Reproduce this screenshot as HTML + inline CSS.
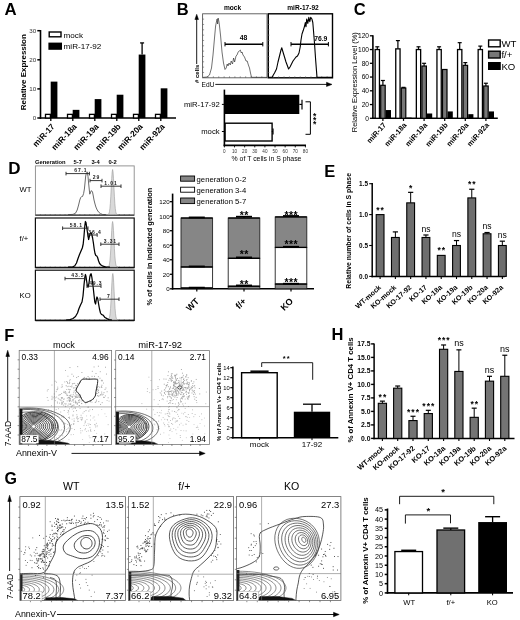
<!DOCTYPE html>
<html><head><meta charset="utf-8"><style>
html,body{margin:0;padding:0;background:#fff;width:520px;height:620px;overflow:hidden}
svg{display:block;filter:blur(0.3px)}
text{font-family:"Liberation Sans", sans-serif}
</style></head><body>
<svg width="520" height="620" viewBox="0 0 520 620">
<rect width="520" height="620" fill="#fff"/>
<text x="4.4" y="14.6" font-size="16.8" font-weight="bold" text-anchor="start" fill="#000">A</text>
<line x1="40.5" y1="30" x2="40.5" y2="118.8" stroke="#000" stroke-width="1.6"/>
<line x1="39.7" y1="118" x2="176" y2="118" stroke="#000" stroke-width="1.6"/>
<line x1="37.3" y1="118" x2="40.5" y2="118" stroke="#000" stroke-width="1.5"/>
<text x="36.2" y="120.2" font-size="6.2" text-anchor="end" fill="#333">0</text>
<line x1="37.3" y1="88.9" x2="40.5" y2="88.9" stroke="#000" stroke-width="1.5"/>
<text x="36.2" y="91.1" font-size="6.2" text-anchor="end" fill="#333">10</text>
<line x1="37.3" y1="59.8" x2="40.5" y2="59.8" stroke="#000" stroke-width="1.5"/>
<text x="36.2" y="62" font-size="6.2" text-anchor="end" fill="#333">20</text>
<line x1="37.3" y1="30.7" x2="40.5" y2="30.7" stroke="#000" stroke-width="1.5"/>
<text x="36.2" y="32.9" font-size="6.2" text-anchor="end" fill="#333">30</text>
<text font-size="8.0" font-weight="bold" text-anchor="middle" transform="translate(26.1,72.2) rotate(-90)">Relative Expression</text>
<rect x="45.5" y="114.36" width="4.9" height="3.64" fill="#fff" stroke="#000" stroke-width="1.3"/>
<rect x="50.7" y="81.62" width="6.7" height="36.38" fill="#000"/>
<line x1="50.8" y1="118" x2="50.8" y2="121" stroke="#000" stroke-width="1.3"/>
<text font-size="8.4" font-weight="bold" text-anchor="end" transform="translate(55.3,127) rotate(-47)">miR-17</text>
<rect x="67.5" y="114.36" width="4.9" height="3.64" fill="#fff" stroke="#000" stroke-width="1.3"/>
<rect x="72.7" y="109.85" width="6.7" height="8.15" fill="#000"/>
<line x1="72.8" y1="118" x2="72.8" y2="121" stroke="#000" stroke-width="1.3"/>
<text font-size="8.4" font-weight="bold" text-anchor="end" transform="translate(77.3,127) rotate(-47)">miR-18a</text>
<rect x="89.5" y="114.36" width="4.9" height="3.64" fill="#fff" stroke="#000" stroke-width="1.3"/>
<rect x="94.7" y="99.09" width="6.7" height="18.91" fill="#000"/>
<line x1="94.8" y1="118" x2="94.8" y2="121" stroke="#000" stroke-width="1.3"/>
<text font-size="8.4" font-weight="bold" text-anchor="end" transform="translate(99.3,127) rotate(-47)">miR-19a</text>
<rect x="111.5" y="114.36" width="4.9" height="3.64" fill="#fff" stroke="#000" stroke-width="1.3"/>
<rect x="116.7" y="94.72" width="6.7" height="23.28" fill="#000"/>
<line x1="116.8" y1="118" x2="116.8" y2="121" stroke="#000" stroke-width="1.3"/>
<text font-size="8.4" font-weight="bold" text-anchor="end" transform="translate(121.3,127) rotate(-47)">miR-19b</text>
<rect x="133.5" y="114.36" width="4.9" height="3.64" fill="#fff" stroke="#000" stroke-width="1.3"/>
<rect x="138.7" y="54.56" width="6.7" height="63.44" fill="#000"/>
<line x1="142.1" y1="54.56" x2="142.1" y2="42.92" stroke="#000" stroke-width="1.3"/>
<line x1="140.1" y1="42.92" x2="144.1" y2="42.92" stroke="#000" stroke-width="1.3"/>
<line x1="138.8" y1="118" x2="138.8" y2="121" stroke="#000" stroke-width="1.3"/>
<text font-size="8.4" font-weight="bold" text-anchor="end" transform="translate(143.3,127) rotate(-47)">miR-20a</text>
<rect x="155.5" y="114.36" width="4.9" height="3.64" fill="#fff" stroke="#000" stroke-width="1.3"/>
<rect x="160.7" y="88.32" width="6.7" height="29.68" fill="#000"/>
<line x1="160.8" y1="118" x2="160.8" y2="121" stroke="#000" stroke-width="1.3"/>
<text font-size="8.4" font-weight="bold" text-anchor="end" transform="translate(165.3,127) rotate(-47)">miR-92a</text>
<rect x="49.2" y="32" width="11.8" height="4.8" fill="#fff" stroke="#000" stroke-width="1.4"/>
<rect x="48.4" y="42.6" width="13.6" height="7.2" fill="#000"/>
<text x="63.6" y="37.6" font-size="8.1" text-anchor="start" fill="#000">mock</text>
<text x="63.6" y="49.2" font-size="8.1" text-anchor="start" fill="#000">miR-17-92</text>
<text x="176.8" y="14.6" font-size="16.5" font-weight="bold" text-anchor="start" fill="#000">B</text>
<text x="232.5" y="10.2" font-size="6.6" font-weight="bold" text-anchor="middle" fill="#000">mock</text>
<text x="303" y="10.2" font-size="6.6" font-weight="bold" text-anchor="middle" fill="#000">miR-17-92</text>
<rect x="202.6" y="13.8" width="64.4" height="64" fill="none" stroke="#555" stroke-width="0.9"/>
<rect x="268.3" y="13.8" width="64.2" height="64" fill="none" stroke="#000" stroke-width="1.4"/>
<line x1="202.6" y1="19.13" x2="204.1" y2="19.13" stroke="#555" stroke-width="0.6"/>
<line x1="202.6" y1="24.47" x2="204.1" y2="24.47" stroke="#555" stroke-width="0.6"/>
<line x1="202.6" y1="29.8" x2="204.1" y2="29.8" stroke="#555" stroke-width="0.6"/>
<line x1="202.6" y1="35.13" x2="204.1" y2="35.13" stroke="#555" stroke-width="0.6"/>
<line x1="202.6" y1="40.47" x2="204.1" y2="40.47" stroke="#555" stroke-width="0.6"/>
<line x1="202.6" y1="45.8" x2="204.1" y2="45.8" stroke="#555" stroke-width="0.6"/>
<line x1="202.6" y1="51.13" x2="204.1" y2="51.13" stroke="#555" stroke-width="0.6"/>
<line x1="202.6" y1="56.47" x2="204.1" y2="56.47" stroke="#555" stroke-width="0.6"/>
<line x1="202.6" y1="61.8" x2="204.1" y2="61.8" stroke="#555" stroke-width="0.6"/>
<line x1="202.6" y1="67.13" x2="204.1" y2="67.13" stroke="#555" stroke-width="0.6"/>
<line x1="202.6" y1="72.47" x2="204.1" y2="72.47" stroke="#555" stroke-width="0.6"/>
<line x1="207.98" y1="77.8" x2="207.98" y2="76.3" stroke="#555" stroke-width="0.6"/>
<line x1="213.37" y1="77.8" x2="213.37" y2="76.3" stroke="#555" stroke-width="0.6"/>
<line x1="218.75" y1="77.8" x2="218.75" y2="76.3" stroke="#555" stroke-width="0.6"/>
<line x1="224.13" y1="77.8" x2="224.13" y2="76.3" stroke="#555" stroke-width="0.6"/>
<line x1="229.52" y1="77.8" x2="229.52" y2="76.3" stroke="#555" stroke-width="0.6"/>
<line x1="234.9" y1="77.8" x2="234.9" y2="76.3" stroke="#555" stroke-width="0.6"/>
<line x1="240.28" y1="77.8" x2="240.28" y2="76.3" stroke="#555" stroke-width="0.6"/>
<line x1="245.67" y1="77.8" x2="245.67" y2="76.3" stroke="#555" stroke-width="0.6"/>
<line x1="251.05" y1="77.8" x2="251.05" y2="76.3" stroke="#555" stroke-width="0.6"/>
<line x1="256.43" y1="77.8" x2="256.43" y2="76.3" stroke="#555" stroke-width="0.6"/>
<line x1="261.82" y1="77.8" x2="261.82" y2="76.3" stroke="#555" stroke-width="0.6"/>
<line x1="267.9" y1="19.13" x2="269.4" y2="19.13" stroke="#555" stroke-width="0.6"/>
<line x1="267.9" y1="24.47" x2="269.4" y2="24.47" stroke="#555" stroke-width="0.6"/>
<line x1="267.9" y1="29.8" x2="269.4" y2="29.8" stroke="#555" stroke-width="0.6"/>
<line x1="267.9" y1="35.13" x2="269.4" y2="35.13" stroke="#555" stroke-width="0.6"/>
<line x1="267.9" y1="40.47" x2="269.4" y2="40.47" stroke="#555" stroke-width="0.6"/>
<line x1="267.9" y1="45.8" x2="269.4" y2="45.8" stroke="#555" stroke-width="0.6"/>
<line x1="267.9" y1="51.13" x2="269.4" y2="51.13" stroke="#555" stroke-width="0.6"/>
<line x1="267.9" y1="56.47" x2="269.4" y2="56.47" stroke="#555" stroke-width="0.6"/>
<line x1="267.9" y1="61.8" x2="269.4" y2="61.8" stroke="#555" stroke-width="0.6"/>
<line x1="267.9" y1="67.13" x2="269.4" y2="67.13" stroke="#555" stroke-width="0.6"/>
<line x1="267.9" y1="72.47" x2="269.4" y2="72.47" stroke="#555" stroke-width="0.6"/>
<line x1="273.28" y1="77.8" x2="273.28" y2="76.3" stroke="#555" stroke-width="0.6"/>
<line x1="278.67" y1="77.8" x2="278.67" y2="76.3" stroke="#555" stroke-width="0.6"/>
<line x1="284.05" y1="77.8" x2="284.05" y2="76.3" stroke="#555" stroke-width="0.6"/>
<line x1="289.43" y1="77.8" x2="289.43" y2="76.3" stroke="#555" stroke-width="0.6"/>
<line x1="294.82" y1="77.8" x2="294.82" y2="76.3" stroke="#555" stroke-width="0.6"/>
<line x1="300.2" y1="77.8" x2="300.2" y2="76.3" stroke="#555" stroke-width="0.6"/>
<line x1="305.58" y1="77.8" x2="305.58" y2="76.3" stroke="#555" stroke-width="0.6"/>
<line x1="310.97" y1="77.8" x2="310.97" y2="76.3" stroke="#555" stroke-width="0.6"/>
<line x1="316.35" y1="77.8" x2="316.35" y2="76.3" stroke="#555" stroke-width="0.6"/>
<line x1="321.73" y1="77.8" x2="321.73" y2="76.3" stroke="#555" stroke-width="0.6"/>
<line x1="327.12" y1="77.8" x2="327.12" y2="76.3" stroke="#555" stroke-width="0.6"/>
<path d="M203,77.4 L207,77 L209.5,75 L211.5,68 L213,55 L214.5,38 L215.6,26 L216.4,22 L217.1,19 L217.6,24 L218.1,18 L218.8,21 L219.4,25 L220.6,36 L222,52 L223.5,63 L225,69.5 L226.2,68 L227.2,64 L228,66 L229,63 L230.3,65 L231.2,61 L232.5,64 L233.6,58 L234.6,62 L236,56 L237,55 L238.2,52 L239.2,51 L240.3,50 L241.3,53 L242,52 L243,55 L244.5,57 L246,61 L247.2,61 L248.4,65 L249.5,68 L250.5,73 L251.5,77.3 L267,77.4" stroke="#333" stroke-width="0.7" fill="none" stroke-linejoin="round"/>
<path d="M268,77.4 L272,77.2 L274.5,73 L276.5,69 L278,62 L279.5,56 L281,50 L281.8,47.8 L283,52 L284.5,57 L286,62 L287.5,66 L288.6,69 L290,67 L291.5,64 L293,61 L294.5,59 L296,57 L297.5,56 L299,53 L300.2,47 L301,40 L302,34 L303.3,30.3 L304.6,26 L305.3,22.5 L306,26.8 L306.7,19 L307.8,23.4 L308.8,17.3 L309.8,21.6 L310.7,17.3 L311.9,19 L312.8,22.5 L313.6,32 L314.5,43.3 L315.7,60.6 L317,77.4 L332,77.4" stroke="#000" stroke-width="1.1" fill="none" stroke-linejoin="round"/>
<line x1="225" y1="44.2" x2="262.8" y2="44.2" stroke="#000" stroke-width="1.5"/>
<line x1="225" y1="42" x2="225" y2="46.4" stroke="#000" stroke-width="1"/>
<line x1="262.8" y1="42" x2="262.8" y2="46.4" stroke="#000" stroke-width="1"/>
<text x="243.5" y="39.6" font-size="6.8" font-weight="bold" text-anchor="middle" fill="#000">48</text>
<line x1="291" y1="44.2" x2="328.4" y2="44.2" stroke="#000" stroke-width="1.5"/>
<line x1="291" y1="42" x2="291" y2="46.4" stroke="#000" stroke-width="1"/>
<line x1="328.4" y1="42" x2="328.4" y2="46.4" stroke="#000" stroke-width="1"/>
<text x="320.8" y="40.6" font-size="6.8" font-weight="bold" text-anchor="middle" fill="#000">76.9</text>
<line x1="196.7" y1="64" x2="196.7" y2="17" stroke="#000" stroke-width="0.9"/>
<path d="M194.9,19.5 L196.7,14.3 L198.5,19.5 Z" stroke="#000" stroke-width="0.5" fill="#000" />
<text font-size="6" font-weight="bold" text-anchor="start" transform="translate(198.8,83) rotate(-90)"># cells</text>
<text x="201.6" y="87.2" font-size="6.6" text-anchor="start" fill="#000">EdU</text>
<line x1="215.3" y1="84.4" x2="328" y2="84.4" stroke="#000" stroke-width="0.9"/>
<path d="M326.5,82.3 L332,84.4 L326.5,86.5 Z" stroke="#000" stroke-width="0.5" fill="#000" />
<line x1="224.4" y1="89.6" x2="224.4" y2="146.2" stroke="#000" stroke-width="1.6"/>
<line x1="223.6" y1="145.4" x2="306" y2="145.4" stroke="#000" stroke-width="1.6"/>
<line x1="224.4" y1="145.4" x2="224.4" y2="147.4" stroke="#000" stroke-width="0.9"/>
<text x="224.4" y="152.6" font-size="4.6" text-anchor="middle" fill="#333">0</text>
<line x1="234.53" y1="145.4" x2="234.53" y2="147.4" stroke="#000" stroke-width="0.9"/>
<text x="234.53" y="152.6" font-size="4.6" text-anchor="middle" fill="#333">10</text>
<line x1="244.65" y1="145.4" x2="244.65" y2="147.4" stroke="#000" stroke-width="0.9"/>
<text x="244.65" y="152.6" font-size="4.6" text-anchor="middle" fill="#333">20</text>
<line x1="254.78" y1="145.4" x2="254.78" y2="147.4" stroke="#000" stroke-width="0.9"/>
<text x="254.78" y="152.6" font-size="4.6" text-anchor="middle" fill="#333">30</text>
<line x1="264.9" y1="145.4" x2="264.9" y2="147.4" stroke="#000" stroke-width="0.9"/>
<text x="264.9" y="152.6" font-size="4.6" text-anchor="middle" fill="#333">40</text>
<line x1="275.02" y1="145.4" x2="275.02" y2="147.4" stroke="#000" stroke-width="0.9"/>
<text x="275.02" y="152.6" font-size="4.6" text-anchor="middle" fill="#333">50</text>
<line x1="285.15" y1="145.4" x2="285.15" y2="147.4" stroke="#000" stroke-width="0.9"/>
<text x="285.15" y="152.6" font-size="4.6" text-anchor="middle" fill="#333">60</text>
<line x1="295.27" y1="145.4" x2="295.27" y2="147.4" stroke="#000" stroke-width="0.9"/>
<text x="295.27" y="152.6" font-size="4.6" text-anchor="middle" fill="#333">70</text>
<line x1="305.4" y1="145.4" x2="305.4" y2="147.4" stroke="#000" stroke-width="0.9"/>
<text x="305.4" y="152.6" font-size="4.6" text-anchor="middle" fill="#333">80</text>
<text x="266.5" y="161.2" font-size="6.9" text-anchor="middle" fill="#000">% of T cells in S phase</text>
<rect x="224.4" y="94.8" width="74.9" height="19.2" fill="#000"/>
<line x1="299.3" y1="104.4" x2="302" y2="104.4" stroke="#000" stroke-width="1.2"/>
<line x1="302" y1="99.8" x2="302" y2="109.5" stroke="#000" stroke-width="1.2"/>
<rect x="225.1" y="123.2" width="47" height="17.8" fill="#fff" stroke="#000" stroke-width="1.4"/>
<line x1="271.8" y1="131.5" x2="273" y2="131.5" stroke="#000" stroke-width="1.2"/>
<line x1="273" y1="128.5" x2="273" y2="134.5" stroke="#000" stroke-width="1.2"/>
<line x1="221.9" y1="104.4" x2="224.4" y2="104.4" stroke="#000" stroke-width="1"/>
<line x1="221.9" y1="131.5" x2="224.4" y2="131.5" stroke="#000" stroke-width="1"/>
<text x="219.8" y="106.9" font-size="7.7" text-anchor="end" fill="#000">miR-17-92</text>
<text x="219.6" y="134.4" font-size="7.7" text-anchor="end" fill="#000">mock</text>
<path d="M305.5,101.8 L310.4,101.8 L310.4,134.3 L305.5,134.3" stroke="#000" stroke-width="1" fill="none" />
<text x="314.6" y="118.6" font-size="8.5" font-weight="bold" text-anchor="middle" fill="#000">*</text>
<text x="314.6" y="123" font-size="8.5" font-weight="bold" text-anchor="middle" fill="#000">*</text>
<text x="314.6" y="127.4" font-size="8.5" font-weight="bold" text-anchor="middle" fill="#000">*</text>
<text x="353.8" y="14.6" font-size="16.5" font-weight="bold" text-anchor="start" fill="#000">C</text>
<line x1="372.9" y1="35.2" x2="372.9" y2="119.1" stroke="#000" stroke-width="1.6"/>
<line x1="372.1" y1="118.3" x2="497.8" y2="118.3" stroke="#000" stroke-width="1.6"/>
<line x1="369.9" y1="118.3" x2="372.9" y2="118.3" stroke="#000" stroke-width="1.3"/>
<text x="369" y="120.6" font-size="6.6" text-anchor="end" fill="#000">0</text>
<line x1="369.9" y1="104.55" x2="372.9" y2="104.55" stroke="#000" stroke-width="1.3"/>
<text x="369" y="106.85" font-size="6.6" text-anchor="end" fill="#000">20</text>
<line x1="369.9" y1="90.8" x2="372.9" y2="90.8" stroke="#000" stroke-width="1.3"/>
<text x="369" y="93.1" font-size="6.6" text-anchor="end" fill="#000">40</text>
<line x1="369.9" y1="77.05" x2="372.9" y2="77.05" stroke="#000" stroke-width="1.3"/>
<text x="369" y="79.35" font-size="6.6" text-anchor="end" fill="#000">60</text>
<line x1="369.9" y1="63.3" x2="372.9" y2="63.3" stroke="#000" stroke-width="1.3"/>
<text x="369" y="65.6" font-size="6.6" text-anchor="end" fill="#000">80</text>
<line x1="369.9" y1="49.55" x2="372.9" y2="49.55" stroke="#000" stroke-width="1.3"/>
<text x="369" y="51.85" font-size="6.6" text-anchor="end" fill="#000">100</text>
<line x1="369.9" y1="35.8" x2="372.9" y2="35.8" stroke="#000" stroke-width="1.3"/>
<text x="369" y="38.1" font-size="6.6" text-anchor="end" fill="#000">120</text>
<text font-size="7.5" text-anchor="middle" transform="translate(356.9,82.2) rotate(-90)">Relative Expression Level (%)</text>
<line x1="377.3" y1="46.8" x2="377.3" y2="49.55" stroke="#000" stroke-width="1.2"/>
<line x1="375.3" y1="46.8" x2="379.3" y2="46.8" stroke="#000" stroke-width="1.2"/>
<line x1="382.9" y1="80.49" x2="382.9" y2="85.3" stroke="#000" stroke-width="1.2"/>
<line x1="380.9" y1="80.49" x2="384.9" y2="80.49" stroke="#000" stroke-width="1.2"/>
<rect x="375.15" y="49.55" width="4.3" height="68.75" fill="#fff" stroke="#000" stroke-width="1.3"/>
<rect x="380.7" y="85.3" width="4.5" height="33" fill="#777" stroke="#000" stroke-width="1.2"/>
<rect x="385.8" y="110.05" width="5.2" height="8.25" fill="#000"/>
<line x1="382.9" y1="118.3" x2="382.9" y2="120.9" stroke="#000" stroke-width="1.2"/>
<text font-size="7.4" font-weight="bold" text-anchor="end" transform="translate(386.5,125.5) rotate(-48)">miR-17</text>
<line x1="397.9" y1="40.61" x2="397.9" y2="48.86" stroke="#000" stroke-width="1.2"/>
<line x1="395.9" y1="40.61" x2="399.9" y2="40.61" stroke="#000" stroke-width="1.2"/>
<line x1="403.5" y1="87.36" x2="403.5" y2="88.05" stroke="#000" stroke-width="1.2"/>
<line x1="401.5" y1="87.36" x2="405.5" y2="87.36" stroke="#000" stroke-width="1.2"/>
<rect x="395.75" y="48.86" width="4.3" height="69.44" fill="#fff" stroke="#000" stroke-width="1.3"/>
<rect x="401.3" y="88.05" width="4.5" height="30.25" fill="#777" stroke="#000" stroke-width="1.2"/>
<rect x="406.4" y="117.61" width="5.2" height="0.69" fill="#000"/>
<line x1="403.5" y1="118.3" x2="403.5" y2="120.9" stroke="#000" stroke-width="1.2"/>
<text font-size="7.4" font-weight="bold" text-anchor="end" transform="translate(407.1,125.5) rotate(-48)">miR-18a</text>
<line x1="418.5" y1="46.8" x2="418.5" y2="49.55" stroke="#000" stroke-width="1.2"/>
<line x1="416.5" y1="46.8" x2="420.5" y2="46.8" stroke="#000" stroke-width="1.2"/>
<line x1="424.1" y1="63.3" x2="424.1" y2="66.05" stroke="#000" stroke-width="1.2"/>
<line x1="422.1" y1="63.3" x2="426.1" y2="63.3" stroke="#000" stroke-width="1.2"/>
<rect x="416.35" y="49.55" width="4.3" height="68.75" fill="#fff" stroke="#000" stroke-width="1.3"/>
<rect x="421.9" y="66.05" width="4.5" height="52.25" fill="#777" stroke="#000" stroke-width="1.2"/>
<rect x="427" y="113.49" width="5.2" height="4.81" fill="#000"/>
<line x1="424.1" y1="118.3" x2="424.1" y2="120.9" stroke="#000" stroke-width="1.2"/>
<text font-size="7.4" font-weight="bold" text-anchor="end" transform="translate(427.7,125.5) rotate(-48)">miR-19a</text>
<line x1="439.1" y1="46.8" x2="439.1" y2="49.55" stroke="#000" stroke-width="1.2"/>
<line x1="437.1" y1="46.8" x2="441.1" y2="46.8" stroke="#000" stroke-width="1.2"/>
<rect x="436.95" y="49.55" width="4.3" height="68.75" fill="#fff" stroke="#000" stroke-width="1.3"/>
<rect x="442.5" y="69.49" width="4.5" height="48.81" fill="#777" stroke="#000" stroke-width="1.2"/>
<rect x="447.6" y="111.42" width="5.2" height="6.88" fill="#000"/>
<line x1="444.7" y1="118.3" x2="444.7" y2="120.9" stroke="#000" stroke-width="1.2"/>
<text font-size="7.4" font-weight="bold" text-anchor="end" transform="translate(448.3,125.5) rotate(-48)">miR-19b</text>
<line x1="459.7" y1="42.67" x2="459.7" y2="49.55" stroke="#000" stroke-width="1.2"/>
<line x1="457.7" y1="42.67" x2="461.7" y2="42.67" stroke="#000" stroke-width="1.2"/>
<line x1="465.3" y1="62.61" x2="465.3" y2="65.36" stroke="#000" stroke-width="1.2"/>
<line x1="463.3" y1="62.61" x2="467.3" y2="62.61" stroke="#000" stroke-width="1.2"/>
<rect x="457.55" y="49.55" width="4.3" height="68.75" fill="#fff" stroke="#000" stroke-width="1.3"/>
<rect x="463.1" y="65.36" width="4.5" height="52.94" fill="#777" stroke="#000" stroke-width="1.2"/>
<rect x="468.2" y="114.17" width="5.2" height="4.12" fill="#000"/>
<line x1="465.3" y1="118.3" x2="465.3" y2="120.9" stroke="#000" stroke-width="1.2"/>
<text font-size="7.4" font-weight="bold" text-anchor="end" transform="translate(468.9,125.5) rotate(-48)">miR-20a</text>
<line x1="480.3" y1="46.11" x2="480.3" y2="49.55" stroke="#000" stroke-width="1.2"/>
<line x1="478.3" y1="46.11" x2="482.3" y2="46.11" stroke="#000" stroke-width="1.2"/>
<line x1="485.9" y1="83.24" x2="485.9" y2="85.99" stroke="#000" stroke-width="1.2"/>
<line x1="483.9" y1="83.24" x2="487.9" y2="83.24" stroke="#000" stroke-width="1.2"/>
<rect x="478.15" y="49.55" width="4.3" height="68.75" fill="#fff" stroke="#000" stroke-width="1.3"/>
<rect x="483.7" y="85.99" width="4.5" height="32.31" fill="#777" stroke="#000" stroke-width="1.2"/>
<rect x="488.8" y="111.42" width="5.2" height="6.88" fill="#000"/>
<line x1="485.9" y1="118.3" x2="485.9" y2="120.9" stroke="#000" stroke-width="1.2"/>
<text font-size="7.4" font-weight="bold" text-anchor="end" transform="translate(489.5,125.5) rotate(-48)">miR-92a</text>
<rect x="488.6" y="40" width="11.6" height="6.8" fill="#fff" stroke="#000" stroke-width="1.4"/>
<rect x="488.6" y="51.2" width="11.6" height="6.8" fill="#777" stroke="#000" stroke-width="1.4"/>
<rect x="488" y="62" width="12.8" height="8" fill="#000"/>
<text x="501.4" y="46.9" font-size="9.6" text-anchor="start" fill="#000">WT</text>
<text x="501.4" y="58.2" font-size="9.6" text-anchor="start" fill="#000">f/+</text>
<text x="501.4" y="69.6" font-size="9.6" text-anchor="start" fill="#000">KO</text>
<text x="8.3" y="173.8" font-size="17" font-weight="bold" text-anchor="start" fill="#000">D</text>
<text x="35" y="163.9" font-size="5.8" font-weight="bold" text-anchor="start" fill="#000">Generation</text>
<text x="77.8" y="163.9" font-size="5.8" font-weight="bold" text-anchor="middle" fill="#000">5-7</text>
<text x="95.6" y="163.9" font-size="5.8" font-weight="bold" text-anchor="middle" fill="#000">3-4</text>
<text x="112.6" y="163.9" font-size="5.8" font-weight="bold" text-anchor="middle" fill="#000">0-2</text>
<text x="19.6" y="192.2" font-size="7.7" text-anchor="start" fill="#000">WT</text>
<text x="19.6" y="241.2" font-size="7.7" text-anchor="start" fill="#000">f/+</text>
<text x="19.6" y="298.4" font-size="7.7" text-anchor="start" fill="#000">KO</text>
<rect x="35.4" y="165.9" width="98.8" height="49.3" fill="none" stroke="#8a8a8a" stroke-width="0.9"/>
<line x1="40.34" y1="215.2" x2="40.34" y2="214" stroke="#666" stroke-width="0.5"/>
<line x1="45.28" y1="215.2" x2="45.28" y2="214" stroke="#666" stroke-width="0.5"/>
<line x1="50.22" y1="215.2" x2="50.22" y2="214" stroke="#666" stroke-width="0.5"/>
<line x1="55.16" y1="215.2" x2="55.16" y2="214" stroke="#666" stroke-width="0.5"/>
<line x1="60.1" y1="215.2" x2="60.1" y2="214" stroke="#666" stroke-width="0.5"/>
<line x1="65.04" y1="215.2" x2="65.04" y2="214" stroke="#666" stroke-width="0.5"/>
<line x1="69.98" y1="215.2" x2="69.98" y2="214" stroke="#666" stroke-width="0.5"/>
<line x1="74.92" y1="215.2" x2="74.92" y2="214" stroke="#666" stroke-width="0.5"/>
<line x1="79.86" y1="215.2" x2="79.86" y2="214" stroke="#666" stroke-width="0.5"/>
<line x1="84.8" y1="215.2" x2="84.8" y2="214" stroke="#666" stroke-width="0.5"/>
<line x1="89.74" y1="215.2" x2="89.74" y2="214" stroke="#666" stroke-width="0.5"/>
<line x1="94.68" y1="215.2" x2="94.68" y2="214" stroke="#666" stroke-width="0.5"/>
<line x1="99.62" y1="215.2" x2="99.62" y2="214" stroke="#666" stroke-width="0.5"/>
<line x1="104.56" y1="215.2" x2="104.56" y2="214" stroke="#666" stroke-width="0.5"/>
<line x1="109.5" y1="215.2" x2="109.5" y2="214" stroke="#666" stroke-width="0.5"/>
<line x1="114.44" y1="215.2" x2="114.44" y2="214" stroke="#666" stroke-width="0.5"/>
<line x1="119.38" y1="215.2" x2="119.38" y2="214" stroke="#666" stroke-width="0.5"/>
<line x1="124.32" y1="215.2" x2="124.32" y2="214" stroke="#666" stroke-width="0.5"/>
<line x1="129.26" y1="215.2" x2="129.26" y2="214" stroke="#666" stroke-width="0.5"/>
<line x1="35.4" y1="215.2" x2="134.2" y2="215.2" stroke="#333" stroke-width="1.3"/>
<path d="M107.2,214.59 L107.65,214.55 L108.1,214.43 L108.55,214.12 L109,213.36 L109.45,211.71 L109.9,208.61 L110.35,203.5 L110.8,196.22 L111.25,187.38 L111.7,178.56 L112.15,171.96 L112.6,169.5 L113.05,171.96 L113.5,178.56 L113.95,187.38 L114.4,196.22 L114.85,203.5 L115.3,208.61 L115.75,211.71 L116.2,213.36 L116.65,214.12 L117.1,214.43 L117.55,214.55 L118,214.59 Z" stroke="#999" stroke-width="0.6" fill="#d9d9d9" stroke-linejoin="round"/>
<path d="M68,214.6 L73,214.4 L75.5,213.2 L77.2,210 L78.6,205 L79.8,200 L80.7,197.6 L81.6,196.6 L82.6,196.4 L83.6,193.5 L84.4,189 L85,183 L85.7,176 L86.4,172.8 L87.3,172 L88,176.5 L88.7,184 L89.3,190 L89.8,194.2 L90.6,192 L91.4,190.6 L92.5,192 L93.3,196 L94,200 L95,204 L95.9,207 L97.2,210 L98.7,212.2 L100.5,213.6 L102.7,214.5 L106,214.6" stroke="#444" stroke-width="0.8" fill="none" stroke-linejoin="round"/>
<line x1="66" y1="173.6" x2="89.4" y2="173.6" stroke="#222" stroke-width="0.9"/>
<line x1="66" y1="171.8" x2="66" y2="175.4" stroke="#222" stroke-width="0.9"/>
<line x1="89.4" y1="171.8" x2="89.4" y2="175.4" stroke="#222" stroke-width="0.9"/>
<text x="80.9" y="172.1" font-size="5.0" font-weight="bold" letter-spacing="0.9" text-anchor="middle" fill="#222">67.1</text>
<line x1="90" y1="180.6" x2="102" y2="180.6" stroke="#222" stroke-width="0.9"/>
<line x1="90" y1="178.8" x2="90" y2="182.4" stroke="#222" stroke-width="0.9"/>
<line x1="102" y1="178.8" x2="102" y2="182.4" stroke="#222" stroke-width="0.9"/>
<text x="96.4" y="179.1" font-size="5.0" font-weight="bold" letter-spacing="0.9" text-anchor="middle" fill="#222">29</text>
<line x1="101" y1="186.2" x2="121" y2="186.2" stroke="#222" stroke-width="0.9"/>
<line x1="101" y1="184.4" x2="101" y2="188" stroke="#222" stroke-width="0.9"/>
<line x1="121" y1="184.4" x2="121" y2="188" stroke="#222" stroke-width="0.9"/>
<text x="111" y="184.7" font-size="5.0" font-weight="bold" letter-spacing="0.9" text-anchor="middle" fill="#222">1.01</text>
<rect x="35.4" y="218" width="98.8" height="49.6" fill="none" stroke="#111" stroke-width="1.2"/>
<line x1="40.34" y1="267.6" x2="40.34" y2="266.4" stroke="#666" stroke-width="0.5"/>
<line x1="45.28" y1="267.6" x2="45.28" y2="266.4" stroke="#666" stroke-width="0.5"/>
<line x1="50.22" y1="267.6" x2="50.22" y2="266.4" stroke="#666" stroke-width="0.5"/>
<line x1="55.16" y1="267.6" x2="55.16" y2="266.4" stroke="#666" stroke-width="0.5"/>
<line x1="60.1" y1="267.6" x2="60.1" y2="266.4" stroke="#666" stroke-width="0.5"/>
<line x1="65.04" y1="267.6" x2="65.04" y2="266.4" stroke="#666" stroke-width="0.5"/>
<line x1="69.98" y1="267.6" x2="69.98" y2="266.4" stroke="#666" stroke-width="0.5"/>
<line x1="74.92" y1="267.6" x2="74.92" y2="266.4" stroke="#666" stroke-width="0.5"/>
<line x1="79.86" y1="267.6" x2="79.86" y2="266.4" stroke="#666" stroke-width="0.5"/>
<line x1="84.8" y1="267.6" x2="84.8" y2="266.4" stroke="#666" stroke-width="0.5"/>
<line x1="89.74" y1="267.6" x2="89.74" y2="266.4" stroke="#666" stroke-width="0.5"/>
<line x1="94.68" y1="267.6" x2="94.68" y2="266.4" stroke="#666" stroke-width="0.5"/>
<line x1="99.62" y1="267.6" x2="99.62" y2="266.4" stroke="#666" stroke-width="0.5"/>
<line x1="104.56" y1="267.6" x2="104.56" y2="266.4" stroke="#666" stroke-width="0.5"/>
<line x1="109.5" y1="267.6" x2="109.5" y2="266.4" stroke="#666" stroke-width="0.5"/>
<line x1="114.44" y1="267.6" x2="114.44" y2="266.4" stroke="#666" stroke-width="0.5"/>
<line x1="119.38" y1="267.6" x2="119.38" y2="266.4" stroke="#666" stroke-width="0.5"/>
<line x1="124.32" y1="267.6" x2="124.32" y2="266.4" stroke="#666" stroke-width="0.5"/>
<line x1="129.26" y1="267.6" x2="129.26" y2="266.4" stroke="#666" stroke-width="0.5"/>
<line x1="35.4" y1="267.6" x2="134.2" y2="267.6" stroke="#111" stroke-width="1.5"/>
<path d="M107.2,266.99 L107.65,266.95 L108.1,266.83 L108.55,266.52 L109,265.74 L109.45,264.09 L109.9,260.96 L110.35,255.81 L110.8,248.45 L111.25,239.54 L111.7,230.64 L112.15,223.98 L112.6,221.5 L113.05,223.98 L113.5,230.64 L113.95,239.54 L114.4,248.45 L114.85,255.81 L115.3,260.96 L115.75,264.09 L116.2,265.74 L116.65,266.52 L117.1,266.83 L117.55,266.95 L118,266.99 Z" stroke="#999" stroke-width="0.6" fill="#d9d9d9" stroke-linejoin="round"/>
<path d="M68,267.2 L72.5,267 L74.8,265.8 L76.5,263 L78,258.5 L79.5,254.5 L81,251 L82.3,248 L83.2,244 L84,236 L84.8,226 L85.4,221.5 L86,222.5 L86.7,227.5 L87.4,232 L88,236 L88.6,239.5 L89.2,237 L90,234 L91,232.5 L91.8,234.5 L92.6,238 L93.4,243 L94.2,249 L95,253.5 L95.8,255.5 L96.8,256 L97.6,257.5 L98.6,261 L99.6,263.5 L101,265 L103,266.2 L106,267 L110,267.2" stroke="#000" stroke-width="1.25" fill="none" stroke-linejoin="round"/>
<line x1="62.6" y1="228.2" x2="88" y2="228.2" stroke="#222" stroke-width="0.9"/>
<line x1="62.6" y1="226.4" x2="62.6" y2="230" stroke="#222" stroke-width="0.9"/>
<line x1="88" y1="226.4" x2="88" y2="230" stroke="#222" stroke-width="0.9"/>
<text x="76.4" y="226.7" font-size="5.0" font-weight="bold" letter-spacing="0.9" text-anchor="middle" fill="#222">58.1</text>
<line x1="88.2" y1="235" x2="97.2" y2="235" stroke="#222" stroke-width="0.9"/>
<line x1="88.2" y1="233.2" x2="88.2" y2="236.8" stroke="#222" stroke-width="0.9"/>
<line x1="97.2" y1="233.2" x2="97.2" y2="236.8" stroke="#222" stroke-width="0.9"/>
<text x="95" y="233.5" font-size="5.0" font-weight="bold" letter-spacing="0.9" text-anchor="middle" fill="#222">36.4</text>
<line x1="100.8" y1="244.2" x2="119" y2="244.2" stroke="#222" stroke-width="0.9"/>
<line x1="100.8" y1="242.4" x2="100.8" y2="246" stroke="#222" stroke-width="0.9"/>
<line x1="119" y1="242.4" x2="119" y2="246" stroke="#222" stroke-width="0.9"/>
<text x="110.4" y="242.7" font-size="5.0" font-weight="bold" letter-spacing="0.9" text-anchor="middle" fill="#222">3.31</text>
<rect x="35.4" y="270.2" width="98.8" height="50.2" fill="none" stroke="#111" stroke-width="1.2"/>
<line x1="40.34" y1="320.4" x2="40.34" y2="319.2" stroke="#666" stroke-width="0.5"/>
<line x1="45.28" y1="320.4" x2="45.28" y2="319.2" stroke="#666" stroke-width="0.5"/>
<line x1="50.22" y1="320.4" x2="50.22" y2="319.2" stroke="#666" stroke-width="0.5"/>
<line x1="55.16" y1="320.4" x2="55.16" y2="319.2" stroke="#666" stroke-width="0.5"/>
<line x1="60.1" y1="320.4" x2="60.1" y2="319.2" stroke="#666" stroke-width="0.5"/>
<line x1="65.04" y1="320.4" x2="65.04" y2="319.2" stroke="#666" stroke-width="0.5"/>
<line x1="69.98" y1="320.4" x2="69.98" y2="319.2" stroke="#666" stroke-width="0.5"/>
<line x1="74.92" y1="320.4" x2="74.92" y2="319.2" stroke="#666" stroke-width="0.5"/>
<line x1="79.86" y1="320.4" x2="79.86" y2="319.2" stroke="#666" stroke-width="0.5"/>
<line x1="84.8" y1="320.4" x2="84.8" y2="319.2" stroke="#666" stroke-width="0.5"/>
<line x1="89.74" y1="320.4" x2="89.74" y2="319.2" stroke="#666" stroke-width="0.5"/>
<line x1="94.68" y1="320.4" x2="94.68" y2="319.2" stroke="#666" stroke-width="0.5"/>
<line x1="99.62" y1="320.4" x2="99.62" y2="319.2" stroke="#666" stroke-width="0.5"/>
<line x1="104.56" y1="320.4" x2="104.56" y2="319.2" stroke="#666" stroke-width="0.5"/>
<line x1="109.5" y1="320.4" x2="109.5" y2="319.2" stroke="#666" stroke-width="0.5"/>
<line x1="114.44" y1="320.4" x2="114.44" y2="319.2" stroke="#666" stroke-width="0.5"/>
<line x1="119.38" y1="320.4" x2="119.38" y2="319.2" stroke="#666" stroke-width="0.5"/>
<line x1="124.32" y1="320.4" x2="124.32" y2="319.2" stroke="#666" stroke-width="0.5"/>
<line x1="129.26" y1="320.4" x2="129.26" y2="319.2" stroke="#666" stroke-width="0.5"/>
<line x1="35.4" y1="320.4" x2="134.2" y2="320.4" stroke="#111" stroke-width="1.5"/>
<path d="M107.4,319.79 L107.85,319.75 L108.3,319.63 L108.75,319.31 L109.2,318.52 L109.65,316.84 L110.1,313.65 L110.55,308.41 L111,300.93 L111.45,291.85 L111.9,282.81 L112.35,276.03 L112.8,273.5 L113.25,276.03 L113.7,282.81 L114.15,291.85 L114.6,300.93 L115.05,308.41 L115.5,313.65 L115.95,316.84 L116.4,318.52 L116.85,319.31 L117.3,319.63 L117.75,319.75 L118.2,319.79 Z" stroke="#999" stroke-width="0.6" fill="#d9d9d9" stroke-linejoin="round"/>
<path d="M66,320 L70,319.6 L73,318.5 L75.5,316.5 L77.5,313 L79,308.5 L80.5,305 L82,302 L83,296 L84,285 L84.8,277.5 L85.4,274.5 L86,276.5 L86.7,281.5 L87.4,286 L88.2,287 L89,283 L89.8,277 L90.6,274 L91.2,273.8 L91.8,277 L92.5,282 L93.2,287.5 L94,295 L94.8,302 L95.6,304 L96.4,299 L97,297 L97.8,299 L98.6,304 L99.5,309 L100.5,313 L101.5,314.5 L102.5,314.8 L103.5,315.5 L105,317.5 L107,318.6 L109,319.6 L112,320" stroke="#000" stroke-width="1.25" fill="none" stroke-linejoin="round"/>
<line x1="65" y1="278.6" x2="85" y2="278.6" stroke="#222" stroke-width="0.9"/>
<line x1="65" y1="276.8" x2="65" y2="280.4" stroke="#222" stroke-width="0.9"/>
<line x1="85" y1="276.8" x2="85" y2="280.4" stroke="#222" stroke-width="0.9"/>
<text x="77.9" y="277.1" font-size="5.0" font-weight="bold" letter-spacing="0.9" text-anchor="middle" fill="#222">43.5</text>
<line x1="87" y1="286.2" x2="101" y2="286.2" stroke="#222" stroke-width="0.9"/>
<line x1="87" y1="284.4" x2="87" y2="288" stroke="#222" stroke-width="0.9"/>
<line x1="101" y1="284.4" x2="101" y2="288" stroke="#222" stroke-width="0.9"/>
<text x="95.8" y="284.7" font-size="5.0" font-weight="bold" letter-spacing="0.9" text-anchor="middle" fill="#222">49.3</text>
<line x1="100" y1="299.2" x2="119" y2="299.2" stroke="#222" stroke-width="0.9"/>
<line x1="100" y1="297.4" x2="100" y2="301" stroke="#222" stroke-width="0.9"/>
<line x1="119" y1="297.4" x2="119" y2="301" stroke="#222" stroke-width="0.9"/>
<text x="108.8" y="297.7" font-size="5.0" font-weight="bold" letter-spacing="0.9" text-anchor="middle" fill="#222">7</text>
<line x1="172.6" y1="193.6" x2="172.6" y2="289.6" stroke="#000" stroke-width="1.6"/>
<line x1="171.8" y1="288.8" x2="314" y2="288.8" stroke="#000" stroke-width="1.6"/>
<line x1="170" y1="288.8" x2="172.6" y2="288.8" stroke="#000" stroke-width="1.3"/>
<text x="169.6" y="291.3" font-size="6.2" text-anchor="end" fill="#000">0</text>
<line x1="170" y1="274.28" x2="172.6" y2="274.28" stroke="#000" stroke-width="1.3"/>
<text x="169.6" y="276.78" font-size="6.2" text-anchor="end" fill="#000">20</text>
<line x1="170" y1="259.76" x2="172.6" y2="259.76" stroke="#000" stroke-width="1.3"/>
<text x="169.6" y="262.26" font-size="6.2" text-anchor="end" fill="#000">40</text>
<line x1="170" y1="245.24" x2="172.6" y2="245.24" stroke="#000" stroke-width="1.3"/>
<text x="169.6" y="247.74" font-size="6.2" text-anchor="end" fill="#000">60</text>
<line x1="170" y1="230.72" x2="172.6" y2="230.72" stroke="#000" stroke-width="1.3"/>
<text x="169.6" y="233.22" font-size="6.2" text-anchor="end" fill="#000">80</text>
<line x1="170" y1="216.2" x2="172.6" y2="216.2" stroke="#000" stroke-width="1.3"/>
<text x="169.6" y="218.7" font-size="6.2" text-anchor="end" fill="#000">100</text>
<line x1="170" y1="201.68" x2="172.6" y2="201.68" stroke="#000" stroke-width="1.3"/>
<text x="169.6" y="204.18" font-size="6.2" text-anchor="end" fill="#000">120</text>
<text font-size="7.45" font-weight="bold" text-anchor="middle" transform="translate(152.4,246.5) rotate(-90)">% of cells in indicated generation</text>
<rect x="181" y="218.02" width="31.6" height="49" fill="#868686" stroke="#222" stroke-width="0.9"/>
<rect x="181" y="267.02" width="31.6" height="21.05" fill="#fff" stroke="#222" stroke-width="0.9"/>
<rect x="181" y="288.07" width="31.6" height="0.73" fill="#868686" stroke="#222" stroke-width="0.9"/>
<line x1="181" y1="288.07" x2="212.6" y2="288.07" stroke="#000" stroke-width="1.3"/>
<line x1="196.8" y1="288.07" x2="196.8" y2="287.64" stroke="#000" stroke-width="1.1"/>
<line x1="188.8" y1="287.64" x2="204.8" y2="287.64" stroke="#000" stroke-width="1.8"/>
<line x1="181" y1="267.02" x2="212.6" y2="267.02" stroke="#000" stroke-width="1.3"/>
<line x1="196.8" y1="267.02" x2="196.8" y2="266.44" stroke="#000" stroke-width="1.1"/>
<line x1="188.8" y1="266.44" x2="204.8" y2="266.44" stroke="#000" stroke-width="1.8"/>
<line x1="181" y1="218.02" x2="212.6" y2="218.02" stroke="#000" stroke-width="1.3"/>
<line x1="196.8" y1="218.02" x2="196.8" y2="217.43" stroke="#000" stroke-width="1.1"/>
<line x1="188.8" y1="217.43" x2="204.8" y2="217.43" stroke="#000" stroke-width="1.8"/>
<line x1="196.8" y1="288.8" x2="196.8" y2="291.6" stroke="#000" stroke-width="1.2"/>
<rect x="228.2" y="218.02" width="31.6" height="40.29" fill="#868686" stroke="#222" stroke-width="0.9"/>
<rect x="228.2" y="258.31" width="31.6" height="27.95" fill="#fff" stroke="#222" stroke-width="0.9"/>
<rect x="228.2" y="286.26" width="31.6" height="2.54" fill="#868686" stroke="#222" stroke-width="0.9"/>
<line x1="228.2" y1="286.26" x2="259.8" y2="286.26" stroke="#000" stroke-width="1.3"/>
<line x1="244" y1="286.26" x2="244" y2="285.46" stroke="#000" stroke-width="1.1"/>
<line x1="236" y1="285.46" x2="252" y2="285.46" stroke="#000" stroke-width="1.8"/>
<line x1="228.2" y1="258.31" x2="259.8" y2="258.31" stroke="#000" stroke-width="1.3"/>
<line x1="244" y1="258.31" x2="244" y2="257.44" stroke="#000" stroke-width="1.1"/>
<line x1="236" y1="257.44" x2="252" y2="257.44" stroke="#000" stroke-width="1.8"/>
<line x1="228.2" y1="218.02" x2="259.8" y2="218.02" stroke="#000" stroke-width="1.3"/>
<line x1="244" y1="218.02" x2="244" y2="216.71" stroke="#000" stroke-width="1.1"/>
<line x1="236" y1="216.71" x2="252" y2="216.71" stroke="#000" stroke-width="1.8"/>
<line x1="244" y1="288.8" x2="244" y2="291.6" stroke="#000" stroke-width="1.2"/>
<rect x="275.2" y="216.93" width="31.6" height="30.49" fill="#868686" stroke="#222" stroke-width="0.9"/>
<rect x="275.2" y="247.42" width="31.6" height="36.66" fill="#fff" stroke="#222" stroke-width="0.9"/>
<rect x="275.2" y="284.08" width="31.6" height="4.72" fill="#868686" stroke="#222" stroke-width="0.9"/>
<line x1="275.2" y1="284.08" x2="306.8" y2="284.08" stroke="#000" stroke-width="1.3"/>
<line x1="291" y1="284.08" x2="291" y2="283.72" stroke="#000" stroke-width="1.1"/>
<line x1="283" y1="283.72" x2="299" y2="283.72" stroke="#000" stroke-width="1.8"/>
<line x1="275.2" y1="247.42" x2="306.8" y2="247.42" stroke="#000" stroke-width="1.3"/>
<line x1="291" y1="247.42" x2="291" y2="246.76" stroke="#000" stroke-width="1.1"/>
<line x1="283" y1="246.76" x2="299" y2="246.76" stroke="#000" stroke-width="1.8"/>
<line x1="275.2" y1="216.93" x2="306.8" y2="216.93" stroke="#000" stroke-width="1.3"/>
<line x1="291" y1="216.93" x2="291" y2="215.98" stroke="#000" stroke-width="1.1"/>
<line x1="283" y1="215.98" x2="299" y2="215.98" stroke="#000" stroke-width="1.8"/>
<line x1="291" y1="288.8" x2="291" y2="291.6" stroke="#000" stroke-width="1.2"/>
<text x="244.2" y="218.5" font-size="10.5" font-weight="bold" letter-spacing="0.4" text-anchor="middle" fill="#000">**</text>
<text x="244.2" y="258.4" font-size="10.5" font-weight="bold" letter-spacing="0.4" text-anchor="middle" fill="#000">**</text>
<text x="244.2" y="287.5" font-size="10.5" font-weight="bold" letter-spacing="0.4" text-anchor="middle" fill="#000">**</text>
<text x="291.2" y="218.5" font-size="10.5" font-weight="bold" letter-spacing="0.4" text-anchor="middle" fill="#000">***</text>
<text x="291.2" y="248.4" font-size="10.5" font-weight="bold" letter-spacing="0.4" text-anchor="middle" fill="#000">***</text>
<text x="291.2" y="286" font-size="10.5" font-weight="bold" letter-spacing="0.4" text-anchor="middle" fill="#000">***</text>
<text font-size="9" font-weight="bold" text-anchor="end" transform="translate(199.6,301.8) rotate(-45)">WT</text>
<text font-size="9" font-weight="bold" text-anchor="end" transform="translate(246.8,301.8) rotate(-45)">f/+</text>
<text font-size="9" font-weight="bold" text-anchor="end" transform="translate(293.8,301.8) rotate(-45)">KO</text>
<rect x="180.6" y="176" width="14" height="5.2" fill="#868686" stroke="#000" stroke-width="0.9"/>
<rect x="180.6" y="187.2" width="14" height="5" fill="#fff" stroke="#000" stroke-width="0.9"/>
<rect x="180.6" y="198" width="14" height="5.6" fill="#868686" stroke="#000" stroke-width="0.9"/>
<text x="196.6" y="181.8" font-size="7.7" text-anchor="start" fill="#000">generation 0-2</text>
<text x="196.6" y="192.8" font-size="7.7" text-anchor="start" fill="#000">generation 3-4</text>
<text x="196.6" y="203.6" font-size="7.7" text-anchor="start" fill="#000">generation 5-7</text>
<text x="324.2" y="176.5" font-size="16.5" font-weight="bold" text-anchor="start" fill="#000">E</text>
<line x1="372.2" y1="183" x2="372.2" y2="277.2" stroke="#000" stroke-width="1.5"/>
<line x1="371.4" y1="276.4" x2="504.8" y2="276.4" stroke="#000" stroke-width="1.5"/>
<line x1="369.2" y1="276.4" x2="372.2" y2="276.4" stroke="#000" stroke-width="1.1"/>
<text x="368" y="278.6" font-size="6.4" font-weight="bold" text-anchor="end" fill="#000">0.0</text>
<line x1="369.2" y1="245.5" x2="372.2" y2="245.5" stroke="#000" stroke-width="1.1"/>
<text x="368" y="247.7" font-size="6.4" font-weight="bold" text-anchor="end" fill="#000">0.5</text>
<line x1="369.2" y1="214.6" x2="372.2" y2="214.6" stroke="#000" stroke-width="1.1"/>
<text x="368" y="216.8" font-size="6.4" font-weight="bold" text-anchor="end" fill="#000">1.0</text>
<line x1="369.2" y1="183.7" x2="372.2" y2="183.7" stroke="#000" stroke-width="1.1"/>
<text x="368" y="185.9" font-size="6.4" font-weight="bold" text-anchor="end" fill="#000">1.5</text>
<text font-size="6.9" font-weight="bold" text-anchor="middle" transform="translate(351,230.8) rotate(-90)">Relative number of cells in S phase</text>
<rect x="376.2" y="214.6" width="7.8" height="61.8" fill="#6e6e6e" stroke="#000" stroke-width="1.1"/>
<line x1="380.1" y1="276.4" x2="380.1" y2="279" stroke="#000" stroke-width="1.1"/>
<text x="380.6" y="212.8" font-size="8.5" font-weight="bold" letter-spacing="1.0" text-anchor="middle" fill="#000">**</text>
<text font-size="7.1" font-weight="bold" text-anchor="end" transform="translate(381.5,288) rotate(-42)">WT-mock</text>
<line x1="395.38" y1="237.47" x2="395.38" y2="231.9" stroke="#000" stroke-width="1.0"/>
<line x1="392.78" y1="231.9" x2="397.98" y2="231.9" stroke="#000" stroke-width="1.2"/>
<rect x="391.48" y="237.47" width="7.8" height="38.93" fill="#6e6e6e" stroke="#000" stroke-width="1.1"/>
<line x1="395.38" y1="276.4" x2="395.38" y2="279" stroke="#000" stroke-width="1.1"/>
<text font-size="7.1" font-weight="bold" text-anchor="end" transform="translate(396.78,288) rotate(-42)">KO-mock</text>
<line x1="410.66" y1="202.86" x2="410.66" y2="192.35" stroke="#000" stroke-width="1.0"/>
<line x1="408.06" y1="192.35" x2="413.26" y2="192.35" stroke="#000" stroke-width="1.2"/>
<rect x="406.76" y="202.86" width="7.8" height="73.54" fill="#6e6e6e" stroke="#000" stroke-width="1.1"/>
<line x1="410.66" y1="276.4" x2="410.66" y2="279" stroke="#000" stroke-width="1.1"/>
<text x="411.16" y="190.55" font-size="8.5" font-weight="bold" letter-spacing="1.0" text-anchor="middle" fill="#000">*</text>
<text font-size="7.1" font-weight="bold" text-anchor="end" transform="translate(412.06,288) rotate(-42)">KO-17-92</text>
<line x1="425.94" y1="237.47" x2="425.94" y2="234.99" stroke="#000" stroke-width="1.0"/>
<line x1="423.34" y1="234.99" x2="428.54" y2="234.99" stroke="#000" stroke-width="1.2"/>
<rect x="422.04" y="237.47" width="7.8" height="38.93" fill="#6e6e6e" stroke="#000" stroke-width="1.1"/>
<line x1="425.94" y1="276.4" x2="425.94" y2="279" stroke="#000" stroke-width="1.1"/>
<text x="425.94" y="231.69" font-size="8.6" text-anchor="middle" fill="#000">ns</text>
<text font-size="7.1" font-weight="bold" text-anchor="end" transform="translate(427.34,288) rotate(-42)">KO-17</text>
<rect x="437.32" y="255.39" width="7.8" height="21.01" fill="#6e6e6e" stroke="#000" stroke-width="1.1"/>
<line x1="441.22" y1="276.4" x2="441.22" y2="279" stroke="#000" stroke-width="1.1"/>
<text x="441.72" y="252.97" font-size="8.5" font-weight="bold" letter-spacing="1.0" text-anchor="middle" fill="#000">**</text>
<text font-size="7.1" font-weight="bold" text-anchor="end" transform="translate(442.62,288) rotate(-42)">KO-18a</text>
<line x1="456.5" y1="245.5" x2="456.5" y2="240.56" stroke="#000" stroke-width="1.0"/>
<line x1="453.9" y1="240.56" x2="459.1" y2="240.56" stroke="#000" stroke-width="1.2"/>
<rect x="452.6" y="245.5" width="7.8" height="30.9" fill="#6e6e6e" stroke="#000" stroke-width="1.1"/>
<line x1="456.5" y1="276.4" x2="456.5" y2="279" stroke="#000" stroke-width="1.1"/>
<text x="456.5" y="237.26" font-size="8.6" text-anchor="middle" fill="#000">ns</text>
<text font-size="7.1" font-weight="bold" text-anchor="end" transform="translate(457.9,288) rotate(-42)">KO-19a</text>
<line x1="471.78" y1="197.91" x2="471.78" y2="189.26" stroke="#000" stroke-width="1.0"/>
<line x1="469.18" y1="189.26" x2="474.38" y2="189.26" stroke="#000" stroke-width="1.2"/>
<rect x="467.88" y="197.91" width="7.8" height="78.49" fill="#6e6e6e" stroke="#000" stroke-width="1.1"/>
<line x1="471.78" y1="276.4" x2="471.78" y2="279" stroke="#000" stroke-width="1.1"/>
<text x="472.28" y="187.46" font-size="8.5" font-weight="bold" letter-spacing="1.0" text-anchor="middle" fill="#000">**</text>
<text font-size="7.1" font-weight="bold" text-anchor="end" transform="translate(473.18,288) rotate(-42)">KO-19b</text>
<line x1="487.06" y1="233.76" x2="487.06" y2="232.52" stroke="#000" stroke-width="1.0"/>
<line x1="484.46" y1="232.52" x2="489.66" y2="232.52" stroke="#000" stroke-width="1.2"/>
<rect x="483.16" y="233.76" width="7.8" height="42.64" fill="#6e6e6e" stroke="#000" stroke-width="1.1"/>
<line x1="487.06" y1="276.4" x2="487.06" y2="279" stroke="#000" stroke-width="1.1"/>
<text x="487.06" y="229.22" font-size="8.6" text-anchor="middle" fill="#000">ns</text>
<text font-size="7.1" font-weight="bold" text-anchor="end" transform="translate(488.46,288) rotate(-42)">KO-20a</text>
<line x1="502.34" y1="245.5" x2="502.34" y2="241.17" stroke="#000" stroke-width="1.0"/>
<line x1="499.74" y1="241.17" x2="504.94" y2="241.17" stroke="#000" stroke-width="1.2"/>
<rect x="498.44" y="245.5" width="7.8" height="30.9" fill="#6e6e6e" stroke="#000" stroke-width="1.1"/>
<line x1="502.34" y1="276.4" x2="502.34" y2="279" stroke="#000" stroke-width="1.1"/>
<text x="502.34" y="237.87" font-size="8.6" text-anchor="middle" fill="#000">ns</text>
<text font-size="7.1" font-weight="bold" text-anchor="end" transform="translate(503.74,288) rotate(-42)">KO-92a</text>
<text x="4.2" y="340.5" font-size="16.5" font-weight="bold" text-anchor="start" fill="#000">F</text>
<text x="64" y="347.8" font-size="9.2" text-anchor="middle" fill="#000">mock</text>
<text x="160.2" y="347.8" font-size="9.4" text-anchor="middle" fill="#000">miR-17-92</text>
<line x1="7.7" y1="421" x2="7.7" y2="354" stroke="#000" stroke-width="0.9"/>
<path d="M5.9,356.5 L7.7,350.3 L9.5,356.5 Z" stroke="#000" stroke-width="0.5" fill="#000" />
<text font-size="8.6" text-anchor="middle" transform="translate(10.6,433.5) rotate(-90)">7-AAD</text>
<text x="16" y="456" font-size="8.9" text-anchor="start" fill="#000">Annexin-V</text>
<line x1="71.5" y1="453.4" x2="202" y2="453.4" stroke="#000" stroke-width="0.9"/>
<path d="M199.5,451.2 L205.2,453.4 L199.5,455.6 Z" stroke="#000" stroke-width="0.5" fill="#000" />
<clipPath id="c1"><rect x="19.2" y="350.4" width="92.4" height="94"/></clipPath><g clip-path="url(#c1)">
<rect x="98.11" y="392.16" width="0.9" height="0.9" fill="#999"/><rect x="97.4" y="390.67" width="0.9" height="0.9" fill="#999"/><rect x="71.72" y="395.82" width="0.9" height="0.9" fill="#999"/><rect x="71.48" y="373.73" width="0.9" height="0.9" fill="#999"/><rect x="81.27" y="403.15" width="0.9" height="0.9" fill="#999"/><rect x="92.84" y="398.72" width="0.9" height="0.9" fill="#999"/><rect x="91.6" y="375.89" width="0.9" height="0.9" fill="#999"/><rect x="68.41" y="385.82" width="0.9" height="0.9" fill="#999"/><rect x="73.64" y="395.59" width="0.9" height="0.9" fill="#999"/><rect x="101.24" y="391.63" width="0.9" height="0.9" fill="#999"/><rect x="88.68" y="377.51" width="0.9" height="0.9" fill="#999"/><rect x="83.25" y="377.8" width="0.9" height="0.9" fill="#999"/><rect x="99.79" y="371.28" width="0.9" height="0.9" fill="#999"/><rect x="73.7" y="390.58" width="0.9" height="0.9" fill="#999"/><rect x="101.26" y="393.47" width="0.9" height="0.9" fill="#999"/><rect x="69.5" y="367.15" width="0.9" height="0.9" fill="#999"/><rect x="76.91" y="396.86" width="0.9" height="0.9" fill="#999"/><rect x="98.02" y="389.89" width="0.9" height="0.9" fill="#999"/><rect x="102.69" y="393.81" width="0.9" height="0.9" fill="#999"/><rect x="72.65" y="399.44" width="0.9" height="0.9" fill="#999"/><rect x="96.62" y="393.05" width="0.9" height="0.9" fill="#999"/><rect x="68.8" y="383.16" width="0.9" height="0.9" fill="#999"/><rect x="95.55" y="373.15" width="0.9" height="0.9" fill="#999"/><rect x="75.09" y="402.24" width="0.9" height="0.9" fill="#999"/><rect x="97.45" y="388.78" width="0.9" height="0.9" fill="#999"/><rect x="79.19" y="396.59" width="0.9" height="0.9" fill="#999"/><rect x="101.47" y="384.77" width="0.9" height="0.9" fill="#999"/><rect x="74.44" y="387.4" width="0.9" height="0.9" fill="#999"/><rect x="100.9" y="379.82" width="0.9" height="0.9" fill="#999"/><rect x="99.53" y="377.77" width="0.9" height="0.9" fill="#999"/><rect x="98.27" y="395.85" width="0.9" height="0.9" fill="#999"/><rect x="106.65" y="391.31" width="0.9" height="0.9" fill="#999"/><rect x="105" y="366.75" width="0.9" height="0.9" fill="#999"/><rect x="61.63" y="384.41" width="0.9" height="0.9" fill="#999"/><rect x="97.13" y="378.62" width="0.9" height="0.9" fill="#999"/><rect x="95.68" y="401.22" width="0.9" height="0.9" fill="#999"/><rect x="71.39" y="385.55" width="0.9" height="0.9" fill="#999"/><rect x="97.92" y="365.75" width="0.9" height="0.9" fill="#999"/><rect x="97.89" y="376.25" width="0.9" height="0.9" fill="#999"/><rect x="94.04" y="375.87" width="0.9" height="0.9" fill="#999"/><rect x="86.71" y="401.58" width="0.9" height="0.9" fill="#999"/><rect x="97.51" y="386.05" width="0.9" height="0.9" fill="#999"/><rect x="73.04" y="375.72" width="0.9" height="0.9" fill="#999"/><rect x="77.8" y="376.05" width="0.9" height="0.9" fill="#999"/><rect x="99.58" y="394.9" width="0.9" height="0.9" fill="#999"/><rect x="101.54" y="380.58" width="0.9" height="0.9" fill="#999"/><rect x="94.83" y="402.06" width="0.9" height="0.9" fill="#999"/><rect x="79.09" y="401.81" width="0.9" height="0.9" fill="#999"/><rect x="96.94" y="387.04" width="0.9" height="0.9" fill="#999"/><rect x="68.82" y="400.51" width="0.9" height="0.9" fill="#999"/><rect x="101.78" y="379.88" width="0.9" height="0.9" fill="#999"/><rect x="98.34" y="401.19" width="0.9" height="0.9" fill="#999"/><rect x="101.35" y="387.01" width="0.9" height="0.9" fill="#999"/><rect x="80.48" y="397.21" width="0.9" height="0.9" fill="#999"/><rect x="101.08" y="386.31" width="0.9" height="0.9" fill="#999"/><rect x="65.73" y="385.26" width="0.9" height="0.9" fill="#999"/><rect x="69.94" y="395.51" width="0.9" height="0.9" fill="#999"/><rect x="101.72" y="402.23" width="0.9" height="0.9" fill="#999"/><rect x="69.73" y="379.34" width="0.9" height="0.9" fill="#999"/><rect x="68.9" y="397.64" width="0.9" height="0.9" fill="#999"/><rect x="75.85" y="388.44" width="0.9" height="0.9" fill="#999"/><rect x="104.57" y="388.93" width="0.9" height="0.9" fill="#999"/><rect x="85.67" y="377.84" width="0.9" height="0.9" fill="#999"/><rect x="71.91" y="383.47" width="0.9" height="0.9" fill="#999"/><rect x="97.12" y="395.29" width="0.9" height="0.9" fill="#999"/><rect x="89.13" y="378.53" width="0.9" height="0.9" fill="#999"/><rect x="72.69" y="383.12" width="0.9" height="0.9" fill="#999"/><rect x="78.98" y="382" width="0.9" height="0.9" fill="#999"/><rect x="73" y="387.55" width="0.9" height="0.9" fill="#999"/><rect x="76.34" y="391.65" width="0.9" height="0.9" fill="#999"/><rect x="65.13" y="391.34" width="0.9" height="0.9" fill="#999"/><rect x="81.45" y="372.04" width="0.9" height="0.9" fill="#999"/><rect x="66.36" y="381.11" width="0.9" height="0.9" fill="#999"/><rect x="94.96" y="394.9" width="0.9" height="0.9" fill="#999"/><rect x="100.22" y="394.16" width="0.9" height="0.9" fill="#999"/><rect x="91.84" y="370.84" width="0.9" height="0.9" fill="#999"/><rect x="96.07" y="399.68" width="0.9" height="0.9" fill="#999"/><rect x="105.98" y="373.61" width="0.9" height="0.9" fill="#999"/><rect x="92" y="409.15" width="0.9" height="0.9" fill="#999"/><rect x="78.74" y="394.41" width="0.9" height="0.9" fill="#999"/><rect x="105.47" y="387.53" width="0.9" height="0.9" fill="#999"/><rect x="96.02" y="389.41" width="0.9" height="0.9" fill="#999"/><rect x="79.45" y="381.4" width="0.9" height="0.9" fill="#999"/><rect x="93.61" y="366.51" width="0.9" height="0.9" fill="#999"/><rect x="103.55" y="392.19" width="0.9" height="0.9" fill="#999"/><rect x="69.08" y="397.33" width="0.9" height="0.9" fill="#999"/><rect x="100.14" y="403.93" width="0.9" height="0.9" fill="#999"/><rect x="74.23" y="382.89" width="0.9" height="0.9" fill="#999"/><rect x="107.69" y="397.37" width="0.9" height="0.9" fill="#999"/><rect x="76.2" y="377.12" width="0.9" height="0.9" fill="#999"/><rect x="103.73" y="396.96" width="0.9" height="0.9" fill="#999"/><rect x="104.85" y="395.44" width="0.9" height="0.9" fill="#999"/><rect x="67.03" y="382.19" width="0.9" height="0.9" fill="#999"/><rect x="86.27" y="377.85" width="0.9" height="0.9" fill="#999"/><rect x="69.54" y="389.06" width="0.9" height="0.9" fill="#999"/><rect x="78.71" y="394.84" width="0.9" height="0.9" fill="#999"/><rect x="77.25" y="366.21" width="0.9" height="0.9" fill="#999"/><rect x="77.67" y="401.96" width="0.9" height="0.9" fill="#999"/><rect x="83.92" y="376.91" width="0.9" height="0.9" fill="#999"/><rect x="101.65" y="394.56" width="0.9" height="0.9" fill="#999"/><rect x="103.27" y="396.81" width="0.9" height="0.9" fill="#999"/><rect x="97.28" y="379.35" width="0.9" height="0.9" fill="#999"/><rect x="85.53" y="410.19" width="0.9" height="0.9" fill="#999"/><rect x="99.33" y="386.72" width="0.9" height="0.9" fill="#999"/><rect x="88.41" y="410.61" width="0.9" height="0.9" fill="#999"/><rect x="96.86" y="388.61" width="0.9" height="0.9" fill="#999"/><rect x="95.66" y="393.14" width="0.9" height="0.9" fill="#999"/><rect x="77.54" y="383.21" width="0.9" height="0.9" fill="#999"/><rect x="87.6" y="376.11" width="0.9" height="0.9" fill="#999"/>
<rect x="64.32" y="381.48" width="0.9" height="0.9" fill="#aaa"/><rect x="61.36" y="402.1" width="0.9" height="0.9" fill="#aaa"/><rect x="76.35" y="397.11" width="0.9" height="0.9" fill="#aaa"/><rect x="66.76" y="386.22" width="0.9" height="0.9" fill="#aaa"/><rect x="91.48" y="401.68" width="0.9" height="0.9" fill="#aaa"/><rect x="67.33" y="382.99" width="0.9" height="0.9" fill="#aaa"/><rect x="78.92" y="405.03" width="0.9" height="0.9" fill="#aaa"/><rect x="46.78" y="397.13" width="0.9" height="0.9" fill="#aaa"/><rect x="77.11" y="383.45" width="0.9" height="0.9" fill="#aaa"/><rect x="47.64" y="389.03" width="0.9" height="0.9" fill="#aaa"/><rect x="62" y="386.33" width="0.9" height="0.9" fill="#aaa"/><rect x="69.93" y="399.55" width="0.9" height="0.9" fill="#aaa"/><rect x="77.16" y="403.17" width="0.9" height="0.9" fill="#aaa"/><rect x="87.58" y="406.86" width="0.9" height="0.9" fill="#aaa"/><rect x="53.81" y="393.51" width="0.9" height="0.9" fill="#aaa"/><rect x="56.83" y="388.94" width="0.9" height="0.9" fill="#aaa"/><rect x="68.57" y="397.59" width="0.9" height="0.9" fill="#aaa"/><rect x="75.43" y="384.85" width="0.9" height="0.9" fill="#aaa"/><rect x="54.7" y="397.37" width="0.9" height="0.9" fill="#aaa"/><rect x="67.16" y="395.06" width="0.9" height="0.9" fill="#aaa"/><rect x="68.79" y="391.47" width="0.9" height="0.9" fill="#aaa"/><rect x="77.97" y="400.38" width="0.9" height="0.9" fill="#aaa"/><rect x="68.5" y="392.17" width="0.9" height="0.9" fill="#aaa"/><rect x="67.46" y="375.78" width="0.9" height="0.9" fill="#aaa"/><rect x="57.77" y="397.85" width="0.9" height="0.9" fill="#aaa"/><rect x="51.5" y="399.15" width="0.9" height="0.9" fill="#aaa"/><rect x="71.32" y="386.53" width="0.9" height="0.9" fill="#aaa"/><rect x="66.54" y="395.04" width="0.9" height="0.9" fill="#aaa"/><rect x="75.07" y="402.45" width="0.9" height="0.9" fill="#aaa"/><rect x="69.11" y="390.74" width="0.9" height="0.9" fill="#aaa"/><rect x="67.82" y="397.03" width="0.9" height="0.9" fill="#aaa"/><rect x="78.36" y="399.9" width="0.9" height="0.9" fill="#aaa"/><rect x="60.88" y="386.71" width="0.9" height="0.9" fill="#aaa"/><rect x="65.07" y="391.63" width="0.9" height="0.9" fill="#aaa"/><rect x="56.21" y="396.62" width="0.9" height="0.9" fill="#aaa"/><rect x="63.66" y="398.39" width="0.9" height="0.9" fill="#aaa"/><rect x="75.83" y="394.25" width="0.9" height="0.9" fill="#aaa"/><rect x="97.44" y="394.98" width="0.9" height="0.9" fill="#aaa"/><rect x="82.94" y="378.54" width="0.9" height="0.9" fill="#aaa"/><rect x="60.53" y="399.53" width="0.9" height="0.9" fill="#aaa"/><rect x="76.78" y="416.24" width="0.9" height="0.9" fill="#aaa"/><rect x="73.42" y="407.79" width="0.9" height="0.9" fill="#aaa"/><rect x="78.75" y="405.13" width="0.9" height="0.9" fill="#aaa"/><rect x="75.67" y="396.3" width="0.9" height="0.9" fill="#aaa"/><rect x="75.66" y="388.92" width="0.9" height="0.9" fill="#aaa"/><rect x="72.54" y="414.52" width="0.9" height="0.9" fill="#aaa"/><rect x="66.87" y="397.71" width="0.9" height="0.9" fill="#aaa"/><rect x="59.86" y="399.62" width="0.9" height="0.9" fill="#aaa"/><rect x="76.54" y="403.23" width="0.9" height="0.9" fill="#aaa"/><rect x="60.28" y="411.57" width="0.9" height="0.9" fill="#aaa"/><rect x="72.77" y="394.12" width="0.9" height="0.9" fill="#aaa"/><rect x="77.64" y="393.71" width="0.9" height="0.9" fill="#aaa"/><rect x="61.22" y="403.3" width="0.9" height="0.9" fill="#aaa"/><rect x="61.42" y="404.04" width="0.9" height="0.9" fill="#aaa"/><rect x="68.96" y="400.04" width="0.9" height="0.9" fill="#aaa"/><rect x="87.82" y="406.6" width="0.9" height="0.9" fill="#aaa"/><rect x="63.31" y="415.82" width="0.9" height="0.9" fill="#aaa"/><rect x="69.59" y="403.84" width="0.9" height="0.9" fill="#aaa"/><rect x="61.78" y="397.19" width="0.9" height="0.9" fill="#aaa"/><rect x="48.55" y="411.84" width="0.9" height="0.9" fill="#aaa"/><rect x="51.49" y="384.58" width="0.9" height="0.9" fill="#aaa"/><rect x="68.82" y="395.05" width="0.9" height="0.9" fill="#aaa"/><rect x="68.1" y="388.84" width="0.9" height="0.9" fill="#aaa"/><rect x="69.84" y="386.05" width="0.9" height="0.9" fill="#aaa"/><rect x="68.69" y="400.02" width="0.9" height="0.9" fill="#aaa"/><rect x="75.16" y="395.7" width="0.9" height="0.9" fill="#aaa"/><rect x="58.71" y="398.83" width="0.9" height="0.9" fill="#aaa"/><rect x="63.73" y="410.08" width="0.9" height="0.9" fill="#aaa"/><rect x="78.76" y="396.63" width="0.9" height="0.9" fill="#aaa"/><rect x="63.9" y="391.93" width="0.9" height="0.9" fill="#aaa"/><rect x="58.3" y="394.73" width="0.9" height="0.9" fill="#aaa"/><rect x="73.09" y="401.67" width="0.9" height="0.9" fill="#aaa"/><rect x="76.38" y="414.34" width="0.9" height="0.9" fill="#aaa"/><rect x="61.09" y="397.65" width="0.9" height="0.9" fill="#aaa"/><rect x="103.09" y="382.61" width="0.9" height="0.9" fill="#aaa"/><rect x="63.29" y="398.91" width="0.9" height="0.9" fill="#aaa"/><rect x="71.4" y="400.81" width="0.9" height="0.9" fill="#aaa"/><rect x="66.69" y="400.48" width="0.9" height="0.9" fill="#aaa"/><rect x="70.18" y="403.72" width="0.9" height="0.9" fill="#aaa"/><rect x="46.84" y="390.47" width="0.9" height="0.9" fill="#aaa"/><rect x="69.52" y="389.3" width="0.9" height="0.9" fill="#aaa"/><rect x="57.01" y="402.57" width="0.9" height="0.9" fill="#aaa"/><rect x="61.75" y="402.63" width="0.9" height="0.9" fill="#aaa"/><rect x="78.5" y="400" width="0.9" height="0.9" fill="#aaa"/><rect x="75.65" y="396.71" width="0.9" height="0.9" fill="#aaa"/><rect x="52.64" y="397.31" width="0.9" height="0.9" fill="#aaa"/><rect x="75" y="393.31" width="0.9" height="0.9" fill="#aaa"/><rect x="68.36" y="403.54" width="0.9" height="0.9" fill="#aaa"/><rect x="59.01" y="402.67" width="0.9" height="0.9" fill="#aaa"/><rect x="71.31" y="396.35" width="0.9" height="0.9" fill="#aaa"/><rect x="69.36" y="397.47" width="0.9" height="0.9" fill="#aaa"/><rect x="48.24" y="409.08" width="0.9" height="0.9" fill="#aaa"/><rect x="78.48" y="396.5" width="0.9" height="0.9" fill="#aaa"/><rect x="74.93" y="400.48" width="0.9" height="0.9" fill="#aaa"/><rect x="51.56" y="395.85" width="0.9" height="0.9" fill="#aaa"/><rect x="57.28" y="386.67" width="0.9" height="0.9" fill="#aaa"/><rect x="54.9" y="400.23" width="0.9" height="0.9" fill="#aaa"/><rect x="89.86" y="400.99" width="0.9" height="0.9" fill="#aaa"/><rect x="72.5" y="415.42" width="0.9" height="0.9" fill="#aaa"/><rect x="63.32" y="392.16" width="0.9" height="0.9" fill="#aaa"/><rect x="75.89" y="401.94" width="0.9" height="0.9" fill="#aaa"/><rect x="57.37" y="388.19" width="0.9" height="0.9" fill="#aaa"/><rect x="73.04" y="399.53" width="0.9" height="0.9" fill="#aaa"/><rect x="53.87" y="395.93" width="0.9" height="0.9" fill="#aaa"/><rect x="63.04" y="401.23" width="0.9" height="0.9" fill="#aaa"/><rect x="68.15" y="396.86" width="0.9" height="0.9" fill="#aaa"/><rect x="65.31" y="405.98" width="0.9" height="0.9" fill="#aaa"/><rect x="70.41" y="403.55" width="0.9" height="0.9" fill="#aaa"/><rect x="68.66" y="399.12" width="0.9" height="0.9" fill="#aaa"/><rect x="51.57" y="397.68" width="0.9" height="0.9" fill="#aaa"/><rect x="61.44" y="400.52" width="0.9" height="0.9" fill="#aaa"/><rect x="55.99" y="381.74" width="0.9" height="0.9" fill="#aaa"/><rect x="70.01" y="399.63" width="0.9" height="0.9" fill="#aaa"/><rect x="62.96" y="404.66" width="0.9" height="0.9" fill="#aaa"/><rect x="66.27" y="392.7" width="0.9" height="0.9" fill="#aaa"/><rect x="75.28" y="385" width="0.9" height="0.9" fill="#aaa"/><rect x="61.42" y="397.38" width="0.9" height="0.9" fill="#aaa"/><rect x="79.74" y="396.25" width="0.9" height="0.9" fill="#aaa"/><rect x="73.25" y="392.31" width="0.9" height="0.9" fill="#aaa"/><rect x="73.17" y="410.86" width="0.9" height="0.9" fill="#aaa"/><rect x="61.31" y="416.48" width="0.9" height="0.9" fill="#aaa"/><rect x="61.82" y="397.69" width="0.9" height="0.9" fill="#aaa"/><rect x="71.63" y="405.74" width="0.9" height="0.9" fill="#aaa"/><rect x="54.71" y="380.75" width="0.9" height="0.9" fill="#aaa"/><rect x="76.82" y="403.91" width="0.9" height="0.9" fill="#aaa"/><rect x="77.03" y="418.59" width="0.9" height="0.9" fill="#aaa"/><rect x="72.01" y="399.58" width="0.9" height="0.9" fill="#aaa"/><rect x="80.7" y="400.5" width="0.9" height="0.9" fill="#aaa"/><rect x="65.05" y="369.99" width="0.9" height="0.9" fill="#aaa"/><rect x="79.3" y="394.57" width="0.9" height="0.9" fill="#aaa"/><rect x="80.64" y="414.78" width="0.9" height="0.9" fill="#aaa"/><rect x="69.48" y="395.51" width="0.9" height="0.9" fill="#aaa"/><rect x="63.56" y="390.85" width="0.9" height="0.9" fill="#aaa"/><rect x="61.99" y="402.66" width="0.9" height="0.9" fill="#aaa"/><rect x="69.99" y="398.08" width="0.9" height="0.9" fill="#aaa"/><rect x="67.47" y="404.86" width="0.9" height="0.9" fill="#aaa"/><rect x="75.48" y="396.42" width="0.9" height="0.9" fill="#aaa"/><rect x="77.53" y="396.34" width="0.9" height="0.9" fill="#aaa"/><rect x="55.72" y="409.19" width="0.9" height="0.9" fill="#aaa"/><rect x="75.13" y="389.89" width="0.9" height="0.9" fill="#aaa"/><rect x="82.5" y="400.31" width="0.9" height="0.9" fill="#aaa"/><rect x="50.78" y="410.43" width="0.9" height="0.9" fill="#aaa"/><rect x="73.55" y="404.68" width="0.9" height="0.9" fill="#aaa"/><rect x="71.92" y="396.35" width="0.9" height="0.9" fill="#aaa"/><rect x="50.97" y="405.32" width="0.9" height="0.9" fill="#aaa"/><rect x="69.91" y="395.26" width="0.9" height="0.9" fill="#aaa"/><rect x="73.76" y="398.17" width="0.9" height="0.9" fill="#aaa"/><rect x="77.66" y="394.58" width="0.9" height="0.9" fill="#aaa"/><rect x="69.11" y="380.44" width="0.9" height="0.9" fill="#aaa"/><rect x="64.47" y="402.96" width="0.9" height="0.9" fill="#aaa"/><rect x="68.09" y="410.22" width="0.9" height="0.9" fill="#aaa"/><rect x="65.64" y="403.42" width="0.9" height="0.9" fill="#aaa"/><rect x="72.04" y="396.93" width="0.9" height="0.9" fill="#aaa"/><rect x="70.93" y="406.59" width="0.9" height="0.9" fill="#aaa"/><rect x="98.23" y="392.23" width="0.9" height="0.9" fill="#aaa"/><rect x="62.65" y="401.53" width="0.9" height="0.9" fill="#aaa"/><rect x="56.89" y="401.53" width="0.9" height="0.9" fill="#aaa"/><rect x="76.41" y="395.33" width="0.9" height="0.9" fill="#aaa"/><rect x="75.92" y="385.16" width="0.9" height="0.9" fill="#aaa"/><rect x="61.19" y="393.1" width="0.9" height="0.9" fill="#aaa"/><rect x="64.74" y="404.42" width="0.9" height="0.9" fill="#aaa"/><rect x="70.53" y="394.37" width="0.9" height="0.9" fill="#aaa"/><rect x="76.07" y="410.2" width="0.9" height="0.9" fill="#aaa"/><rect x="69.62" y="400.48" width="0.9" height="0.9" fill="#aaa"/><rect x="54.14" y="417.47" width="0.9" height="0.9" fill="#aaa"/><rect x="69.08" y="400.89" width="0.9" height="0.9" fill="#aaa"/><rect x="81.14" y="402.9" width="0.9" height="0.9" fill="#aaa"/><rect x="66.28" y="389.12" width="0.9" height="0.9" fill="#aaa"/><rect x="70.79" y="405.82" width="0.9" height="0.9" fill="#aaa"/><rect x="56.47" y="389.33" width="0.9" height="0.9" fill="#aaa"/><rect x="69.25" y="382.05" width="0.9" height="0.9" fill="#aaa"/><rect x="66.43" y="394.06" width="0.9" height="0.9" fill="#aaa"/><rect x="74.96" y="391.94" width="0.9" height="0.9" fill="#aaa"/><rect x="58.96" y="394.4" width="0.9" height="0.9" fill="#aaa"/><rect x="68.95" y="392.23" width="0.9" height="0.9" fill="#aaa"/><rect x="69.7" y="403.55" width="0.9" height="0.9" fill="#aaa"/><rect x="83.77" y="411.19" width="0.9" height="0.9" fill="#aaa"/><rect x="60.15" y="394.19" width="0.9" height="0.9" fill="#aaa"/><rect x="39.76" y="412.74" width="0.9" height="0.9" fill="#aaa"/><rect x="60.85" y="397.28" width="0.9" height="0.9" fill="#aaa"/><rect x="75.82" y="386.68" width="0.9" height="0.9" fill="#aaa"/><rect x="75.12" y="397.34" width="0.9" height="0.9" fill="#aaa"/><rect x="47.64" y="399.89" width="0.9" height="0.9" fill="#aaa"/><rect x="79.24" y="399.22" width="0.9" height="0.9" fill="#aaa"/><rect x="75.25" y="401.08" width="0.9" height="0.9" fill="#aaa"/><rect x="68.25" y="411.4" width="0.9" height="0.9" fill="#aaa"/><rect x="74.9" y="396.28" width="0.9" height="0.9" fill="#aaa"/><rect x="55.81" y="391.23" width="0.9" height="0.9" fill="#aaa"/><rect x="71.87" y="405.07" width="0.9" height="0.9" fill="#aaa"/><rect x="74.66" y="401.74" width="0.9" height="0.9" fill="#aaa"/><rect x="69.05" y="408.37" width="0.9" height="0.9" fill="#aaa"/><rect x="64.86" y="393.15" width="0.9" height="0.9" fill="#aaa"/>
<rect x="90.01" y="424.15" width="0.84" height="0.84" fill="#aaa"/><rect x="73.68" y="418.4" width="0.84" height="0.84" fill="#aaa"/><rect x="73.98" y="429.19" width="0.84" height="0.84" fill="#aaa"/><rect x="82.53" y="412.69" width="0.84" height="0.84" fill="#aaa"/><rect x="83.55" y="425.19" width="0.84" height="0.84" fill="#aaa"/><rect x="63.58" y="430.54" width="0.84" height="0.84" fill="#aaa"/><rect x="73.65" y="420.56" width="0.84" height="0.84" fill="#aaa"/><rect x="88.72" y="435.47" width="0.84" height="0.84" fill="#aaa"/><rect x="67.94" y="427.52" width="0.84" height="0.84" fill="#aaa"/><rect x="70.67" y="434.33" width="0.84" height="0.84" fill="#aaa"/><rect x="68.52" y="430.88" width="0.84" height="0.84" fill="#aaa"/><rect x="108.64" y="400.71" width="0.84" height="0.84" fill="#aaa"/><rect x="71.5" y="428.08" width="0.84" height="0.84" fill="#aaa"/><rect x="76.28" y="417.56" width="0.84" height="0.84" fill="#aaa"/><rect x="107.71" y="424.3" width="0.84" height="0.84" fill="#aaa"/><rect x="54.56" y="431.27" width="0.84" height="0.84" fill="#aaa"/><rect x="53.48" y="433.94" width="0.84" height="0.84" fill="#aaa"/><rect x="69.49" y="424.88" width="0.84" height="0.84" fill="#aaa"/><rect x="95.23" y="424.64" width="0.84" height="0.84" fill="#aaa"/><rect x="58.1" y="408.32" width="0.84" height="0.84" fill="#aaa"/><rect x="94.14" y="430.24" width="0.84" height="0.84" fill="#aaa"/><rect x="66.16" y="431.32" width="0.84" height="0.84" fill="#aaa"/><rect x="84.53" y="429.41" width="0.84" height="0.84" fill="#aaa"/><rect x="45.96" y="420.86" width="0.84" height="0.84" fill="#aaa"/><rect x="90.19" y="430.18" width="0.84" height="0.84" fill="#aaa"/><rect x="89.92" y="401.46" width="0.84" height="0.84" fill="#aaa"/><rect x="79.95" y="428.01" width="0.84" height="0.84" fill="#aaa"/><rect x="72.97" y="423.9" width="0.84" height="0.84" fill="#aaa"/><rect x="89.99" y="419.59" width="0.84" height="0.84" fill="#aaa"/><rect x="93.64" y="416.49" width="0.84" height="0.84" fill="#aaa"/><rect x="81.32" y="418.83" width="0.84" height="0.84" fill="#aaa"/><rect x="79.79" y="417.36" width="0.84" height="0.84" fill="#aaa"/><rect x="55.22" y="433.42" width="0.84" height="0.84" fill="#aaa"/><rect x="81.83" y="418.55" width="0.84" height="0.84" fill="#aaa"/><rect x="80.39" y="432.49" width="0.84" height="0.84" fill="#aaa"/><rect x="63.9" y="422.59" width="0.84" height="0.84" fill="#aaa"/><rect x="85.13" y="428.32" width="0.84" height="0.84" fill="#aaa"/><rect x="72.89" y="404.62" width="0.84" height="0.84" fill="#aaa"/><rect x="94.98" y="426.53" width="0.84" height="0.84" fill="#aaa"/><rect x="77.76" y="421.07" width="0.84" height="0.84" fill="#aaa"/><rect x="81.27" y="419.75" width="0.84" height="0.84" fill="#aaa"/><rect x="63.23" y="416.92" width="0.84" height="0.84" fill="#aaa"/><rect x="69.22" y="418.07" width="0.84" height="0.84" fill="#aaa"/><rect x="61.36" y="429.31" width="0.84" height="0.84" fill="#aaa"/><rect x="59.24" y="429.52" width="0.84" height="0.84" fill="#aaa"/><rect x="63.37" y="426.75" width="0.84" height="0.84" fill="#aaa"/><rect x="96.82" y="425.41" width="0.84" height="0.84" fill="#aaa"/><rect x="67.35" y="424.01" width="0.84" height="0.84" fill="#aaa"/><rect x="79.65" y="407.98" width="0.84" height="0.84" fill="#aaa"/><rect x="69.07" y="425.05" width="0.84" height="0.84" fill="#aaa"/><rect x="71.01" y="424.3" width="0.84" height="0.84" fill="#aaa"/><rect x="87.86" y="430.48" width="0.84" height="0.84" fill="#aaa"/><rect x="90.26" y="428.88" width="0.84" height="0.84" fill="#aaa"/><rect x="73.55" y="423.41" width="0.84" height="0.84" fill="#aaa"/><rect x="73.78" y="420.76" width="0.84" height="0.84" fill="#aaa"/><rect x="75.06" y="408.06" width="0.84" height="0.84" fill="#aaa"/><rect x="72.92" y="423.36" width="0.84" height="0.84" fill="#aaa"/><rect x="63.94" y="423.36" width="0.84" height="0.84" fill="#aaa"/><rect x="84.8" y="422.1" width="0.84" height="0.84" fill="#aaa"/><rect x="106.65" y="400.12" width="0.84" height="0.84" fill="#aaa"/><rect x="74.69" y="407.15" width="0.84" height="0.84" fill="#aaa"/><rect x="42.55" y="424.73" width="0.84" height="0.84" fill="#aaa"/><rect x="84.85" y="420.86" width="0.84" height="0.84" fill="#aaa"/><rect x="85.3" y="403.39" width="0.84" height="0.84" fill="#aaa"/><rect x="89.51" y="426.93" width="0.84" height="0.84" fill="#aaa"/><rect x="77.9" y="418.29" width="0.84" height="0.84" fill="#aaa"/><rect x="86.52" y="419.21" width="0.84" height="0.84" fill="#aaa"/><rect x="80.7" y="418.99" width="0.84" height="0.84" fill="#aaa"/><rect x="46.12" y="423.3" width="0.84" height="0.84" fill="#aaa"/><rect x="80.41" y="430.37" width="0.84" height="0.84" fill="#aaa"/><rect x="65.31" y="423.28" width="0.84" height="0.84" fill="#aaa"/><rect x="86.22" y="424.89" width="0.84" height="0.84" fill="#aaa"/><rect x="94.97" y="441.5" width="0.84" height="0.84" fill="#aaa"/><rect x="64.86" y="406.29" width="0.84" height="0.84" fill="#aaa"/><rect x="89.57" y="437.35" width="0.84" height="0.84" fill="#aaa"/><rect x="90.49" y="430.91" width="0.84" height="0.84" fill="#aaa"/><rect x="68.92" y="417.16" width="0.84" height="0.84" fill="#aaa"/><rect x="90.02" y="415.38" width="0.84" height="0.84" fill="#aaa"/><rect x="52.19" y="414.6" width="0.84" height="0.84" fill="#aaa"/><rect x="67.97" y="417.02" width="0.84" height="0.84" fill="#aaa"/><rect x="80.82" y="416.84" width="0.84" height="0.84" fill="#aaa"/><rect x="95.92" y="422.88" width="0.84" height="0.84" fill="#aaa"/><rect x="62.37" y="435.36" width="0.84" height="0.84" fill="#aaa"/><rect x="69.42" y="425.57" width="0.84" height="0.84" fill="#aaa"/><rect x="77.4" y="420.75" width="0.84" height="0.84" fill="#aaa"/><rect x="82.13" y="417.35" width="0.84" height="0.84" fill="#aaa"/>
<rect x="88.84" y="442.06" width="0.8" height="0.8" fill="#bbb"/><rect x="86.07" y="431.17" width="0.8" height="0.8" fill="#bbb"/><rect x="71.86" y="408.66" width="0.8" height="0.8" fill="#bbb"/><rect x="57.36" y="413.68" width="0.8" height="0.8" fill="#bbb"/><rect x="87.63" y="423.3" width="0.8" height="0.8" fill="#bbb"/><rect x="82.26" y="439.05" width="0.8" height="0.8" fill="#bbb"/><rect x="62.47" y="416.33" width="0.8" height="0.8" fill="#bbb"/><rect x="89.56" y="409.36" width="0.8" height="0.8" fill="#bbb"/><rect x="55.74" y="420.67" width="0.8" height="0.8" fill="#bbb"/><rect x="61.13" y="420.74" width="0.8" height="0.8" fill="#bbb"/><rect x="67.26" y="428.44" width="0.8" height="0.8" fill="#bbb"/><rect x="86.23" y="415.54" width="0.8" height="0.8" fill="#bbb"/><rect x="88.04" y="424.75" width="0.8" height="0.8" fill="#bbb"/><rect x="62.61" y="440.44" width="0.8" height="0.8" fill="#bbb"/><rect x="68.27" y="413.68" width="0.8" height="0.8" fill="#bbb"/><rect x="60.58" y="430.3" width="0.8" height="0.8" fill="#bbb"/><rect x="100.91" y="435.19" width="0.8" height="0.8" fill="#bbb"/><rect x="76.5" y="417.58" width="0.8" height="0.8" fill="#bbb"/><rect x="56.2" y="430.53" width="0.8" height="0.8" fill="#bbb"/><rect x="84.84" y="420.51" width="0.8" height="0.8" fill="#bbb"/><rect x="89.17" y="423.69" width="0.8" height="0.8" fill="#bbb"/><rect x="104.33" y="433.54" width="0.8" height="0.8" fill="#bbb"/><rect x="68.52" y="439.32" width="0.8" height="0.8" fill="#bbb"/><rect x="57.89" y="426.67" width="0.8" height="0.8" fill="#bbb"/><rect x="76.71" y="416.68" width="0.8" height="0.8" fill="#bbb"/><rect x="58.64" y="435.08" width="0.8" height="0.8" fill="#bbb"/><rect x="56.24" y="427.33" width="0.8" height="0.8" fill="#bbb"/><rect x="104.53" y="413.44" width="0.8" height="0.8" fill="#bbb"/><rect x="65.97" y="429.27" width="0.8" height="0.8" fill="#bbb"/><rect x="81.96" y="430.41" width="0.8" height="0.8" fill="#bbb"/><rect x="97.9" y="414.54" width="0.8" height="0.8" fill="#bbb"/><rect x="71.69" y="418.81" width="0.8" height="0.8" fill="#bbb"/><rect x="58.12" y="438.84" width="0.8" height="0.8" fill="#bbb"/><rect x="96.31" y="432.92" width="0.8" height="0.8" fill="#bbb"/><rect x="55.93" y="437.31" width="0.8" height="0.8" fill="#bbb"/><rect x="94.35" y="424.42" width="0.8" height="0.8" fill="#bbb"/><rect x="94.17" y="423.98" width="0.8" height="0.8" fill="#bbb"/><rect x="67.35" y="412.18" width="0.8" height="0.8" fill="#bbb"/><rect x="67.68" y="409.92" width="0.8" height="0.8" fill="#bbb"/><rect x="73.05" y="434.09" width="0.8" height="0.8" fill="#bbb"/><rect x="91.75" y="437.34" width="0.8" height="0.8" fill="#bbb"/><rect x="92.61" y="417.64" width="0.8" height="0.8" fill="#bbb"/><rect x="84.4" y="423.43" width="0.8" height="0.8" fill="#bbb"/><rect x="96.6" y="426.39" width="0.8" height="0.8" fill="#bbb"/><rect x="69.4" y="430.43" width="0.8" height="0.8" fill="#bbb"/><rect x="105.79" y="415.98" width="0.8" height="0.8" fill="#bbb"/><rect x="101.36" y="409.12" width="0.8" height="0.8" fill="#bbb"/><rect x="69.14" y="416.63" width="0.8" height="0.8" fill="#bbb"/><rect x="94.28" y="440.72" width="0.8" height="0.8" fill="#bbb"/><rect x="94.4" y="419.71" width="0.8" height="0.8" fill="#bbb"/>
<path d="M52.75,427.5 C52.75,428.68 52.52,429.9 52.09,431.05 C51.65,432.2 50.98,433.35 50.13,434.41 C49.29,435.46 48.21,436.48 47,437.39 C45.8,438.3 44.38,439.14 42.88,439.85 C41.38,440.55 39.7,441.17 37.99,441.65 C36.28,442.12 34.43,442.49 32.6,442.71 C30.77,442.94 28.85,443.03 27,443 C25.15,442.97 23.26,442.8 21.47,442.51 C19.69,442.22 17.92,441.8 16.29,441.28 C14.67,440.76 13.1,440.12 11.7,439.39 C10.31,438.67 9.02,437.83 7.91,436.94 C6.81,436.05 5.85,435.06 5.08,434.04 C4.32,433.03 3.73,431.94 3.34,430.85 C2.95,429.76 2.75,428.62 2.75,427.5 C2.75,426.38 2.95,425.24 3.34,424.15 C3.73,423.06 4.32,421.97 5.08,420.96 C5.85,419.94 6.81,418.95 7.91,418.06 C9.02,417.17 10.31,416.33 11.7,415.61 C13.1,414.88 14.67,414.24 16.29,413.72 C17.92,413.2 19.69,412.78 21.47,412.49 C23.26,412.2 25.15,412.03 27,412 C28.85,411.97 30.77,412.06 32.6,412.29 C34.43,412.51 36.28,412.88 37.99,413.35 C39.7,413.83 41.38,414.45 42.88,415.15 C44.38,415.86 45.8,416.7 47,417.61 C48.21,418.52 49.29,419.54 50.13,420.59 C50.98,421.65 51.65,422.8 52.09,423.95 C52.52,425.1 52.75,426.32 52.75,427.5 Z" stroke="#333" stroke-width="0.7" fill="none" />
<path d="M58.41,427.5 C58.41,428.87 58.14,430.29 57.6,431.62 C57.07,432.96 56.26,434.29 55.22,435.52 C54.19,436.75 52.88,437.93 51.41,438.99 C49.93,440.04 48.21,441.01 46.37,441.84 C44.54,442.66 42.5,443.37 40.41,443.93 C38.32,444.48 36.07,444.9 33.83,445.17 C31.6,445.43 29.26,445.54 27,445.5 C24.74,445.46 22.44,445.26 20.26,444.93 C18.08,444.6 15.93,444.11 13.94,443.51 C11.95,442.9 10.04,442.15 8.34,441.31 C6.64,440.47 5.06,439.49 3.71,438.46 C2.37,437.42 1.19,436.28 0.26,435.1 C-0.67,433.92 -1.39,432.65 -1.87,431.39 C-2.34,430.12 -2.59,428.8 -2.59,427.5 C-2.59,426.2 -2.34,424.88 -1.87,423.61 C-1.39,422.35 -0.67,421.08 0.26,419.9 C1.19,418.72 2.37,417.58 3.71,416.54 C5.06,415.51 6.64,414.53 8.34,413.69 C10.04,412.85 11.95,412.1 13.94,411.49 C15.93,410.89 18.08,410.4 20.26,410.07 C22.44,409.74 24.74,409.54 27,409.5 C29.26,409.46 31.6,409.57 33.83,409.83 C36.07,410.1 38.32,410.52 40.41,411.07 C42.5,411.63 44.54,412.34 46.37,413.16 C48.21,413.99 49.93,414.96 51.41,416.01 C52.88,417.07 54.19,418.25 55.22,419.48 C56.26,420.71 57.07,422.04 57.6,423.38 C58.14,424.71 58.41,426.13 58.41,427.5 Z" stroke="#333" stroke-width="0.7" fill="none" />
<path d="M64.59,427.5 C64.59,428.94 64.26,430.41 63.63,431.81 C62.99,433.2 62.01,434.6 60.77,435.88 C59.54,437.16 57.97,438.4 56.21,439.5 C54.44,440.6 52.38,441.61 50.18,442.47 C47.99,443.33 45.54,444.08 43.04,444.66 C40.54,445.24 37.85,445.68 35.18,445.95 C32.5,446.22 29.71,446.34 27,446.3 C24.29,446.26 21.54,446.05 18.93,445.71 C16.33,445.36 13.75,444.85 11.37,444.22 C8.99,443.59 6.71,442.8 4.67,441.92 C2.63,441.04 0.74,440.03 -0.87,438.95 C-2.48,437.87 -3.88,436.67 -5,435.44 C-6.11,434.21 -6.98,432.88 -7.54,431.56 C-8.11,430.24 -8.41,428.85 -8.41,427.5 C-8.41,426.15 -8.11,424.76 -7.54,423.44 C-6.98,422.12 -6.11,420.79 -5,419.56 C-3.88,418.33 -2.48,417.13 -0.87,416.05 C0.74,414.97 2.63,413.96 4.67,413.08 C6.71,412.2 8.99,411.41 11.37,410.78 C13.75,410.15 16.33,409.64 18.93,409.29 C21.54,408.95 24.29,408.74 27,408.7 C29.71,408.66 32.5,408.78 35.18,409.05 C37.85,409.32 40.54,409.76 43.04,410.34 C45.54,410.92 47.99,411.67 50.18,412.53 C52.38,413.39 54.44,414.4 56.21,415.5 C57.97,416.6 59.54,417.84 60.77,419.12 C62.01,420.4 62.99,421.8 63.63,423.19 C64.26,424.59 64.59,426.06 64.59,427.5 Z" stroke="#333" stroke-width="0.7" fill="none" />
<path d="M70.26,427.5 C70.26,429 69.88,430.53 69.14,431.99 C68.41,433.44 67.29,434.9 65.86,436.23 C64.44,437.57 62.64,438.86 60.61,440.01 C58.58,441.15 56.2,442.21 53.68,443.11 C51.15,444.01 48.34,444.78 45.46,445.39 C42.58,445.99 39.48,446.45 36.41,446.74 C33.33,447.02 30.12,447.14 27,447.1 C23.88,447.06 20.71,446.84 17.72,446.48 C14.72,446.12 11.75,445.59 9.01,444.93 C6.28,444.27 3.65,443.45 1.3,442.54 C-1.04,441.62 -3.21,440.56 -5.07,439.43 C-6.92,438.31 -8.54,437.06 -9.82,435.77 C-11.1,434.49 -12.1,433.11 -12.75,431.73 C-13.4,430.35 -13.74,428.91 -13.74,427.5 C-13.74,426.09 -13.4,424.65 -12.75,423.27 C-12.1,421.89 -11.1,420.51 -9.82,419.23 C-8.54,417.94 -6.92,416.69 -5.07,415.57 C-3.21,414.44 -1.04,413.38 1.3,412.46 C3.65,411.55 6.28,410.73 9.01,410.07 C11.75,409.41 14.72,408.88 17.72,408.52 C20.71,408.16 23.88,407.94 27,407.9 C30.12,407.86 33.33,407.98 36.41,408.26 C39.48,408.55 42.58,409.01 45.46,409.61 C48.34,410.22 51.15,410.99 53.68,411.89 C56.2,412.79 58.58,413.85 60.61,414.99 C62.64,416.14 64.44,417.43 65.86,418.77 C67.29,420.1 68.41,421.56 69.14,423.01 C69.88,424.47 70.26,426 70.26,427.5 Z" stroke="#333" stroke-width="0.7" fill="none" />
<path d="M35.99,426.5 C35.99,426.65 35.95,426.81 35.9,426.95 C35.85,427.1 35.77,427.24 35.68,427.36 C35.59,427.49 35.48,427.61 35.36,427.71 C35.25,427.82 35.12,427.91 34.98,428 C34.85,428.08 34.7,428.15 34.56,428.21 C34.41,428.28 34.25,428.33 34.09,428.36 C33.93,428.4 33.76,428.42 33.6,428.42 C33.44,428.42 33.26,428.41 33.1,428.38 C32.94,428.34 32.78,428.29 32.64,428.22 C32.5,428.15 32.37,428.06 32.25,427.96 C32.14,427.86 32.04,427.75 31.96,427.63 C31.88,427.52 31.81,427.39 31.76,427.27 C31.71,427.14 31.67,427.01 31.64,426.89 C31.61,426.76 31.6,426.63 31.59,426.5 C31.59,426.37 31.59,426.24 31.61,426.11 C31.63,425.98 31.66,425.84 31.71,425.72 C31.77,425.59 31.83,425.46 31.92,425.34 C32.01,425.23 32.12,425.12 32.24,425.03 C32.36,424.93 32.5,424.85 32.65,424.79 C32.79,424.73 32.95,424.69 33.11,424.66 C33.27,424.63 33.44,424.62 33.6,424.62 C33.76,424.62 33.92,424.64 34.08,424.67 C34.24,424.7 34.4,424.74 34.55,424.79 C34.7,424.85 34.85,424.91 35,424.99 C35.14,425.07 35.28,425.16 35.4,425.26 C35.52,425.37 35.64,425.49 35.72,425.62 C35.81,425.75 35.89,425.89 35.93,426.04 C35.98,426.19 36,426.35 35.99,426.5 Z" stroke="#2a2a2a" stroke-width="0.85" fill="none" />
<path d="M37.95,426.5 C37.94,426.75 37.88,427 37.79,427.24 C37.7,427.47 37.56,427.7 37.4,427.9 C37.25,428.11 37.06,428.3 36.85,428.47 C36.65,428.64 36.43,428.79 36.19,428.93 C35.96,429.06 35.71,429.18 35.45,429.28 C35.2,429.38 34.93,429.46 34.65,429.52 C34.37,429.57 34.08,429.61 33.79,429.62 C33.51,429.62 33.21,429.6 32.93,429.54 C32.66,429.49 32.38,429.4 32.13,429.28 C31.88,429.17 31.65,429.02 31.45,428.87 C31.26,428.71 31.09,428.52 30.94,428.33 C30.8,428.15 30.69,427.94 30.6,427.74 C30.51,427.54 30.44,427.33 30.4,427.13 C30.35,426.92 30.32,426.71 30.31,426.5 C30.3,426.29 30.31,426.08 30.34,425.86 C30.38,425.65 30.43,425.44 30.52,425.23 C30.61,425.02 30.73,424.81 30.88,424.63 C31.03,424.44 31.22,424.26 31.43,424.11 C31.64,423.96 31.89,423.83 32.14,423.73 C32.39,423.63 32.67,423.56 32.95,423.51 C33.22,423.47 33.51,423.45 33.79,423.46 C34.08,423.46 34.36,423.49 34.63,423.54 C34.91,423.58 35.18,423.65 35.45,423.73 C35.71,423.82 35.97,423.92 36.22,424.05 C36.46,424.18 36.71,424.32 36.92,424.49 C37.13,424.66 37.33,424.86 37.48,425.07 C37.64,425.28 37.77,425.52 37.84,425.75 C37.92,425.99 37.96,426.25 37.95,426.5 Z" stroke="#2a2a2a" stroke-width="0.85" fill="none" />
<path d="M39.91,426.5 C39.89,426.84 39.81,427.19 39.68,427.52 C39.55,427.84 39.35,428.15 39.13,428.44 C38.91,428.72 38.63,428.98 38.35,429.22 C38.06,429.46 37.74,429.67 37.41,429.86 C37.07,430.04 36.72,430.21 36.35,430.34 C35.99,430.48 35.6,430.6 35.21,430.68 C34.81,430.75 34.4,430.8 33.99,430.81 C33.58,430.82 33.16,430.78 32.76,430.71 C32.37,430.63 31.97,430.51 31.62,430.35 C31.27,430.2 30.94,429.99 30.66,429.77 C30.37,429.55 30.13,429.29 29.93,429.04 C29.73,428.78 29.57,428.49 29.44,428.22 C29.31,427.94 29.22,427.65 29.15,427.37 C29.08,427.08 29.04,426.79 29.03,426.5 C29.01,426.21 29.02,425.91 29.07,425.62 C29.12,425.33 29.2,425.03 29.33,424.74 C29.45,424.46 29.62,424.17 29.84,423.91 C30.06,423.65 30.32,423.4 30.62,423.19 C30.92,422.99 31.27,422.81 31.63,422.67 C31.99,422.53 32.39,422.43 32.78,422.37 C33.18,422.31 33.59,422.28 33.99,422.29 C34.39,422.3 34.79,422.34 35.18,422.4 C35.58,422.47 35.96,422.56 36.34,422.68 C36.72,422.79 37.09,422.94 37.44,423.11 C37.79,423.29 38.14,423.49 38.44,423.72 C38.74,423.96 39.02,424.23 39.24,424.52 C39.46,424.81 39.65,425.14 39.76,425.47 C39.87,425.8 39.92,426.16 39.91,426.5 Z" stroke="#2a2a2a" stroke-width="0.85" fill="none" />
<path d="M41.86,426.5 C41.85,426.94 41.74,427.39 41.57,427.8 C41.4,428.21 41.14,428.61 40.85,428.98 C40.57,429.34 40.21,429.67 39.84,429.97 C39.46,430.28 39.05,430.55 38.62,430.78 C38.19,431.02 37.73,431.24 37.25,431.41 C36.78,431.58 36.27,431.73 35.76,431.83 C35.25,431.93 34.71,432 34.18,432 C33.65,432.01 33.1,431.97 32.59,431.87 C32.08,431.78 31.56,431.62 31.11,431.42 C30.65,431.22 30.22,430.96 29.86,430.68 C29.49,430.4 29.18,430.07 28.91,429.74 C28.65,429.41 28.45,429.05 28.28,428.69 C28.11,428.34 27.99,427.97 27.9,427.6 C27.81,427.24 27.76,426.87 27.74,426.5 C27.73,426.13 27.74,425.75 27.8,425.38 C27.87,425 27.97,424.62 28.13,424.25 C28.3,423.89 28.52,423.52 28.8,423.19 C29.08,422.86 29.43,422.54 29.81,422.28 C30.2,422.01 30.66,421.78 31.13,421.61 C31.59,421.43 32.11,421.3 32.62,421.22 C33.13,421.14 33.66,421.12 34.18,421.12 C34.7,421.13 35.23,421.18 35.73,421.27 C36.24,421.35 36.75,421.46 37.24,421.62 C37.72,421.77 38.21,421.95 38.66,422.17 C39.12,422.4 39.56,422.65 39.95,422.95 C40.34,423.25 40.71,423.6 41,423.97 C41.29,424.34 41.52,424.76 41.67,425.18 C41.81,425.61 41.88,426.06 41.86,426.5 Z" stroke="#2a2a2a" stroke-width="0.85" fill="none" />
<path d="M43.82,426.5 C43.8,427.03 43.66,427.58 43.46,428.08 C43.25,428.58 42.93,429.07 42.58,429.51 C42.23,429.95 41.79,430.36 41.33,430.73 C40.87,431.1 40.36,431.42 39.83,431.71 C39.3,432.01 38.74,432.26 38.15,432.47 C37.56,432.69 36.95,432.87 36.32,432.99 C35.69,433.11 35.03,433.19 34.38,433.2 C33.73,433.21 33.05,433.16 32.42,433.04 C31.79,432.92 31.16,432.73 30.6,432.49 C30.04,432.24 29.51,431.93 29.06,431.58 C28.61,431.24 28.22,430.84 27.9,430.44 C27.58,430.04 27.32,429.6 27.12,429.17 C26.91,428.73 26.76,428.29 26.65,427.84 C26.54,427.4 26.48,426.95 26.46,426.5 C26.44,426.05 26.45,425.59 26.53,425.13 C26.61,424.68 26.73,424.21 26.94,423.77 C27.14,423.32 27.41,422.87 27.76,422.47 C28.1,422.07 28.53,421.68 29.01,421.36 C29.48,421.04 30.04,420.76 30.62,420.55 C31.19,420.33 31.83,420.18 32.46,420.08 C33.08,419.98 33.74,419.95 34.38,419.96 C35.02,419.97 35.66,420.03 36.28,420.13 C36.91,420.23 37.53,420.37 38.13,420.56 C38.73,420.74 39.33,420.96 39.88,421.23 C40.44,421.5 40.99,421.82 41.47,422.18 C41.95,422.55 42.41,422.97 42.76,423.42 C43.11,423.87 43.4,424.39 43.58,424.9 C43.76,425.41 43.84,425.97 43.82,426.5 Z" stroke="#2a2a2a" stroke-width="0.85" fill="none" />
<path d="M45.77,426.5 C45.75,427.12 45.59,427.77 45.34,428.36 C45.1,428.95 44.73,429.53 44.31,430.05 C43.88,430.57 43.37,431.05 42.82,431.48 C42.28,431.91 41.67,432.3 41.04,432.64 C40.41,432.99 39.74,433.29 39.05,433.54 C38.35,433.79 37.62,434 36.88,434.14 C36.13,434.29 35.34,434.38 34.57,434.39 C33.8,434.4 33,434.34 32.25,434.2 C31.5,434.06 30.75,433.84 30.09,433.55 C29.42,433.27 28.8,432.89 28.26,432.49 C27.73,432.09 27.27,431.62 26.89,431.14 C26.5,430.67 26.2,430.15 25.96,429.64 C25.71,429.13 25.54,428.61 25.41,428.08 C25.28,427.56 25.2,427.03 25.17,426.5 C25.15,425.97 25.17,425.43 25.26,424.89 C25.36,424.35 25.5,423.8 25.75,423.28 C25.99,422.76 26.31,422.23 26.72,421.76 C27.12,421.28 27.63,420.83 28.2,420.45 C28.76,420.07 29.43,419.74 30.11,419.48 C30.79,419.23 31.55,419.05 32.29,418.94 C33.04,418.82 33.81,418.78 34.57,418.79 C35.33,418.8 36.09,418.88 36.83,418.99 C37.58,419.11 38.31,419.28 39.03,419.5 C39.74,419.71 40.45,419.97 41.11,420.29 C41.77,420.61 42.42,420.99 42.99,421.42 C43.56,421.85 44.1,422.34 44.52,422.87 C44.93,423.41 45.28,424.01 45.49,424.61 C45.7,425.22 45.8,425.88 45.77,426.5 Z" stroke="#2a2a2a" stroke-width="0.85" fill="none" />
<path d="M47.73,426.5 C47.7,427.22 47.52,427.96 47.23,428.64 C46.95,429.32 46.52,429.99 46.03,430.59 C45.54,431.19 44.94,431.74 44.31,432.24 C43.68,432.73 42.98,433.18 42.25,433.57 C41.53,433.97 40.75,434.32 39.95,434.6 C39.14,434.89 38.3,435.14 37.43,435.3 C36.57,435.46 35.66,435.57 34.77,435.58 C33.87,435.6 32.94,435.53 32.08,435.37 C31.21,435.21 30.35,434.95 29.58,434.62 C28.81,434.29 28.08,433.86 27.47,433.4 C26.85,432.93 26.32,432.39 25.87,431.84 C25.43,431.3 25.08,430.7 24.8,430.12 C24.51,429.53 24.31,428.93 24.16,428.32 C24.01,427.72 23.92,427.11 23.89,426.5 C23.86,425.89 23.88,425.26 23.99,424.65 C24.1,424.03 24.27,423.4 24.55,422.79 C24.83,422.19 25.2,421.58 25.67,421.04 C26.15,420.49 26.73,419.97 27.39,419.53 C28.04,419.1 28.81,418.71 29.6,418.42 C30.39,418.13 31.27,417.92 32.13,417.79 C32.99,417.66 33.89,417.61 34.77,417.62 C35.64,417.64 36.53,417.72 37.38,417.86 C38.24,417.99 39.1,418.19 39.92,418.44 C40.74,418.69 41.56,418.99 42.33,419.36 C43.09,419.72 43.85,420.15 44.51,420.65 C45.17,421.14 45.79,421.71 46.27,422.32 C46.76,422.94 47.16,423.63 47.4,424.33 C47.65,425.02 47.76,425.78 47.73,426.5 Z" stroke="#2a2a2a" stroke-width="0.85" fill="none" />
<path d="M49.69,426.5 C49.66,427.31 49.44,428.15 49.12,428.93 C48.8,429.7 48.31,430.45 47.76,431.12 C47.2,431.8 46.52,432.43 45.81,432.99 C45.09,433.55 44.29,434.06 43.47,434.5 C42.64,434.95 41.76,435.34 40.85,435.67 C39.93,436 38.97,436.27 37.99,436.46 C37.01,436.64 35.97,436.77 34.96,436.78 C33.95,436.79 32.89,436.72 31.91,436.53 C30.93,436.35 29.94,436.06 29.07,435.69 C28.19,435.31 27.37,434.83 26.67,434.3 C25.97,433.78 25.36,433.17 24.86,432.55 C24.35,431.93 23.96,431.26 23.64,430.59 C23.31,429.93 23.09,429.25 22.91,428.56 C22.74,427.88 22.64,427.19 22.61,426.5 C22.58,425.81 22.6,425.1 22.72,424.4 C22.85,423.7 23.04,422.99 23.36,422.31 C23.68,421.63 24.1,420.94 24.63,420.32 C25.17,419.7 25.84,419.11 26.58,418.62 C27.33,418.12 28.2,417.69 29.1,417.36 C29.99,417.03 30.99,416.8 31.96,416.65 C32.94,416.5 33.97,416.45 34.96,416.46 C35.96,416.47 36.96,416.57 37.93,416.72 C38.91,416.88 39.88,417.1 40.81,417.38 C41.75,417.66 42.68,418 43.55,418.42 C44.42,418.83 45.28,419.32 46.03,419.88 C46.77,420.44 47.49,421.08 48.03,421.78 C48.58,422.47 49.04,423.25 49.31,424.04 C49.59,424.83 49.72,425.69 49.69,426.5 Z" stroke="#2a2a2a" stroke-width="0.85" fill="none" />
<path d="M51.64,426.5 C51.61,427.41 51.37,428.35 51.01,429.21 C50.65,430.07 50.1,430.9 49.48,431.66 C48.86,432.42 48.1,433.11 47.3,433.74 C46.5,434.37 45.6,434.93 44.68,435.43 C43.75,435.93 42.77,436.37 41.74,436.73 C40.72,437.1 39.64,437.41 38.55,437.61 C37.45,437.82 36.29,437.96 35.16,437.97 C34.02,437.99 32.84,437.9 31.74,437.7 C30.64,437.5 29.53,437.17 28.55,436.75 C27.58,436.34 26.65,435.79 25.87,435.21 C25.08,434.63 24.41,433.94 23.84,433.25 C23.28,432.56 22.84,431.81 22.47,431.07 C22.11,430.33 21.86,429.56 21.67,428.8 C21.48,428.04 21.36,427.27 21.32,426.5 C21.29,425.73 21.31,424.94 21.45,424.16 C21.59,423.38 21.81,422.58 22.16,421.82 C22.52,421.06 22.99,420.29 23.59,419.6 C24.19,418.92 24.94,418.25 25.77,417.7 C26.61,417.15 27.58,416.67 28.59,416.3 C29.59,415.93 30.71,415.67 31.8,415.5 C32.89,415.33 34.04,415.28 35.16,415.29 C36.27,415.31 37.39,415.42 38.48,415.59 C39.58,415.76 40.66,416 41.71,416.32 C42.76,416.63 43.8,417.01 44.77,417.48 C45.75,417.94 46.71,418.48 47.55,419.11 C48.38,419.73 49.18,420.45 49.79,421.23 C50.41,422 50.92,422.88 51.23,423.76 C51.54,424.63 51.68,425.59 51.64,426.5 Z" stroke="#2a2a2a" stroke-width="0.85" fill="none" />
<path d="M53.6,426.5 C53.56,427.5 53.3,428.54 52.9,429.49 C52.5,430.44 51.89,431.36 51.21,432.2 C50.52,433.03 49.67,433.8 48.79,434.5 C47.9,435.19 46.91,435.81 45.89,436.36 C44.87,436.91 43.77,437.4 42.64,437.8 C41.51,438.2 40.32,438.54 39.1,438.77 C37.89,439 36.61,439.15 35.35,439.17 C34.09,439.18 32.78,439.09 31.57,438.86 C30.35,438.64 29.13,438.28 28.04,437.82 C26.96,437.36 25.94,436.76 25.07,436.12 C24.2,435.47 23.45,434.71 22.83,433.95 C22.2,433.19 21.71,432.36 21.31,431.54 C20.91,430.73 20.63,429.88 20.42,429.04 C20.21,428.2 20.08,427.35 20.04,426.5 C20,425.65 20.03,424.78 20.18,423.92 C20.34,423.06 20.57,422.17 20.97,421.33 C21.36,420.49 21.88,419.64 22.55,418.88 C23.22,418.13 24.04,417.39 24.97,416.78 C25.89,416.18 26.97,415.64 28.08,415.24 C29.19,414.83 30.42,414.54 31.64,414.36 C32.85,414.17 34.12,414.11 35.35,414.13 C36.58,414.14 37.83,414.26 39.03,414.45 C40.24,414.64 41.44,414.91 42.6,415.26 C43.76,415.61 44.92,416.03 46,416.54 C47.07,417.05 48.14,417.65 49.06,418.34 C49.99,419.03 50.87,419.82 51.55,420.68 C52.23,421.53 52.8,422.5 53.14,423.47 C53.48,424.44 53.64,425.5 53.6,426.5 Z" stroke="#2a2a2a" stroke-width="0.85" fill="none" />
<path d="M55.56,426.5 C55.51,427.6 55.23,428.73 54.79,429.77 C54.35,430.81 53.68,431.82 52.93,432.73 C52.18,433.65 51.25,434.49 50.28,435.25 C49.31,436.01 48.22,436.69 47.1,437.29 C45.98,437.89 44.78,438.42 43.54,438.86 C42.3,439.3 40.99,439.68 39.66,439.93 C38.33,440.18 36.92,440.34 35.54,440.36 C34.17,440.38 32.73,440.28 31.4,440.03 C30.06,439.78 28.72,439.39 27.53,438.89 C26.35,438.39 25.23,437.73 24.27,437.02 C23.32,436.32 22.5,435.49 21.81,434.65 C21.13,433.82 20.59,432.91 20.15,432.02 C19.71,431.12 19.41,430.2 19.17,429.28 C18.94,428.36 18.8,427.43 18.76,426.5 C18.71,425.57 18.74,424.62 18.91,423.67 C19.08,422.73 19.34,421.76 19.78,420.85 C20.21,419.93 20.78,419 21.51,418.17 C22.24,417.34 23.15,416.53 24.16,415.87 C25.17,415.2 26.36,414.62 27.57,414.18 C28.79,413.74 30.14,413.42 31.47,413.21 C32.8,413.01 34.19,412.94 35.54,412.96 C36.9,412.98 38.26,413.11 39.59,413.32 C40.91,413.52 42.23,413.82 43.5,414.2 C44.77,414.58 46.04,415.04 47.22,415.6 C48.4,416.16 49.57,416.82 50.58,417.57 C51.6,418.32 52.56,419.19 53.31,420.13 C54.05,421.07 54.68,422.12 55.05,423.19 C55.42,424.25 55.6,425.4 55.56,426.5 Z" stroke="#2a2a2a" stroke-width="0.85" fill="none" />
<path d="M57.51,426.5 C57.47,427.69 57.15,428.92 56.68,430.05 C56.2,431.18 55.47,432.28 54.66,433.27 C53.84,434.26 52.83,435.18 51.77,436 C50.72,436.83 49.54,437.57 48.31,438.22 C47.09,438.87 45.79,439.45 44.44,439.93 C43.09,440.41 41.67,440.81 40.22,441.08 C38.77,441.35 37.24,441.54 35.74,441.55 C34.24,441.57 32.68,441.46 31.23,441.2 C29.77,440.93 28.31,440.5 27.02,439.95 C25.73,439.41 24.51,438.7 23.48,437.93 C22.44,437.16 21.54,436.26 20.8,435.36 C20.05,434.45 19.47,433.47 18.99,432.49 C18.51,431.52 18.18,430.52 17.93,429.52 C17.67,428.52 17.52,427.52 17.47,426.5 C17.43,425.48 17.46,424.45 17.64,423.43 C17.83,422.41 18.11,421.36 18.58,420.36 C19.05,419.36 19.67,418.35 20.47,417.45 C21.26,416.55 22.25,415.68 23.35,414.95 C24.45,414.23 25.74,413.6 27.07,413.12 C28.39,412.64 29.86,412.29 31.31,412.07 C32.75,411.85 34.27,411.78 35.74,411.79 C37.21,411.81 38.69,411.96 40.14,412.18 C41.58,412.41 43.01,412.73 44.39,413.14 C45.78,413.55 47.16,414.05 48.44,414.66 C49.72,415.27 51,415.98 52.1,416.8 C53.21,417.62 54.26,418.57 55.07,419.58 C55.88,420.6 56.55,421.75 56.96,422.9 C57.37,424.05 57.56,425.31 57.51,426.5 Z" stroke="#2a2a2a" stroke-width="0.85" fill="none" />
<rect x="19.2" y="409" width="3.2" height="36" fill="#111"/>
<path d="M36,444.4 L38,440 L50,440.4 L60,441.8 L68,443.2 L70,444.4 Z" stroke="#111" stroke-width="0.5" fill="#111" />
<path d="M82.2,379.4 C83.73,378.8 86.62,379.23 89,379.2 C91.38,379.17 95.05,378.82 96.5,379.2 C97.95,379.58 97.62,380.37 97.7,381.5 C97.78,382.63 97.3,384.3 97,386 C96.7,387.7 96.18,390.05 95.9,391.7 C95.62,393.35 95.87,394.6 95.3,395.9 C94.73,397.2 93.5,398.62 92.5,399.5 C91.5,400.38 90.52,400.72 89.3,401.2 C88.08,401.68 86.48,402.78 85.2,402.4 C83.92,402.02 82.5,400.18 81.6,398.9 C80.7,397.62 80.7,396.1 79.8,394.7 C78.9,393.3 76.5,391.98 76.2,390.5 C75.9,389.02 77.4,387.08 78,385.8 C78.6,384.52 79.1,383.87 79.8,382.8 C80.5,381.73 80.67,380 82.2,379.4 Z" stroke="#111" stroke-width="0.9" fill="none" />
</g>
<rect x="19.2" y="350.4" width="92.4" height="94" fill="none" stroke="#777" stroke-width="0.8"/>
<line x1="54.4" y1="350.4" x2="54.4" y2="444.4" stroke="#777" stroke-width="0.6"/>
<line x1="19.2" y1="406.9" x2="111.6" y2="406.9" stroke="#777" stroke-width="0.6"/>
<line x1="17.6" y1="359.8" x2="19.2" y2="359.8" stroke="#444" stroke-width="0.6"/>
<line x1="17.6" y1="369.2" x2="19.2" y2="369.2" stroke="#444" stroke-width="0.6"/>
<line x1="17.6" y1="378.6" x2="19.2" y2="378.6" stroke="#444" stroke-width="0.6"/>
<line x1="17.6" y1="388" x2="19.2" y2="388" stroke="#444" stroke-width="0.6"/>
<line x1="17.6" y1="397.4" x2="19.2" y2="397.4" stroke="#444" stroke-width="0.6"/>
<line x1="17.6" y1="406.8" x2="19.2" y2="406.8" stroke="#444" stroke-width="0.6"/>
<line x1="17.6" y1="416.2" x2="19.2" y2="416.2" stroke="#444" stroke-width="0.6"/>
<line x1="17.6" y1="425.6" x2="19.2" y2="425.6" stroke="#444" stroke-width="0.6"/>
<line x1="17.6" y1="435" x2="19.2" y2="435" stroke="#444" stroke-width="0.6"/>
<line x1="28.44" y1="444.4" x2="28.44" y2="446" stroke="#444" stroke-width="0.6"/>
<line x1="37.68" y1="444.4" x2="37.68" y2="446" stroke="#444" stroke-width="0.6"/>
<line x1="46.92" y1="444.4" x2="46.92" y2="446" stroke="#444" stroke-width="0.6"/>
<line x1="56.16" y1="444.4" x2="56.16" y2="446" stroke="#444" stroke-width="0.6"/>
<line x1="65.4" y1="444.4" x2="65.4" y2="446" stroke="#444" stroke-width="0.6"/>
<line x1="74.64" y1="444.4" x2="74.64" y2="446" stroke="#444" stroke-width="0.6"/>
<line x1="83.88" y1="444.4" x2="83.88" y2="446" stroke="#444" stroke-width="0.6"/>
<line x1="93.12" y1="444.4" x2="93.12" y2="446" stroke="#444" stroke-width="0.6"/>
<line x1="102.36" y1="444.4" x2="102.36" y2="446" stroke="#444" stroke-width="0.6"/>
<text x="21.6" y="360" font-size="8.4" text-anchor="start" fill="#000">0.33</text>
<text x="108.6" y="360" font-size="8.4" text-anchor="end" fill="#000">4.96</text>
<rect x="20.3" y="434.98" width="18.4" height="8.23" fill="#fff" stroke="#999" stroke-width="0.4"/>
<text x="21.2" y="442.2" font-size="8.4" text-anchor="start" fill="#000">87.5</text>
<text x="108.6" y="442.2" font-size="8.4" text-anchor="end" fill="#000">7.17</text>
<clipPath id="c2"><rect x="115.7" y="350.6" width="93.7" height="93.8"/></clipPath><g clip-path="url(#c2)">
<rect x="184.46" y="382.98" width="0.9" height="0.9" fill="#999"/><rect x="180.44" y="401.1" width="0.9" height="0.9" fill="#999"/><rect x="170.87" y="379.64" width="0.9" height="0.9" fill="#999"/><rect x="167.96" y="371.38" width="0.9" height="0.9" fill="#999"/><rect x="164.22" y="389.32" width="0.9" height="0.9" fill="#999"/><rect x="174.15" y="374.81" width="0.9" height="0.9" fill="#999"/><rect x="167.39" y="390.96" width="0.9" height="0.9" fill="#999"/><rect x="173.05" y="384.57" width="0.9" height="0.9" fill="#999"/><rect x="181.89" y="395.77" width="0.9" height="0.9" fill="#999"/><rect x="194.78" y="393.66" width="0.9" height="0.9" fill="#999"/><rect x="180.4" y="388.15" width="0.9" height="0.9" fill="#999"/><rect x="193.67" y="396.24" width="0.9" height="0.9" fill="#999"/><rect x="176.77" y="389.93" width="0.9" height="0.9" fill="#999"/><rect x="181.55" y="387.29" width="0.9" height="0.9" fill="#999"/><rect x="175.25" y="378.33" width="0.9" height="0.9" fill="#999"/><rect x="174.98" y="376.91" width="0.9" height="0.9" fill="#999"/><rect x="189.04" y="390.44" width="0.9" height="0.9" fill="#999"/><rect x="169.6" y="396.02" width="0.9" height="0.9" fill="#999"/><rect x="186.38" y="374.54" width="0.9" height="0.9" fill="#999"/><rect x="193.98" y="392.21" width="0.9" height="0.9" fill="#999"/><rect x="195.76" y="378.95" width="0.9" height="0.9" fill="#999"/><rect x="183.5" y="389.7" width="0.9" height="0.9" fill="#999"/><rect x="180.86" y="388.06" width="0.9" height="0.9" fill="#999"/><rect x="187.68" y="377.24" width="0.9" height="0.9" fill="#999"/><rect x="169.31" y="377.89" width="0.9" height="0.9" fill="#999"/><rect x="174.79" y="383.01" width="0.9" height="0.9" fill="#999"/><rect x="182.19" y="388.68" width="0.9" height="0.9" fill="#999"/><rect x="179.5" y="382.55" width="0.9" height="0.9" fill="#999"/><rect x="175.71" y="393.14" width="0.9" height="0.9" fill="#999"/><rect x="185.36" y="387.61" width="0.9" height="0.9" fill="#999"/><rect x="176.67" y="397.04" width="0.9" height="0.9" fill="#999"/><rect x="174.5" y="391.17" width="0.9" height="0.9" fill="#999"/><rect x="188.48" y="385.22" width="0.9" height="0.9" fill="#999"/><rect x="185.85" y="379.7" width="0.9" height="0.9" fill="#999"/><rect x="187.35" y="388.25" width="0.9" height="0.9" fill="#999"/><rect x="166.56" y="391.3" width="0.9" height="0.9" fill="#999"/><rect x="172.11" y="395.28" width="0.9" height="0.9" fill="#999"/><rect x="173.82" y="385.88" width="0.9" height="0.9" fill="#999"/><rect x="181.51" y="384.79" width="0.9" height="0.9" fill="#999"/><rect x="181.33" y="383.35" width="0.9" height="0.9" fill="#999"/><rect x="184.62" y="386.99" width="0.9" height="0.9" fill="#999"/><rect x="180.94" y="369.06" width="0.9" height="0.9" fill="#999"/><rect x="188.54" y="387.16" width="0.9" height="0.9" fill="#999"/><rect x="164.99" y="387.57" width="0.9" height="0.9" fill="#999"/><rect x="182.99" y="393.91" width="0.9" height="0.9" fill="#999"/><rect x="170.59" y="397.01" width="0.9" height="0.9" fill="#999"/><rect x="177.98" y="402.52" width="0.9" height="0.9" fill="#999"/><rect x="178.08" y="391.37" width="0.9" height="0.9" fill="#999"/><rect x="176.32" y="379.7" width="0.9" height="0.9" fill="#999"/><rect x="188.02" y="392.84" width="0.9" height="0.9" fill="#999"/><rect x="191.56" y="392.52" width="0.9" height="0.9" fill="#999"/><rect x="174.66" y="376.14" width="0.9" height="0.9" fill="#999"/><rect x="174.05" y="382.56" width="0.9" height="0.9" fill="#999"/><rect x="172.73" y="390.74" width="0.9" height="0.9" fill="#999"/><rect x="181.87" y="385.2" width="0.9" height="0.9" fill="#999"/><rect x="180.63" y="386" width="0.9" height="0.9" fill="#999"/><rect x="180.95" y="391.84" width="0.9" height="0.9" fill="#999"/><rect x="186.93" y="382.49" width="0.9" height="0.9" fill="#999"/><rect x="167.2" y="396.23" width="0.9" height="0.9" fill="#999"/><rect x="180.17" y="394.14" width="0.9" height="0.9" fill="#999"/><rect x="166.11" y="384.81" width="0.9" height="0.9" fill="#999"/><rect x="179.47" y="377.58" width="0.9" height="0.9" fill="#999"/><rect x="175.12" y="391.66" width="0.9" height="0.9" fill="#999"/><rect x="187.88" y="397.31" width="0.9" height="0.9" fill="#999"/><rect x="172.34" y="377.84" width="0.9" height="0.9" fill="#999"/><rect x="183.41" y="393.06" width="0.9" height="0.9" fill="#999"/><rect x="180.79" y="378.49" width="0.9" height="0.9" fill="#999"/><rect x="185.51" y="392.1" width="0.9" height="0.9" fill="#999"/><rect x="183.68" y="383.78" width="0.9" height="0.9" fill="#999"/><rect x="181.68" y="392.09" width="0.9" height="0.9" fill="#999"/><rect x="174.78" y="374.97" width="0.9" height="0.9" fill="#999"/><rect x="181.88" y="390.08" width="0.9" height="0.9" fill="#999"/><rect x="179.36" y="392.73" width="0.9" height="0.9" fill="#999"/><rect x="174.56" y="386.42" width="0.9" height="0.9" fill="#999"/><rect x="176.81" y="390.66" width="0.9" height="0.9" fill="#999"/><rect x="192.02" y="385.32" width="0.9" height="0.9" fill="#999"/><rect x="195.69" y="396.89" width="0.9" height="0.9" fill="#999"/><rect x="185.58" y="390.77" width="0.9" height="0.9" fill="#999"/><rect x="193.42" y="385.78" width="0.9" height="0.9" fill="#999"/><rect x="178.35" y="380.04" width="0.9" height="0.9" fill="#999"/><rect x="183.03" y="395.69" width="0.9" height="0.9" fill="#999"/><rect x="183.51" y="389.7" width="0.9" height="0.9" fill="#999"/><rect x="177.64" y="388.05" width="0.9" height="0.9" fill="#999"/><rect x="167.85" y="393.77" width="0.9" height="0.9" fill="#999"/><rect x="175.97" y="379.77" width="0.9" height="0.9" fill="#999"/><rect x="173.24" y="381.59" width="0.9" height="0.9" fill="#999"/><rect x="186.09" y="393.83" width="0.9" height="0.9" fill="#999"/><rect x="168.39" y="392.97" width="0.9" height="0.9" fill="#999"/><rect x="186.35" y="383.18" width="0.9" height="0.9" fill="#999"/><rect x="167.36" y="382.1" width="0.9" height="0.9" fill="#999"/><rect x="174.18" y="389.18" width="0.9" height="0.9" fill="#999"/><rect x="176.39" y="373.77" width="0.9" height="0.9" fill="#999"/><rect x="181.12" y="376.98" width="0.9" height="0.9" fill="#999"/><rect x="186.49" y="379.11" width="0.9" height="0.9" fill="#999"/><rect x="173.71" y="381.4" width="0.9" height="0.9" fill="#999"/><rect x="174.91" y="395.39" width="0.9" height="0.9" fill="#999"/><rect x="186.07" y="390.86" width="0.9" height="0.9" fill="#999"/><rect x="181.8" y="376.89" width="0.9" height="0.9" fill="#999"/><rect x="175.08" y="383.36" width="0.9" height="0.9" fill="#999"/><rect x="171.43" y="390.26" width="0.9" height="0.9" fill="#999"/><rect x="173.32" y="382.34" width="0.9" height="0.9" fill="#999"/><rect x="170.89" y="373.58" width="0.9" height="0.9" fill="#999"/><rect x="184.01" y="395.6" width="0.9" height="0.9" fill="#999"/><rect x="180.65" y="380.6" width="0.9" height="0.9" fill="#999"/><rect x="157.61" y="388.07" width="0.9" height="0.9" fill="#999"/><rect x="188.98" y="388.88" width="0.9" height="0.9" fill="#999"/><rect x="186.67" y="396.56" width="0.9" height="0.9" fill="#999"/><rect x="188.27" y="384.08" width="0.9" height="0.9" fill="#999"/><rect x="187.67" y="391.99" width="0.9" height="0.9" fill="#999"/><rect x="166.95" y="384.32" width="0.9" height="0.9" fill="#999"/><rect x="167.86" y="386.24" width="0.9" height="0.9" fill="#999"/><rect x="183.88" y="380.01" width="0.9" height="0.9" fill="#999"/><rect x="162.8" y="395.39" width="0.9" height="0.9" fill="#999"/><rect x="182.26" y="396.51" width="0.9" height="0.9" fill="#999"/><rect x="168.66" y="393.84" width="0.9" height="0.9" fill="#999"/><rect x="195.84" y="400" width="0.9" height="0.9" fill="#999"/><rect x="177.57" y="388.7" width="0.9" height="0.9" fill="#999"/><rect x="178.02" y="393.44" width="0.9" height="0.9" fill="#999"/><rect x="187.55" y="387.52" width="0.9" height="0.9" fill="#999"/><rect x="168.38" y="391.77" width="0.9" height="0.9" fill="#999"/><rect x="175.49" y="391.04" width="0.9" height="0.9" fill="#999"/><rect x="181.36" y="397.5" width="0.9" height="0.9" fill="#999"/><rect x="188.35" y="384.02" width="0.9" height="0.9" fill="#999"/><rect x="182.04" y="398.42" width="0.9" height="0.9" fill="#999"/><rect x="174.95" y="389.77" width="0.9" height="0.9" fill="#999"/><rect x="188.78" y="395.12" width="0.9" height="0.9" fill="#999"/><rect x="183.4" y="378.37" width="0.9" height="0.9" fill="#999"/><rect x="169.16" y="388.56" width="0.9" height="0.9" fill="#999"/><rect x="182.35" y="403.51" width="0.9" height="0.9" fill="#999"/><rect x="172.36" y="394.35" width="0.9" height="0.9" fill="#999"/><rect x="185.41" y="376.09" width="0.9" height="0.9" fill="#999"/><rect x="172.7" y="388.03" width="0.9" height="0.9" fill="#999"/><rect x="175.3" y="385.95" width="0.9" height="0.9" fill="#999"/><rect x="183.01" y="381.69" width="0.9" height="0.9" fill="#999"/><rect x="182.98" y="382.81" width="0.9" height="0.9" fill="#999"/><rect x="174.89" y="390.44" width="0.9" height="0.9" fill="#999"/><rect x="174.66" y="388.82" width="0.9" height="0.9" fill="#999"/><rect x="192.05" y="387.13" width="0.9" height="0.9" fill="#999"/><rect x="178.08" y="391.73" width="0.9" height="0.9" fill="#999"/><rect x="176.33" y="393.99" width="0.9" height="0.9" fill="#999"/><rect x="168.99" y="390.97" width="0.9" height="0.9" fill="#999"/><rect x="175.15" y="381.76" width="0.9" height="0.9" fill="#999"/><rect x="193.41" y="381.42" width="0.9" height="0.9" fill="#999"/><rect x="193.3" y="391.23" width="0.9" height="0.9" fill="#999"/><rect x="190.87" y="380.6" width="0.9" height="0.9" fill="#999"/><rect x="188.84" y="396.42" width="0.9" height="0.9" fill="#999"/><rect x="178.32" y="386.11" width="0.9" height="0.9" fill="#999"/><rect x="198.9" y="388.1" width="0.9" height="0.9" fill="#999"/><rect x="175.87" y="382.86" width="0.9" height="0.9" fill="#999"/><rect x="182.82" y="389.1" width="0.9" height="0.9" fill="#999"/><rect x="180.67" y="398.14" width="0.9" height="0.9" fill="#999"/><rect x="176.63" y="390.03" width="0.9" height="0.9" fill="#999"/><rect x="190.92" y="380.42" width="0.9" height="0.9" fill="#999"/><rect x="187.56" y="398.86" width="0.9" height="0.9" fill="#999"/><rect x="168.41" y="379.82" width="0.9" height="0.9" fill="#999"/><rect x="170.94" y="374.95" width="0.9" height="0.9" fill="#999"/><rect x="182.87" y="374.88" width="0.9" height="0.9" fill="#999"/><rect x="183.24" y="396.4" width="0.9" height="0.9" fill="#999"/><rect x="166.33" y="384.89" width="0.9" height="0.9" fill="#999"/><rect x="163.91" y="392.01" width="0.9" height="0.9" fill="#999"/><rect x="173.35" y="385.22" width="0.9" height="0.9" fill="#999"/><rect x="179.69" y="390.49" width="0.9" height="0.9" fill="#999"/><rect x="176.48" y="387.05" width="0.9" height="0.9" fill="#999"/><rect x="174.88" y="387.7" width="0.9" height="0.9" fill="#999"/><rect x="169.87" y="387.36" width="0.9" height="0.9" fill="#999"/><rect x="163.79" y="383.76" width="0.9" height="0.9" fill="#999"/><rect x="194.57" y="387.47" width="0.9" height="0.9" fill="#999"/><rect x="169.17" y="388.62" width="0.9" height="0.9" fill="#999"/><rect x="171.47" y="376.22" width="0.9" height="0.9" fill="#999"/><rect x="173.36" y="391.74" width="0.9" height="0.9" fill="#999"/><rect x="182.32" y="386.32" width="0.9" height="0.9" fill="#999"/><rect x="171.84" y="379.94" width="0.9" height="0.9" fill="#999"/><rect x="190.05" y="388.54" width="0.9" height="0.9" fill="#999"/><rect x="171.64" y="373.23" width="0.9" height="0.9" fill="#999"/><rect x="168.29" y="403.04" width="0.9" height="0.9" fill="#999"/><rect x="170.06" y="386.45" width="0.9" height="0.9" fill="#999"/><rect x="180.93" y="385.93" width="0.9" height="0.9" fill="#999"/><rect x="177.02" y="378.02" width="0.9" height="0.9" fill="#999"/><rect x="170.84" y="397.93" width="0.9" height="0.9" fill="#999"/><rect x="173.2" y="392.45" width="0.9" height="0.9" fill="#999"/><rect x="165.7" y="385.17" width="0.9" height="0.9" fill="#999"/><rect x="181.34" y="393.69" width="0.9" height="0.9" fill="#999"/><rect x="170.27" y="390.82" width="0.9" height="0.9" fill="#999"/><rect x="182.34" y="382.16" width="0.9" height="0.9" fill="#999"/><rect x="183.07" y="381.11" width="0.9" height="0.9" fill="#999"/><rect x="172.88" y="386.83" width="0.9" height="0.9" fill="#999"/><rect x="157.54" y="386.24" width="0.9" height="0.9" fill="#999"/><rect x="171.25" y="377.44" width="0.9" height="0.9" fill="#999"/><rect x="175.85" y="391.91" width="0.9" height="0.9" fill="#999"/><rect x="176.01" y="395.18" width="0.9" height="0.9" fill="#999"/><rect x="169.97" y="378.42" width="0.9" height="0.9" fill="#999"/><rect x="191.66" y="389.54" width="0.9" height="0.9" fill="#999"/><rect x="186.81" y="381.58" width="0.9" height="0.9" fill="#999"/><rect x="185.69" y="388.64" width="0.9" height="0.9" fill="#999"/><rect x="184.44" y="387.11" width="0.9" height="0.9" fill="#999"/><rect x="188.9" y="382.73" width="0.9" height="0.9" fill="#999"/><rect x="171.54" y="377.35" width="0.9" height="0.9" fill="#999"/><rect x="188.53" y="382.15" width="0.9" height="0.9" fill="#999"/><rect x="170.9" y="380.84" width="0.9" height="0.9" fill="#999"/><rect x="175.69" y="378.69" width="0.9" height="0.9" fill="#999"/><rect x="176.93" y="382.87" width="0.9" height="0.9" fill="#999"/><rect x="174.84" y="380.71" width="0.9" height="0.9" fill="#999"/><rect x="179.54" y="383.95" width="0.9" height="0.9" fill="#999"/><rect x="180.17" y="388.57" width="0.9" height="0.9" fill="#999"/><rect x="181.97" y="372.72" width="0.9" height="0.9" fill="#999"/><rect x="174.96" y="381.78" width="0.9" height="0.9" fill="#999"/><rect x="185.44" y="376.69" width="0.9" height="0.9" fill="#999"/><rect x="173.53" y="385.04" width="0.9" height="0.9" fill="#999"/><rect x="176.56" y="393.39" width="0.9" height="0.9" fill="#999"/><rect x="175.71" y="393.22" width="0.9" height="0.9" fill="#999"/><rect x="167.53" y="375.17" width="0.9" height="0.9" fill="#999"/><rect x="189" y="389.78" width="0.9" height="0.9" fill="#999"/><rect x="183.15" y="387.75" width="0.9" height="0.9" fill="#999"/><rect x="183.12" y="379.05" width="0.9" height="0.9" fill="#999"/><rect x="186.84" y="383.49" width="0.9" height="0.9" fill="#999"/><rect x="187.14" y="387.52" width="0.9" height="0.9" fill="#999"/><rect x="163.46" y="378.58" width="0.9" height="0.9" fill="#999"/><rect x="188.27" y="386.06" width="0.9" height="0.9" fill="#999"/><rect x="176.09" y="388.53" width="0.9" height="0.9" fill="#999"/><rect x="175.85" y="383.41" width="0.9" height="0.9" fill="#999"/><rect x="180.07" y="387.89" width="0.9" height="0.9" fill="#999"/><rect x="191.38" y="387.25" width="0.9" height="0.9" fill="#999"/><rect x="194.29" y="398.67" width="0.9" height="0.9" fill="#999"/><rect x="192.98" y="393.85" width="0.9" height="0.9" fill="#999"/><rect x="180.29" y="387.84" width="0.9" height="0.9" fill="#999"/><rect x="178.11" y="382.2" width="0.9" height="0.9" fill="#999"/><rect x="178.72" y="382.78" width="0.9" height="0.9" fill="#999"/><rect x="192.37" y="390.42" width="0.9" height="0.9" fill="#999"/><rect x="175.68" y="374.5" width="0.9" height="0.9" fill="#999"/><rect x="178.82" y="384.24" width="0.9" height="0.9" fill="#999"/><rect x="170.56" y="379.56" width="0.9" height="0.9" fill="#999"/><rect x="161.25" y="390.65" width="0.9" height="0.9" fill="#999"/><rect x="178.72" y="403.73" width="0.9" height="0.9" fill="#999"/><rect x="179" y="385.99" width="0.9" height="0.9" fill="#999"/><rect x="190.8" y="387.82" width="0.9" height="0.9" fill="#999"/><rect x="180.59" y="384.53" width="0.9" height="0.9" fill="#999"/><rect x="174.41" y="396.7" width="0.9" height="0.9" fill="#999"/><rect x="187.25" y="398.1" width="0.9" height="0.9" fill="#999"/><rect x="176.45" y="387.15" width="0.9" height="0.9" fill="#999"/><rect x="172.2" y="393.24" width="0.9" height="0.9" fill="#999"/><rect x="168.11" y="390.62" width="0.9" height="0.9" fill="#999"/><rect x="188.02" y="396.12" width="0.9" height="0.9" fill="#999"/><rect x="171.73" y="394.03" width="0.9" height="0.9" fill="#999"/><rect x="173.54" y="382.03" width="0.9" height="0.9" fill="#999"/><rect x="168.67" y="394.46" width="0.9" height="0.9" fill="#999"/><rect x="192.44" y="383.09" width="0.9" height="0.9" fill="#999"/><rect x="173.17" y="384.75" width="0.9" height="0.9" fill="#999"/><rect x="199.31" y="393.48" width="0.9" height="0.9" fill="#999"/><rect x="174.91" y="375.29" width="0.9" height="0.9" fill="#999"/><rect x="173.87" y="394.67" width="0.9" height="0.9" fill="#999"/><rect x="194.19" y="385.22" width="0.9" height="0.9" fill="#999"/><rect x="173.72" y="383.64" width="0.9" height="0.9" fill="#999"/><rect x="164.16" y="392.85" width="0.9" height="0.9" fill="#999"/><rect x="170.56" y="393.86" width="0.9" height="0.9" fill="#999"/><rect x="165.59" y="378.69" width="0.9" height="0.9" fill="#999"/><rect x="181.56" y="381.99" width="0.9" height="0.9" fill="#999"/><rect x="185.5" y="387" width="0.9" height="0.9" fill="#999"/><rect x="169.85" y="390.99" width="0.9" height="0.9" fill="#999"/><rect x="185.99" y="374.52" width="0.9" height="0.9" fill="#999"/><rect x="193.86" y="390.18" width="0.9" height="0.9" fill="#999"/>
<rect x="178.7" y="380.84" width="0.84" height="0.84" fill="#aaa"/><rect x="160.94" y="394.44" width="0.84" height="0.84" fill="#aaa"/><rect x="182.51" y="384.44" width="0.84" height="0.84" fill="#aaa"/><rect x="158.97" y="379.31" width="0.84" height="0.84" fill="#aaa"/><rect x="166.69" y="400.69" width="0.84" height="0.84" fill="#aaa"/><rect x="149.35" y="392.26" width="0.84" height="0.84" fill="#aaa"/><rect x="175.7" y="411.85" width="0.84" height="0.84" fill="#aaa"/><rect x="177.55" y="394.85" width="0.84" height="0.84" fill="#aaa"/><rect x="155.45" y="389.15" width="0.84" height="0.84" fill="#aaa"/><rect x="161.61" y="398.9" width="0.84" height="0.84" fill="#aaa"/><rect x="168.98" y="412.58" width="0.84" height="0.84" fill="#aaa"/><rect x="173.03" y="387.93" width="0.84" height="0.84" fill="#aaa"/><rect x="188.11" y="406.12" width="0.84" height="0.84" fill="#aaa"/><rect x="170.79" y="391.09" width="0.84" height="0.84" fill="#aaa"/><rect x="147.13" y="388.38" width="0.84" height="0.84" fill="#aaa"/><rect x="180.52" y="390.35" width="0.84" height="0.84" fill="#aaa"/><rect x="153.74" y="399.34" width="0.84" height="0.84" fill="#aaa"/><rect x="172.51" y="403.04" width="0.84" height="0.84" fill="#aaa"/><rect x="177.45" y="410.26" width="0.84" height="0.84" fill="#aaa"/><rect x="159.51" y="406.39" width="0.84" height="0.84" fill="#aaa"/><rect x="157.73" y="403.83" width="0.84" height="0.84" fill="#aaa"/><rect x="171.73" y="399.77" width="0.84" height="0.84" fill="#aaa"/><rect x="181.19" y="397.42" width="0.84" height="0.84" fill="#aaa"/><rect x="182.93" y="405.46" width="0.84" height="0.84" fill="#aaa"/><rect x="171.21" y="392.48" width="0.84" height="0.84" fill="#aaa"/><rect x="160.54" y="392.83" width="0.84" height="0.84" fill="#aaa"/><rect x="167.15" y="397.36" width="0.84" height="0.84" fill="#aaa"/><rect x="205.35" y="403.33" width="0.84" height="0.84" fill="#aaa"/><rect x="178.81" y="389.83" width="0.84" height="0.84" fill="#aaa"/><rect x="161.05" y="394.71" width="0.84" height="0.84" fill="#aaa"/><rect x="171.89" y="388.26" width="0.84" height="0.84" fill="#aaa"/><rect x="188.92" y="392.51" width="0.84" height="0.84" fill="#aaa"/><rect x="182.52" y="376.56" width="0.84" height="0.84" fill="#aaa"/><rect x="169.5" y="400.08" width="0.84" height="0.84" fill="#aaa"/><rect x="171.88" y="403" width="0.84" height="0.84" fill="#aaa"/><rect x="172.94" y="399.04" width="0.84" height="0.84" fill="#aaa"/><rect x="146.87" y="391.16" width="0.84" height="0.84" fill="#aaa"/><rect x="141.47" y="403.24" width="0.84" height="0.84" fill="#aaa"/><rect x="173.27" y="395.82" width="0.84" height="0.84" fill="#aaa"/><rect x="159.72" y="392.35" width="0.84" height="0.84" fill="#aaa"/><rect x="191.73" y="413.16" width="0.84" height="0.84" fill="#aaa"/><rect x="168.88" y="409.17" width="0.84" height="0.84" fill="#aaa"/><rect x="150.52" y="380.16" width="0.84" height="0.84" fill="#aaa"/><rect x="163.78" y="389.71" width="0.84" height="0.84" fill="#aaa"/><rect x="162.87" y="399.27" width="0.84" height="0.84" fill="#aaa"/><rect x="205.88" y="391.63" width="0.84" height="0.84" fill="#aaa"/><rect x="170.18" y="400.07" width="0.84" height="0.84" fill="#aaa"/><rect x="169.17" y="405.96" width="0.84" height="0.84" fill="#aaa"/><rect x="190.89" y="386.39" width="0.84" height="0.84" fill="#aaa"/><rect x="171.52" y="395.2" width="0.84" height="0.84" fill="#aaa"/><rect x="173.86" y="383.79" width="0.84" height="0.84" fill="#aaa"/><rect x="148.48" y="376.73" width="0.84" height="0.84" fill="#aaa"/><rect x="175.88" y="399.31" width="0.84" height="0.84" fill="#aaa"/><rect x="170.46" y="376.28" width="0.84" height="0.84" fill="#aaa"/><rect x="165.1" y="390.78" width="0.84" height="0.84" fill="#aaa"/><rect x="152.62" y="389.34" width="0.84" height="0.84" fill="#aaa"/><rect x="177.95" y="402.48" width="0.84" height="0.84" fill="#aaa"/><rect x="169.31" y="402.21" width="0.84" height="0.84" fill="#aaa"/><rect x="162.34" y="398.22" width="0.84" height="0.84" fill="#aaa"/><rect x="170.06" y="402.57" width="0.84" height="0.84" fill="#aaa"/><rect x="168.74" y="396.29" width="0.84" height="0.84" fill="#aaa"/><rect x="167.96" y="391.78" width="0.84" height="0.84" fill="#aaa"/><rect x="196.38" y="402.21" width="0.84" height="0.84" fill="#aaa"/><rect x="174.73" y="418.2" width="0.84" height="0.84" fill="#aaa"/><rect x="186.42" y="383.57" width="0.84" height="0.84" fill="#aaa"/><rect x="177.92" y="405.12" width="0.84" height="0.84" fill="#aaa"/><rect x="192.2" y="409.42" width="0.84" height="0.84" fill="#aaa"/><rect x="178.83" y="386.99" width="0.84" height="0.84" fill="#aaa"/><rect x="159.13" y="400" width="0.84" height="0.84" fill="#aaa"/><rect x="175.64" y="388.39" width="0.84" height="0.84" fill="#aaa"/><rect x="164.97" y="393.98" width="0.84" height="0.84" fill="#aaa"/><rect x="170.31" y="400.61" width="0.84" height="0.84" fill="#aaa"/><rect x="166.14" y="386.45" width="0.84" height="0.84" fill="#aaa"/><rect x="184.49" y="411.94" width="0.84" height="0.84" fill="#aaa"/><rect x="168.31" y="406.8" width="0.84" height="0.84" fill="#aaa"/><rect x="174.91" y="403.52" width="0.84" height="0.84" fill="#aaa"/><rect x="175.36" y="390.71" width="0.84" height="0.84" fill="#aaa"/><rect x="176.47" y="406.68" width="0.84" height="0.84" fill="#aaa"/><rect x="158.82" y="415.28" width="0.84" height="0.84" fill="#aaa"/><rect x="194.66" y="413.99" width="0.84" height="0.84" fill="#aaa"/>
<rect x="197.43" y="427" width="0.84" height="0.84" fill="#aaa"/><rect x="164.84" y="413.58" width="0.84" height="0.84" fill="#aaa"/><rect x="158.2" y="420.74" width="0.84" height="0.84" fill="#aaa"/><rect x="169.12" y="426.28" width="0.84" height="0.84" fill="#aaa"/><rect x="141.3" y="442.7" width="0.84" height="0.84" fill="#aaa"/><rect x="201.45" y="419.31" width="0.84" height="0.84" fill="#aaa"/><rect x="179.05" y="424.34" width="0.84" height="0.84" fill="#aaa"/><rect x="173.41" y="417.49" width="0.84" height="0.84" fill="#aaa"/><rect x="167.86" y="411.33" width="0.84" height="0.84" fill="#aaa"/><rect x="172.07" y="419.34" width="0.84" height="0.84" fill="#aaa"/><rect x="174.06" y="411.03" width="0.84" height="0.84" fill="#aaa"/><rect x="170.13" y="420.06" width="0.84" height="0.84" fill="#aaa"/><rect x="178.04" y="408.95" width="0.84" height="0.84" fill="#aaa"/><rect x="175.45" y="429.41" width="0.84" height="0.84" fill="#aaa"/><rect x="177.94" y="415.89" width="0.84" height="0.84" fill="#aaa"/><rect x="162.7" y="417.22" width="0.84" height="0.84" fill="#aaa"/><rect x="179.79" y="435.11" width="0.84" height="0.84" fill="#aaa"/><rect x="167.37" y="413.15" width="0.84" height="0.84" fill="#aaa"/><rect x="174.84" y="421.62" width="0.84" height="0.84" fill="#aaa"/><rect x="156.87" y="412.21" width="0.84" height="0.84" fill="#aaa"/><rect x="168.16" y="426.3" width="0.84" height="0.84" fill="#aaa"/><rect x="152.88" y="409.4" width="0.84" height="0.84" fill="#aaa"/><rect x="176.57" y="407.33" width="0.84" height="0.84" fill="#aaa"/><rect x="171.1" y="423.1" width="0.84" height="0.84" fill="#aaa"/><rect x="168.03" y="409.4" width="0.84" height="0.84" fill="#aaa"/><rect x="168.74" y="416.26" width="0.84" height="0.84" fill="#aaa"/><rect x="174.29" y="411.19" width="0.84" height="0.84" fill="#aaa"/><rect x="184.86" y="402.83" width="0.84" height="0.84" fill="#aaa"/><rect x="167.11" y="419.66" width="0.84" height="0.84" fill="#aaa"/><rect x="183.04" y="413.5" width="0.84" height="0.84" fill="#aaa"/><rect x="177.22" y="413.91" width="0.84" height="0.84" fill="#aaa"/><rect x="179.91" y="436.95" width="0.84" height="0.84" fill="#aaa"/><rect x="163.97" y="424.01" width="0.84" height="0.84" fill="#aaa"/><rect x="156.6" y="429.31" width="0.84" height="0.84" fill="#aaa"/><rect x="186.53" y="419.93" width="0.84" height="0.84" fill="#aaa"/><rect x="153.69" y="423.6" width="0.84" height="0.84" fill="#aaa"/><rect x="185.67" y="430.48" width="0.84" height="0.84" fill="#aaa"/><rect x="180.96" y="401.28" width="0.84" height="0.84" fill="#aaa"/><rect x="160.06" y="433.8" width="0.84" height="0.84" fill="#aaa"/><rect x="152.42" y="430.89" width="0.84" height="0.84" fill="#aaa"/><rect x="195.93" y="427.2" width="0.84" height="0.84" fill="#aaa"/><rect x="185.26" y="416.25" width="0.84" height="0.84" fill="#aaa"/><rect x="152.42" y="418.55" width="0.84" height="0.84" fill="#aaa"/><rect x="166.8" y="419.1" width="0.84" height="0.84" fill="#aaa"/><rect x="179.34" y="418.13" width="0.84" height="0.84" fill="#aaa"/><rect x="172.27" y="423.82" width="0.84" height="0.84" fill="#aaa"/><rect x="169.51" y="438.01" width="0.84" height="0.84" fill="#aaa"/><rect x="175.77" y="420.43" width="0.84" height="0.84" fill="#aaa"/><rect x="166.67" y="413.33" width="0.84" height="0.84" fill="#aaa"/><rect x="188.4" y="421.08" width="0.84" height="0.84" fill="#aaa"/><rect x="154.48" y="413.96" width="0.84" height="0.84" fill="#aaa"/><rect x="167.67" y="415.13" width="0.84" height="0.84" fill="#aaa"/><rect x="184.76" y="407.96" width="0.84" height="0.84" fill="#aaa"/><rect x="176.47" y="421.01" width="0.84" height="0.84" fill="#aaa"/><rect x="153.09" y="420.05" width="0.84" height="0.84" fill="#aaa"/><rect x="168.26" y="424.59" width="0.84" height="0.84" fill="#aaa"/><rect x="163.28" y="422.61" width="0.84" height="0.84" fill="#aaa"/><rect x="146.26" y="408.74" width="0.84" height="0.84" fill="#aaa"/><rect x="180.57" y="430" width="0.84" height="0.84" fill="#aaa"/><rect x="169.4" y="413.59" width="0.84" height="0.84" fill="#aaa"/><rect x="184.74" y="398.66" width="0.84" height="0.84" fill="#aaa"/><rect x="158.39" y="426.3" width="0.84" height="0.84" fill="#aaa"/><rect x="178.72" y="409.26" width="0.84" height="0.84" fill="#aaa"/><rect x="143.16" y="434.1" width="0.84" height="0.84" fill="#aaa"/><rect x="171.72" y="410.62" width="0.84" height="0.84" fill="#aaa"/><rect x="170.34" y="428.6" width="0.84" height="0.84" fill="#aaa"/><rect x="133.3" y="430.68" width="0.84" height="0.84" fill="#aaa"/><rect x="179.94" y="398.77" width="0.84" height="0.84" fill="#aaa"/><rect x="180.37" y="401.78" width="0.84" height="0.84" fill="#aaa"/><rect x="185.53" y="423.57" width="0.84" height="0.84" fill="#aaa"/><rect x="201.11" y="413.47" width="0.84" height="0.84" fill="#aaa"/><rect x="169.65" y="430.05" width="0.84" height="0.84" fill="#aaa"/><rect x="160.62" y="412.53" width="0.84" height="0.84" fill="#aaa"/><rect x="164.37" y="418.85" width="0.84" height="0.84" fill="#aaa"/><rect x="154.43" y="424.42" width="0.84" height="0.84" fill="#aaa"/><rect x="177.19" y="420.3" width="0.84" height="0.84" fill="#aaa"/><rect x="193.38" y="416.3" width="0.84" height="0.84" fill="#aaa"/><rect x="187.87" y="414.11" width="0.84" height="0.84" fill="#aaa"/><rect x="180.16" y="400.23" width="0.84" height="0.84" fill="#aaa"/><rect x="172.35" y="417.83" width="0.84" height="0.84" fill="#aaa"/>
<rect x="187.25" y="416.9" width="0.8" height="0.8" fill="#bbb"/><rect x="189.24" y="417.17" width="0.8" height="0.8" fill="#bbb"/><rect x="181.88" y="439.95" width="0.8" height="0.8" fill="#bbb"/><rect x="186.15" y="416.37" width="0.8" height="0.8" fill="#bbb"/><rect x="180.7" y="422.78" width="0.8" height="0.8" fill="#bbb"/><rect x="203.95" y="417.66" width="0.8" height="0.8" fill="#bbb"/><rect x="169.09" y="430.26" width="0.8" height="0.8" fill="#bbb"/><rect x="159.1" y="428.4" width="0.8" height="0.8" fill="#bbb"/><rect x="204.23" y="425.58" width="0.8" height="0.8" fill="#bbb"/><rect x="167.09" y="423.92" width="0.8" height="0.8" fill="#bbb"/><rect x="181.43" y="412.79" width="0.8" height="0.8" fill="#bbb"/><rect x="159.29" y="412.2" width="0.8" height="0.8" fill="#bbb"/><rect x="168.45" y="421.83" width="0.8" height="0.8" fill="#bbb"/><rect x="168.17" y="416.12" width="0.8" height="0.8" fill="#bbb"/><rect x="157.34" y="426.72" width="0.8" height="0.8" fill="#bbb"/><rect x="197.95" y="428.95" width="0.8" height="0.8" fill="#bbb"/><rect x="183.39" y="430.36" width="0.8" height="0.8" fill="#bbb"/><rect x="163.46" y="432.46" width="0.8" height="0.8" fill="#bbb"/><rect x="177.49" y="426.78" width="0.8" height="0.8" fill="#bbb"/><rect x="185.69" y="424.01" width="0.8" height="0.8" fill="#bbb"/><rect x="169.37" y="416.08" width="0.8" height="0.8" fill="#bbb"/><rect x="164.57" y="425.54" width="0.8" height="0.8" fill="#bbb"/><rect x="173.29" y="428.1" width="0.8" height="0.8" fill="#bbb"/><rect x="153.24" y="419.94" width="0.8" height="0.8" fill="#bbb"/><rect x="199.14" y="415.95" width="0.8" height="0.8" fill="#bbb"/><rect x="182.66" y="424.8" width="0.8" height="0.8" fill="#bbb"/><rect x="167.98" y="442.16" width="0.8" height="0.8" fill="#bbb"/><rect x="168.56" y="434.62" width="0.8" height="0.8" fill="#bbb"/><rect x="161.16" y="409.94" width="0.8" height="0.8" fill="#bbb"/><rect x="199.65" y="423" width="0.8" height="0.8" fill="#bbb"/><rect x="155.95" y="421.18" width="0.8" height="0.8" fill="#bbb"/><rect x="176.35" y="433.34" width="0.8" height="0.8" fill="#bbb"/><rect x="158.5" y="415.48" width="0.8" height="0.8" fill="#bbb"/><rect x="204.4" y="433.45" width="0.8" height="0.8" fill="#bbb"/><rect x="160.94" y="419.4" width="0.8" height="0.8" fill="#bbb"/><rect x="171.63" y="431.24" width="0.8" height="0.8" fill="#bbb"/><rect x="185.88" y="437.35" width="0.8" height="0.8" fill="#bbb"/><rect x="196.94" y="425.72" width="0.8" height="0.8" fill="#bbb"/><rect x="192.49" y="433.61" width="0.8" height="0.8" fill="#bbb"/><rect x="193.62" y="424.23" width="0.8" height="0.8" fill="#bbb"/>
<path d="M146.72,428 C146.72,429.11 146.5,430.24 146.08,431.32 C145.66,432.4 145.02,433.47 144.21,434.46 C143.39,435.45 142.36,436.4 141.2,437.25 C140.04,438.1 138.69,438.89 137.24,439.55 C135.8,440.21 134.19,440.79 132.55,441.23 C130.9,441.68 129.13,442.02 127.38,442.23 C125.62,442.44 123.78,442.53 122,442.5 C120.22,442.47 118.41,442.31 116.7,442.04 C114.98,441.77 113.29,441.38 111.72,440.89 C110.16,440.41 108.66,439.8 107.32,439.12 C105.98,438.45 104.74,437.66 103.68,436.83 C102.62,435.99 101.69,435.07 100.96,434.12 C100.23,433.17 99.66,432.15 99.29,431.13 C98.91,430.11 98.72,429.04 98.72,428 C98.72,426.96 98.91,425.89 99.29,424.87 C99.66,423.85 100.23,422.83 100.96,421.88 C101.69,420.93 102.62,420.01 103.68,419.17 C104.74,418.34 105.98,417.55 107.32,416.88 C108.66,416.2 110.16,415.59 111.72,415.11 C113.29,414.62 114.98,414.23 116.7,413.96 C118.41,413.69 120.22,413.53 122,413.5 C123.78,413.47 125.62,413.56 127.38,413.77 C129.13,413.98 130.9,414.32 132.55,414.77 C134.19,415.21 135.8,415.79 137.24,416.45 C138.69,417.11 140.04,417.9 141.2,418.75 C142.36,419.6 143.39,420.55 144.21,421.54 C145.02,422.53 145.66,423.6 146.08,424.68 C146.5,425.76 146.72,426.89 146.72,428 Z" stroke="#333" stroke-width="0.7" fill="none" />
<path d="M152.9,428 C152.9,429.22 152.63,430.48 152.1,431.66 C151.58,432.85 150.78,434.04 149.76,435.13 C148.74,436.22 147.46,437.27 146.01,438.21 C144.55,439.15 142.86,440.01 141.05,440.74 C139.25,441.48 137.24,442.11 135.19,442.6 C133.13,443.1 130.92,443.47 128.72,443.7 C126.52,443.94 124.23,444.03 122,444 C119.77,443.97 117.51,443.79 115.37,443.49 C113.23,443.2 111.11,442.76 109.15,442.23 C107.2,441.69 105.32,441.02 103.65,440.28 C101.97,439.53 100.42,438.66 99.1,437.74 C97.77,436.82 96.62,435.8 95.7,434.75 C94.79,433.71 94.07,432.58 93.61,431.46 C93.14,430.33 92.9,429.15 92.9,428 C92.9,426.85 93.14,425.67 93.61,424.54 C94.07,423.42 94.79,422.29 95.7,421.25 C96.62,420.2 97.77,419.18 99.1,418.26 C100.42,417.34 101.97,416.47 103.65,415.72 C105.32,414.98 107.2,414.31 109.15,413.77 C111.11,413.24 113.23,412.8 115.37,412.51 C117.51,412.21 119.77,412.03 122,412 C124.23,411.97 126.52,412.06 128.72,412.3 C130.92,412.53 133.13,412.9 135.19,413.4 C137.24,413.89 139.25,414.52 141.05,415.26 C142.86,415.99 144.55,416.85 146.01,417.79 C147.46,418.73 148.74,419.78 149.76,420.87 C150.78,421.96 151.58,423.15 152.1,424.34 C152.63,425.52 152.9,426.78 152.9,428 Z" stroke="#333" stroke-width="0.7" fill="none" />
<path d="M158.56,428 C158.56,429.3 158.24,430.63 157.62,431.89 C157,433.16 156.05,434.42 154.85,435.58 C153.65,436.73 152.12,437.85 150.41,438.85 C148.69,439.84 146.68,440.76 144.55,441.54 C142.41,442.32 140.04,442.99 137.6,443.52 C135.17,444.04 132.55,444.44 129.95,444.68 C127.35,444.93 124.63,445.04 122,445 C119.37,444.96 116.69,444.78 114.15,444.46 C111.62,444.15 109.11,443.69 106.8,443.12 C104.49,442.55 102.26,441.84 100.28,441.04 C98.3,440.25 96.46,439.33 94.9,438.35 C93.33,437.37 91.96,436.29 90.88,435.18 C89.8,434.06 88.95,432.87 88.4,431.67 C87.85,430.48 87.56,429.22 87.56,428 C87.56,426.78 87.85,425.52 88.4,424.33 C88.95,423.13 89.8,421.94 90.88,420.82 C91.96,419.71 93.33,418.63 94.9,417.65 C96.46,416.67 98.3,415.75 100.28,414.96 C102.26,414.16 104.49,413.45 106.8,412.88 C109.11,412.31 111.62,411.85 114.15,411.54 C116.69,411.22 119.37,411.04 122,411 C124.63,410.96 127.35,411.07 129.95,411.32 C132.55,411.56 135.17,411.96 137.6,412.48 C140.04,413.01 142.41,413.68 144.55,414.46 C146.68,415.24 148.69,416.16 150.41,417.15 C152.12,418.15 153.65,419.27 154.85,420.42 C156.05,421.58 157,422.84 157.62,424.11 C158.24,425.37 158.56,426.7 158.56,428 Z" stroke="#333" stroke-width="0.7" fill="none" />
<path d="M131.38,426.8 C131.37,426.94 131.34,427.09 131.29,427.23 C131.24,427.37 131.17,427.5 131.09,427.62 C131.01,427.74 130.91,427.85 130.8,427.95 C130.7,428.05 130.58,428.14 130.46,428.22 C130.33,428.3 130.2,428.37 130.07,428.42 C129.93,428.48 129.79,428.53 129.65,428.56 C129.5,428.6 129.35,428.62 129.2,428.62 C129.05,428.62 128.89,428.61 128.75,428.58 C128.6,428.55 128.46,428.49 128.33,428.43 C128.2,428.36 128.08,428.28 127.97,428.18 C127.87,428.09 127.78,427.98 127.71,427.87 C127.63,427.76 127.57,427.64 127.53,427.53 C127.48,427.41 127.45,427.29 127.42,427.17 C127.4,427.04 127.38,426.92 127.38,426.8 C127.37,426.68 127.37,426.55 127.39,426.43 C127.41,426.3 127.44,426.18 127.49,426.06 C127.53,425.94 127.6,425.81 127.67,425.71 C127.75,425.6 127.85,425.49 127.96,425.4 C128.07,425.32 128.2,425.24 128.33,425.18 C128.47,425.12 128.61,425.08 128.76,425.05 C128.9,425.03 129.05,425.02 129.2,425.02 C129.35,425.02 129.5,425.04 129.64,425.07 C129.78,425.1 129.93,425.13 130.06,425.18 C130.2,425.23 130.34,425.29 130.47,425.37 C130.6,425.44 130.72,425.53 130.83,425.63 C130.95,425.73 131.05,425.84 131.13,425.96 C131.21,426.09 131.28,426.22 131.32,426.36 C131.36,426.5 131.38,426.66 131.38,426.8 Z" stroke="#2a2a2a" stroke-width="0.85" fill="none" />
<path d="M133.13,426.8 C133.12,427.03 133.06,427.27 132.98,427.49 C132.9,427.71 132.77,427.92 132.63,428.11 C132.49,428.3 132.32,428.48 132.14,428.64 C131.95,428.8 131.75,428.94 131.54,429.07 C131.33,429.2 131.11,429.31 130.87,429.4 C130.64,429.49 130.4,429.57 130.15,429.62 C129.9,429.67 129.63,429.71 129.37,429.71 C129.12,429.72 128.85,429.7 128.6,429.64 C128.35,429.59 128.09,429.51 127.87,429.4 C127.65,429.3 127.44,429.16 127.26,429.01 C127.08,428.86 126.93,428.69 126.8,428.51 C126.67,428.34 126.57,428.15 126.49,427.96 C126.41,427.77 126.35,427.58 126.3,427.38 C126.26,427.19 126.23,427 126.23,426.8 C126.22,426.6 126.22,426.4 126.26,426.21 C126.29,426.01 126.34,425.8 126.42,425.61 C126.5,425.42 126.61,425.22 126.74,425.05 C126.88,424.87 127.05,424.7 127.24,424.57 C127.43,424.43 127.65,424.3 127.88,424.21 C128.11,424.12 128.36,424.05 128.61,424.01 C128.86,423.96 129.12,423.95 129.37,423.95 C129.63,423.96 129.88,423.99 130.13,424.03 C130.38,424.07 130.63,424.13 130.87,424.21 C131.1,424.29 131.34,424.39 131.56,424.51 C131.78,424.63 132,424.76 132.19,424.92 C132.38,425.08 132.57,425.26 132.7,425.46 C132.84,425.66 132.96,425.88 133.03,426.1 C133.1,426.33 133.13,426.57 133.13,426.8 Z" stroke="#2a2a2a" stroke-width="0.85" fill="none" />
<path d="M134.88,426.8 C134.87,427.12 134.79,427.45 134.67,427.75 C134.56,428.05 134.38,428.34 134.18,428.6 C133.98,428.87 133.73,429.11 133.47,429.33 C133.21,429.55 132.92,429.74 132.63,429.92 C132.33,430.09 132.01,430.25 131.68,430.37 C131.35,430.5 131,430.61 130.64,430.68 C130.29,430.75 129.91,430.8 129.55,430.81 C129.18,430.81 128.8,430.78 128.44,430.71 C128.09,430.64 127.73,430.53 127.41,430.38 C127.1,430.24 126.8,430.05 126.55,429.84 C126.29,429.64 126.07,429.4 125.89,429.16 C125.71,428.92 125.57,428.65 125.45,428.4 C125.33,428.14 125.25,427.87 125.19,427.6 C125.13,427.34 125.09,427.07 125.08,426.8 C125.07,426.53 125.07,426.26 125.12,425.98 C125.16,425.71 125.23,425.43 125.35,425.17 C125.46,424.9 125.62,424.63 125.81,424.39 C126,424.15 126.25,423.92 126.52,423.73 C126.78,423.53 127.1,423.37 127.43,423.24 C127.75,423.11 128.11,423.02 128.46,422.96 C128.82,422.9 129.19,422.88 129.55,422.89 C129.91,422.89 130.27,422.93 130.62,422.99 C130.98,423.05 131.33,423.13 131.67,423.24 C132.01,423.35 132.34,423.49 132.66,423.65 C132.97,423.81 133.28,424 133.55,424.22 C133.82,424.44 134.08,424.69 134.28,424.96 C134.48,425.23 134.64,425.53 134.74,425.84 C134.84,426.15 134.89,426.48 134.88,426.8 Z" stroke="#2a2a2a" stroke-width="0.85" fill="none" />
<path d="M136.63,426.8 C136.61,427.2 136.51,427.62 136.36,428 C136.21,428.39 135.98,428.76 135.72,429.09 C135.46,429.43 135.14,429.74 134.81,430.02 C134.47,430.3 134.1,430.55 133.71,430.77 C133.32,430.99 132.91,431.19 132.48,431.35 C132.05,431.51 131.6,431.65 131.14,431.74 C130.68,431.83 130.2,431.89 129.72,431.9 C129.25,431.91 128.75,431.87 128.29,431.78 C127.83,431.69 127.37,431.54 126.96,431.36 C126.55,431.17 126.16,430.93 125.83,430.67 C125.5,430.41 125.22,430.11 124.98,429.8 C124.75,429.49 124.56,429.16 124.41,428.83 C124.26,428.5 124.15,428.16 124.07,427.82 C123.99,427.49 123.94,427.14 123.93,426.8 C123.91,426.46 123.92,426.11 123.98,425.76 C124.04,425.41 124.13,425.06 124.28,424.72 C124.43,424.38 124.63,424.04 124.88,423.73 C125.13,423.43 125.44,423.13 125.79,422.89 C126.14,422.64 126.55,422.43 126.97,422.27 C127.39,422.1 127.86,421.99 128.32,421.91 C128.77,421.84 129.26,421.81 129.72,421.82 C130.19,421.83 130.66,421.87 131.12,421.95 C131.57,422.03 132.03,422.14 132.47,422.28 C132.91,422.42 133.34,422.58 133.75,422.79 C134.16,423 134.56,423.24 134.91,423.51 C135.26,423.79 135.6,424.11 135.85,424.46 C136.11,424.8 136.32,425.19 136.45,425.58 C136.58,425.97 136.64,426.4 136.63,426.8 Z" stroke="#2a2a2a" stroke-width="0.85" fill="none" />
<path d="M138.38,426.8 C138.36,427.29 138.24,427.8 138.05,428.26 C137.87,428.73 137.59,429.18 137.27,429.58 C136.95,429.99 136.55,430.37 136.14,430.71 C135.73,431.05 135.27,431.35 134.8,431.62 C134.32,431.89 133.81,432.13 133.29,432.32 C132.76,432.52 132.21,432.69 131.64,432.8 C131.08,432.91 130.48,432.98 129.9,432.99 C129.31,433 128.7,432.95 128.14,432.84 C127.57,432.73 127,432.56 126.5,432.33 C126,432.11 125.52,431.82 125.12,431.5 C124.71,431.19 124.37,430.81 124.07,430.44 C123.78,430.07 123.56,429.67 123.37,429.27 C123.19,428.87 123.05,428.45 122.96,428.04 C122.86,427.63 122.8,427.22 122.78,426.8 C122.76,426.38 122.77,425.96 122.85,425.54 C122.92,425.12 123.03,424.68 123.21,424.27 C123.4,423.86 123.64,423.45 123.95,423.08 C124.26,422.71 124.64,422.35 125.07,422.05 C125.5,421.75 126,421.49 126.52,421.3 C127.03,421.1 127.61,420.96 128.17,420.86 C128.73,420.77 129.32,420.74 129.9,420.75 C130.47,420.76 131.05,420.82 131.61,420.91 C132.17,421 132.73,421.14 133.27,421.31 C133.81,421.48 134.34,421.68 134.84,421.93 C135.35,422.18 135.84,422.47 136.27,422.81 C136.7,423.15 137.11,423.54 137.43,423.95 C137.74,424.37 138.01,424.84 138.16,425.32 C138.32,425.79 138.4,426.31 138.38,426.8 Z" stroke="#2a2a2a" stroke-width="0.85" fill="none" />
<path d="M140.13,426.8 C140.11,427.38 139.96,427.97 139.74,428.52 C139.52,429.06 139.19,429.6 138.81,430.08 C138.43,430.56 137.97,431 137.48,431.4 C136.99,431.8 136.44,432.15 135.88,432.47 C135.32,432.79 134.71,433.07 134.09,433.3 C133.47,433.53 132.81,433.73 132.14,433.86 C131.47,433.99 130.76,434.08 130.07,434.08 C129.38,434.09 128.66,434.04 127.98,433.91 C127.31,433.78 126.64,433.57 126.04,433.31 C125.45,433.05 124.88,432.7 124.4,432.33 C123.92,431.96 123.51,431.52 123.17,431.09 C122.82,430.65 122.55,430.17 122.33,429.7 C122.11,429.23 121.96,428.75 121.84,428.26 C121.72,427.78 121.65,427.29 121.63,426.8 C121.61,426.31 121.62,425.81 121.71,425.31 C121.79,424.82 121.93,424.31 122.14,423.83 C122.36,423.35 122.65,422.86 123.01,422.42 C123.38,421.98 123.84,421.56 124.35,421.21 C124.85,420.86 125.45,420.56 126.06,420.32 C126.68,420.09 127.35,419.92 128.02,419.82 C128.69,419.71 129.39,419.68 130.07,419.68 C130.75,419.69 131.43,419.76 132.1,419.87 C132.77,419.98 133.43,420.14 134.07,420.34 C134.71,420.54 135.35,420.78 135.94,421.07 C136.53,421.37 137.12,421.71 137.63,422.11 C138.14,422.5 138.63,422.96 139,423.45 C139.37,423.94 139.69,424.5 139.88,425.06 C140.06,425.62 140.15,426.22 140.13,426.8 Z" stroke="#2a2a2a" stroke-width="0.85" fill="none" />
<path d="M141.88,426.8 C141.86,427.46 141.69,428.15 141.44,428.78 C141.18,429.4 140.79,430.02 140.35,430.57 C139.92,431.12 139.38,431.63 138.81,432.09 C138.25,432.55 137.62,432.96 136.97,433.32 C136.31,433.69 135.62,434.01 134.89,434.27 C134.17,434.54 133.41,434.76 132.64,434.91 C131.86,435.07 131.04,435.17 130.24,435.18 C129.44,435.19 128.61,435.13 127.83,434.98 C127.06,434.83 126.28,434.59 125.59,434.29 C124.89,433.98 124.24,433.59 123.69,433.16 C123.14,432.73 122.66,432.23 122.26,431.73 C121.86,431.22 121.55,430.68 121.29,430.14 C121.04,429.59 120.86,429.04 120.72,428.48 C120.59,427.93 120.51,427.36 120.48,426.8 C120.46,426.24 120.47,425.66 120.57,425.09 C120.67,424.52 120.82,423.94 121.07,423.38 C121.33,422.83 121.66,422.26 122.08,421.76 C122.51,421.26 123.03,420.78 123.62,420.37 C124.21,419.97 124.9,419.62 125.61,419.35 C126.32,419.09 127.1,418.89 127.88,418.77 C128.65,418.65 129.46,418.61 130.24,418.62 C131.03,418.63 131.82,418.71 132.59,418.83 C133.37,418.96 134.13,419.14 134.87,419.37 C135.61,419.6 136.35,419.87 137.03,420.21 C137.72,420.55 138.4,420.95 138.99,421.4 C139.58,421.86 140.14,422.38 140.57,422.95 C141.01,423.52 141.37,424.15 141.59,424.8 C141.81,425.44 141.91,426.14 141.88,426.8 Z" stroke="#2a2a2a" stroke-width="0.85" fill="none" />
<path d="M143.63,426.8 C143.6,427.55 143.41,428.32 143.13,429.03 C142.84,429.74 142.4,430.44 141.9,431.06 C141.4,431.68 140.79,432.26 140.15,432.78 C139.51,433.3 138.79,433.76 138.05,434.17 C137.31,434.58 136.52,434.95 135.7,435.25 C134.88,435.55 134.02,435.8 133.14,435.97 C132.26,436.14 131.33,436.26 130.42,436.27 C129.51,436.28 128.56,436.21 127.68,436.04 C126.8,435.88 125.91,435.61 125.13,435.26 C124.34,434.92 123.61,434.47 122.98,433.99 C122.35,433.51 121.8,432.94 121.35,432.37 C120.9,431.8 120.55,431.18 120.25,430.57 C119.96,429.96 119.76,429.33 119.61,428.7 C119.45,428.07 119.36,427.44 119.33,426.8 C119.3,426.16 119.32,425.51 119.44,424.87 C119.55,424.23 119.72,423.56 120.01,422.94 C120.29,422.31 120.67,421.67 121.15,421.11 C121.63,420.54 122.23,419.99 122.9,419.54 C123.57,419.08 124.35,418.68 125.16,418.38 C125.96,418.08 126.85,417.86 127.73,417.72 C128.61,417.58 129.53,417.54 130.42,417.55 C131.31,417.56 132.21,417.65 133.09,417.79 C133.96,417.93 134.83,418.14 135.67,418.4 C136.51,418.66 137.35,418.97 138.13,419.35 C138.91,419.74 139.68,420.18 140.35,420.7 C141.02,421.21 141.66,421.81 142.15,422.45 C142.64,423.09 143.05,423.81 143.3,424.54 C143.55,425.26 143.66,426.05 143.63,426.8 Z" stroke="#2a2a2a" stroke-width="0.85" fill="none" />
<path d="M145.38,426.8 C145.35,427.64 145.14,428.5 144.82,429.29 C144.49,430.08 144,430.85 143.44,431.55 C142.89,432.25 142.2,432.89 141.48,433.47 C140.77,434.05 139.96,434.56 139.13,435.02 C138.3,435.48 137.42,435.89 136.5,436.22 C135.59,436.56 134.62,436.84 133.63,437.03 C132.65,437.22 131.61,437.35 130.59,437.36 C129.57,437.38 128.51,437.3 127.53,437.11 C126.54,436.92 125.55,436.62 124.67,436.24 C123.79,435.86 122.97,435.36 122.26,434.82 C121.56,434.28 120.95,433.65 120.44,433.01 C119.93,432.38 119.54,431.69 119.22,431.01 C118.89,430.32 118.66,429.62 118.49,428.92 C118.32,428.22 118.22,427.51 118.18,426.8 C118.15,426.09 118.17,425.36 118.3,424.65 C118.42,423.93 118.62,423.19 118.94,422.49 C119.26,421.79 119.68,421.08 120.22,420.45 C120.76,419.82 121.43,419.21 122.18,418.7 C122.92,418.19 123.8,417.75 124.7,417.41 C125.6,417.07 126.6,416.83 127.58,416.68 C128.56,416.52 129.59,416.47 130.59,416.48 C131.59,416.5 132.6,416.6 133.58,416.75 C134.56,416.91 135.53,417.14 136.47,417.43 C137.41,417.72 138.35,418.07 139.22,418.49 C140.09,418.92 140.96,419.42 141.71,419.99 C142.46,420.57 143.17,421.23 143.72,421.95 C144.27,422.66 144.73,423.46 145.01,424.27 C145.29,425.08 145.42,425.96 145.38,426.8 Z" stroke="#2a2a2a" stroke-width="0.85" fill="none" />
<path d="M147.13,426.8 C147.1,427.72 146.86,428.68 146.51,429.55 C146.15,430.42 145.6,431.27 144.99,432.04 C144.37,432.81 143.61,433.52 142.82,434.16 C142.02,434.8 141.14,435.37 140.22,435.87 C139.3,436.38 138.32,436.83 137.31,437.2 C136.29,437.57 135.22,437.88 134.13,438.09 C133.04,438.3 131.89,438.44 130.77,438.45 C129.64,438.47 128.47,438.38 127.37,438.18 C126.28,437.97 125.18,437.64 124.21,437.22 C123.24,436.79 122.33,436.24 121.55,435.65 C120.77,435.06 120.1,434.36 119.53,433.66 C118.97,432.95 118.54,432.19 118.18,431.44 C117.82,430.69 117.57,429.91 117.38,429.14 C117.19,428.37 117.07,427.59 117.03,426.8 C117,426.01 117.02,425.22 117.16,424.42 C117.3,423.63 117.51,422.82 117.87,422.05 C118.22,421.27 118.69,420.49 119.29,419.79 C119.88,419.1 120.63,418.42 121.45,417.86 C122.28,417.3 123.25,416.81 124.25,416.44 C125.24,416.07 126.35,415.8 127.43,415.63 C128.52,415.46 129.66,415.4 130.77,415.41 C131.87,415.43 132.99,415.54 134.07,415.71 C135.16,415.89 136.23,416.14 137.27,416.46 C138.31,416.78 139.35,417.16 140.31,417.63 C141.28,418.11 142.24,418.66 143.07,419.29 C143.9,419.93 144.69,420.66 145.3,421.44 C145.91,422.23 146.41,423.12 146.72,424.01 C147.03,424.91 147.17,425.88 147.13,426.8 Z" stroke="#2a2a2a" stroke-width="0.85" fill="none" />
<path d="M148.89,426.8 C148.85,427.81 148.59,428.85 148.2,429.81 C147.81,430.76 147.21,431.69 146.53,432.53 C145.86,433.37 145.03,434.15 144.15,434.85 C143.28,435.55 142.31,436.17 141.3,436.72 C140.3,437.28 139.22,437.77 138.11,438.17 C137,438.58 135.83,438.92 134.63,439.15 C133.44,439.38 132.18,439.53 130.94,439.55 C129.7,439.56 128.42,439.47 127.22,439.24 C126.02,439.02 124.82,438.65 123.76,438.19 C122.69,437.73 121.69,437.13 120.83,436.48 C119.98,435.83 119.24,435.07 118.63,434.3 C118.01,433.53 117.53,432.7 117.14,431.88 C116.74,431.05 116.47,430.2 116.26,429.36 C116.05,428.51 115.92,427.66 115.89,426.8 C115.85,425.94 115.87,425.07 116.03,424.2 C116.18,423.33 116.41,422.44 116.8,421.6 C117.19,420.76 117.7,419.9 118.35,419.14 C119.01,418.37 119.82,417.63 120.73,417.02 C121.64,416.41 122.7,415.87 123.79,415.47 C124.89,415.06 126.1,414.77 127.29,414.58 C128.48,414.39 129.73,414.33 130.94,414.35 C132.15,414.36 133.37,414.49 134.56,414.68 C135.75,414.87 136.93,415.14 138.07,415.49 C139.21,415.84 140.35,416.26 141.41,416.78 C142.47,417.29 143.52,417.89 144.43,418.59 C145.34,419.28 146.2,420.08 146.87,420.94 C147.54,421.8 148.1,422.77 148.43,423.75 C148.77,424.73 148.92,425.79 148.89,426.8 Z" stroke="#2a2a2a" stroke-width="0.85" fill="none" />
<rect x="115.7" y="412" width="3.2" height="33" fill="#111"/>
<path d="M131,444.4 L133,440.6 L145,441 L154,442.4 L158,444.4 Z" stroke="#111" stroke-width="0.5" fill="#111" />
<path d="M177.6,387.4 C177.6,386.8 179,385.6 179.7,385.6 C180.4,385.6 181.8,386.8 181.8,387.4 C181.8,388 180.4,389.2 179.7,389.2 C179,389.2 177.6,388 177.6,387.4 Z" stroke="#222" stroke-width="0.7" fill="none" />
</g>
<rect x="115.7" y="350.6" width="93.7" height="93.8" fill="none" stroke="#777" stroke-width="0.8"/>
<line x1="151.8" y1="350.6" x2="151.8" y2="444.4" stroke="#777" stroke-width="0.6"/>
<line x1="115.7" y1="406.6" x2="209.4" y2="406.6" stroke="#777" stroke-width="0.6"/>
<line x1="114.1" y1="359.98" x2="115.7" y2="359.98" stroke="#444" stroke-width="0.6"/>
<line x1="114.1" y1="369.36" x2="115.7" y2="369.36" stroke="#444" stroke-width="0.6"/>
<line x1="114.1" y1="378.74" x2="115.7" y2="378.74" stroke="#444" stroke-width="0.6"/>
<line x1="114.1" y1="388.12" x2="115.7" y2="388.12" stroke="#444" stroke-width="0.6"/>
<line x1="114.1" y1="397.5" x2="115.7" y2="397.5" stroke="#444" stroke-width="0.6"/>
<line x1="114.1" y1="406.88" x2="115.7" y2="406.88" stroke="#444" stroke-width="0.6"/>
<line x1="114.1" y1="416.26" x2="115.7" y2="416.26" stroke="#444" stroke-width="0.6"/>
<line x1="114.1" y1="425.64" x2="115.7" y2="425.64" stroke="#444" stroke-width="0.6"/>
<line x1="114.1" y1="435.02" x2="115.7" y2="435.02" stroke="#444" stroke-width="0.6"/>
<line x1="125.07" y1="444.4" x2="125.07" y2="446" stroke="#444" stroke-width="0.6"/>
<line x1="134.44" y1="444.4" x2="134.44" y2="446" stroke="#444" stroke-width="0.6"/>
<line x1="143.81" y1="444.4" x2="143.81" y2="446" stroke="#444" stroke-width="0.6"/>
<line x1="153.18" y1="444.4" x2="153.18" y2="446" stroke="#444" stroke-width="0.6"/>
<line x1="162.55" y1="444.4" x2="162.55" y2="446" stroke="#444" stroke-width="0.6"/>
<line x1="171.92" y1="444.4" x2="171.92" y2="446" stroke="#444" stroke-width="0.6"/>
<line x1="181.29" y1="444.4" x2="181.29" y2="446" stroke="#444" stroke-width="0.6"/>
<line x1="190.66" y1="444.4" x2="190.66" y2="446" stroke="#444" stroke-width="0.6"/>
<line x1="200.03" y1="444.4" x2="200.03" y2="446" stroke="#444" stroke-width="0.6"/>
<text x="118" y="359.6" font-size="8.4" text-anchor="start" fill="#000">0.14</text>
<text x="206" y="359.6" font-size="8.4" text-anchor="end" fill="#000">2.71</text>
<rect x="117.1" y="434.38" width="18.4" height="8.23" fill="#fff" stroke="#999" stroke-width="0.4"/>
<text x="118" y="441.6" font-size="8.4" text-anchor="start" fill="#000">95.2</text>
<text x="206" y="441.6" font-size="8.4" text-anchor="end" fill="#000">1.94</text>
<line x1="232.9" y1="366.5" x2="232.9" y2="438.5" stroke="#000" stroke-width="1.5"/>
<line x1="232.1" y1="437.7" x2="338.3" y2="437.7" stroke="#000" stroke-width="1.5"/>
<line x1="230.3" y1="437.7" x2="232.9" y2="437.7" stroke="#000" stroke-width="1.2"/>
<text x="229.7" y="439.7" font-size="5.8" text-anchor="end" fill="#000">0</text>
<line x1="230.3" y1="427.7" x2="232.9" y2="427.7" stroke="#000" stroke-width="1.2"/>
<text x="229.7" y="429.7" font-size="5.8" text-anchor="end" fill="#000">2</text>
<line x1="230.3" y1="417.7" x2="232.9" y2="417.7" stroke="#000" stroke-width="1.2"/>
<text x="229.7" y="419.7" font-size="5.8" text-anchor="end" fill="#000">4</text>
<line x1="230.3" y1="407.7" x2="232.9" y2="407.7" stroke="#000" stroke-width="1.2"/>
<text x="229.7" y="409.7" font-size="5.8" text-anchor="end" fill="#000">6</text>
<line x1="230.3" y1="397.7" x2="232.9" y2="397.7" stroke="#000" stroke-width="1.2"/>
<text x="229.7" y="399.7" font-size="5.8" text-anchor="end" fill="#000">8</text>
<line x1="230.3" y1="387.7" x2="232.9" y2="387.7" stroke="#000" stroke-width="1.2"/>
<text x="229.7" y="389.7" font-size="5.8" text-anchor="end" fill="#000">10</text>
<line x1="230.3" y1="377.7" x2="232.9" y2="377.7" stroke="#000" stroke-width="1.2"/>
<text x="229.7" y="379.7" font-size="5.8" text-anchor="end" fill="#000">12</text>
<line x1="230.3" y1="367.7" x2="232.9" y2="367.7" stroke="#000" stroke-width="1.2"/>
<text x="229.7" y="369.7" font-size="5.8" text-anchor="end" fill="#000">14</text>
<text font-size="5.8" font-weight="bold" text-anchor="middle" transform="translate(221.4,401.8) rotate(-90)">% of Annexin V+ CD4 T cells</text>
<line x1="259.5" y1="372.7" x2="259.5" y2="371.2" stroke="#000" stroke-width="1.1"/>
<line x1="250.4" y1="371.2" x2="268.6" y2="371.2" stroke="#000" stroke-width="1.5"/>
<rect x="241.6" y="372.7" width="35.6" height="65" fill="#fff" stroke="#000" stroke-width="1.4"/>
<line x1="312" y1="411.7" x2="312" y2="404.2" stroke="#000" stroke-width="1.3"/>
<line x1="303" y1="404.2" x2="321" y2="404.2" stroke="#000" stroke-width="1.3"/>
<rect x="293.8" y="411.7" width="36.4" height="26" fill="#000"/>
<line x1="259.6" y1="437.7" x2="259.6" y2="440.1" stroke="#000" stroke-width="1"/>
<line x1="312" y1="437.7" x2="312" y2="440.1" stroke="#000" stroke-width="1"/>
<path d="M261.7,367 L261.7,362.7 L312.7,362.7 L312.7,379.8" stroke="#000" stroke-width="0.9" fill="none" />
<text x="286.8" y="360.8" font-size="7.5" font-weight="bold" letter-spacing="1.2" text-anchor="middle" fill="#000">**</text>
<text x="259.4" y="447.3" font-size="8" text-anchor="middle" fill="#000">mock</text>
<text x="312" y="447.3" font-size="8" text-anchor="middle" fill="#000">17-92</text>
<text x="331.6" y="339.7" font-size="16.5" font-weight="bold" text-anchor="start" fill="#000">H</text>
<line x1="374.1" y1="343.5" x2="374.1" y2="439.2" stroke="#000" stroke-width="1.5"/>
<line x1="373.3" y1="438.4" x2="514.5" y2="438.4" stroke="#000" stroke-width="1.5"/>
<line x1="371.1" y1="438.4" x2="374.1" y2="438.4" stroke="#000" stroke-width="1.4"/>
<text x="370.5" y="440.8" font-size="6.8" font-weight="bold" text-anchor="end" fill="#000">0.0</text>
<line x1="371.1" y1="424.9" x2="374.1" y2="424.9" stroke="#000" stroke-width="1.4"/>
<text x="370.5" y="427.3" font-size="6.8" font-weight="bold" text-anchor="end" fill="#000">2.5</text>
<line x1="371.1" y1="411.4" x2="374.1" y2="411.4" stroke="#000" stroke-width="1.4"/>
<text x="370.5" y="413.8" font-size="6.8" font-weight="bold" text-anchor="end" fill="#000">5.0</text>
<line x1="371.1" y1="397.9" x2="374.1" y2="397.9" stroke="#000" stroke-width="1.4"/>
<text x="370.5" y="400.3" font-size="6.8" font-weight="bold" text-anchor="end" fill="#000">7.5</text>
<line x1="371.1" y1="384.4" x2="374.1" y2="384.4" stroke="#000" stroke-width="1.4"/>
<text x="370.5" y="386.8" font-size="6.8" font-weight="bold" text-anchor="end" fill="#000">10.0</text>
<line x1="371.1" y1="370.9" x2="374.1" y2="370.9" stroke="#000" stroke-width="1.4"/>
<text x="370.5" y="373.3" font-size="6.8" font-weight="bold" text-anchor="end" fill="#000">12.5</text>
<line x1="371.1" y1="357.4" x2="374.1" y2="357.4" stroke="#000" stroke-width="1.4"/>
<text x="370.5" y="359.8" font-size="6.8" font-weight="bold" text-anchor="end" fill="#000">15.0</text>
<line x1="371.1" y1="343.9" x2="374.1" y2="343.9" stroke="#000" stroke-width="1.4"/>
<text x="370.5" y="346.3" font-size="6.8" font-weight="bold" text-anchor="end" fill="#000">17.5</text>
<text font-size="7.8" font-weight="bold" text-anchor="middle" transform="translate(353.2,390) rotate(-90)">% of Annexin V+ CD4 T cells</text>
<line x1="382.4" y1="403.3" x2="382.4" y2="401.14" stroke="#000" stroke-width="1.0"/>
<line x1="379.9" y1="401.14" x2="384.9" y2="401.14" stroke="#000" stroke-width="1.2"/>
<rect x="378.3" y="403.3" width="8.2" height="35.1" fill="#747474" stroke="#000" stroke-width="1.1"/>
<line x1="382.4" y1="438.4" x2="382.4" y2="441" stroke="#000" stroke-width="1.1"/>
<text x="382.9" y="399.54" font-size="8.5" font-weight="bold" letter-spacing="1.0" text-anchor="middle" fill="#000">**</text>
<text font-size="7.3" font-weight="bold" text-anchor="end" transform="translate(384.6,449.2) rotate(-41)">WT-mock</text>
<line x1="397.7" y1="388.18" x2="397.7" y2="386.02" stroke="#000" stroke-width="1.0"/>
<line x1="395.2" y1="386.02" x2="400.2" y2="386.02" stroke="#000" stroke-width="1.2"/>
<rect x="393.6" y="388.18" width="8.2" height="50.22" fill="#747474" stroke="#000" stroke-width="1.1"/>
<line x1="397.7" y1="438.4" x2="397.7" y2="441" stroke="#000" stroke-width="1.1"/>
<text x="398.2" y="384.42" font-size="8.5" font-weight="bold" letter-spacing="1.0" text-anchor="middle" fill="#000"></text>
<text font-size="7.3" font-weight="bold" text-anchor="end" transform="translate(399.9,449.2) rotate(-41)">KO-mock</text>
<line x1="413" y1="420.58" x2="413" y2="416.26" stroke="#000" stroke-width="1.0"/>
<line x1="410.5" y1="416.26" x2="415.5" y2="416.26" stroke="#000" stroke-width="1.2"/>
<rect x="408.9" y="420.58" width="8.2" height="17.82" fill="#747474" stroke="#000" stroke-width="1.1"/>
<line x1="413" y1="438.4" x2="413" y2="441" stroke="#000" stroke-width="1.1"/>
<text x="413.5" y="414.66" font-size="8.5" font-weight="bold" letter-spacing="1.0" text-anchor="middle" fill="#000">***</text>
<text font-size="7.3" font-weight="bold" text-anchor="end" transform="translate(415.2,449.2) rotate(-41)">KO-17-92</text>
<line x1="428.3" y1="413.56" x2="428.3" y2="410.32" stroke="#000" stroke-width="1.0"/>
<line x1="425.8" y1="410.32" x2="430.8" y2="410.32" stroke="#000" stroke-width="1.2"/>
<rect x="424.2" y="413.56" width="8.2" height="24.84" fill="#747474" stroke="#000" stroke-width="1.1"/>
<line x1="428.3" y1="438.4" x2="428.3" y2="441" stroke="#000" stroke-width="1.1"/>
<text x="428.8" y="408.72" font-size="8.5" font-weight="bold" letter-spacing="1.0" text-anchor="middle" fill="#000">***</text>
<text font-size="7.3" font-weight="bold" text-anchor="end" transform="translate(430.5,449.2) rotate(-41)">KO-17</text>
<line x1="443.6" y1="349.3" x2="443.6" y2="344.98" stroke="#000" stroke-width="1.0"/>
<line x1="441.1" y1="344.98" x2="446.1" y2="344.98" stroke="#000" stroke-width="1.2"/>
<rect x="439.5" y="349.3" width="8.2" height="89.1" fill="#747474" stroke="#000" stroke-width="1.1"/>
<line x1="443.6" y1="438.4" x2="443.6" y2="441" stroke="#000" stroke-width="1.1"/>
<text x="444.1" y="343.38" font-size="8.5" font-weight="bold" letter-spacing="1.0" text-anchor="middle" fill="#000">***</text>
<text font-size="7.3" font-weight="bold" text-anchor="end" transform="translate(445.8,449.2) rotate(-41)">KO-18a</text>
<line x1="458.9" y1="371.44" x2="458.9" y2="349.84" stroke="#000" stroke-width="1.0"/>
<line x1="456.4" y1="349.84" x2="461.4" y2="349.84" stroke="#000" stroke-width="1.2"/>
<rect x="454.8" y="371.44" width="8.2" height="66.96" fill="#747474" stroke="#000" stroke-width="1.1"/>
<line x1="458.9" y1="438.4" x2="458.9" y2="441" stroke="#000" stroke-width="1.1"/>
<text x="458.9" y="346.24" font-size="9" text-anchor="middle" fill="#000">ns</text>
<text font-size="7.3" font-weight="bold" text-anchor="end" transform="translate(461.1,449.2) rotate(-41)">KO-19a</text>
<line x1="474.2" y1="417.34" x2="474.2" y2="408.16" stroke="#000" stroke-width="1.0"/>
<line x1="471.7" y1="408.16" x2="476.7" y2="408.16" stroke="#000" stroke-width="1.2"/>
<rect x="470.1" y="417.34" width="8.2" height="21.06" fill="#747474" stroke="#000" stroke-width="1.1"/>
<line x1="474.2" y1="438.4" x2="474.2" y2="441" stroke="#000" stroke-width="1.1"/>
<text x="474.7" y="406.56" font-size="8.5" font-weight="bold" letter-spacing="1.0" text-anchor="middle" fill="#000">**</text>
<text font-size="7.3" font-weight="bold" text-anchor="end" transform="translate(476.4,449.2) rotate(-41)">KO-19b</text>
<line x1="489.5" y1="381.16" x2="489.5" y2="376.3" stroke="#000" stroke-width="1.0"/>
<line x1="487" y1="376.3" x2="492" y2="376.3" stroke="#000" stroke-width="1.2"/>
<rect x="485.4" y="381.16" width="8.2" height="57.24" fill="#747474" stroke="#000" stroke-width="1.1"/>
<line x1="489.5" y1="438.4" x2="489.5" y2="441" stroke="#000" stroke-width="1.1"/>
<text x="489.5" y="372.7" font-size="9" text-anchor="middle" fill="#000">ns</text>
<text font-size="7.3" font-weight="bold" text-anchor="end" transform="translate(491.7,449.2) rotate(-41)">KO-20a</text>
<line x1="504.8" y1="376.3" x2="504.8" y2="355.24" stroke="#000" stroke-width="1.0"/>
<line x1="502.3" y1="355.24" x2="507.3" y2="355.24" stroke="#000" stroke-width="1.2"/>
<rect x="500.7" y="376.3" width="8.2" height="62.1" fill="#747474" stroke="#000" stroke-width="1.1"/>
<line x1="504.8" y1="438.4" x2="504.8" y2="441" stroke="#000" stroke-width="1.1"/>
<text x="504.8" y="351.64" font-size="9" text-anchor="middle" fill="#000">ns</text>
<text font-size="7.3" font-weight="bold" text-anchor="end" transform="translate(507,449.2) rotate(-41)">KO-92a</text>
<text x="4.4" y="483.8" font-size="16" font-weight="bold" text-anchor="start" fill="#000">G</text>
<text x="71.2" y="490" font-size="10.6" text-anchor="middle" fill="#000">WT</text>
<text x="184.4" y="490" font-size="10.6" text-anchor="middle" fill="#000">f/+</text>
<text x="291.6" y="490" font-size="10.6" text-anchor="middle" fill="#000">KO</text>
<line x1="9.6" y1="571" x2="9.6" y2="499" stroke="#000" stroke-width="0.9"/>
<path d="M7.8,501.5 L9.6,495.2 L11.4,501.5 Z" stroke="#000" stroke-width="0.5" fill="#000" />
<text font-size="8.6" text-anchor="middle" transform="translate(12.6,586.5) rotate(-90)">7-AAD</text>
<text x="15" y="616.6" font-size="8.9" text-anchor="start" fill="#000">Annexin-V</text>
<line x1="57" y1="614.5" x2="336" y2="614.5" stroke="#000" stroke-width="0.9"/>
<path d="M333.5,612.3 L339.2,614.5 L333.5,616.7 Z" stroke="#000" stroke-width="0.5" fill="#000" />
<clipPath id="c3"><rect x="19.9" y="496.6" width="105.5" height="104"/></clipPath><g clip-path="url(#c3)">
<rect x="53.99" y="522.44" width="0.9" height="0.9" fill="#333"/><rect x="40.87" y="561.41" width="0.9" height="0.9" fill="#333"/><rect x="51.7" y="529.8" width="0.9" height="0.9" fill="#333"/><rect x="56.73" y="521.35" width="0.9" height="0.9" fill="#333"/><rect x="60.36" y="527.38" width="0.9" height="0.9" fill="#333"/><rect x="42.22" y="551.46" width="0.9" height="0.9" fill="#333"/><rect x="53.79" y="538.32" width="0.9" height="0.9" fill="#333"/><rect x="48.11" y="544.46" width="0.9" height="0.9" fill="#333"/><rect x="59.33" y="527.34" width="0.9" height="0.9" fill="#333"/><rect x="49.64" y="550.4" width="0.9" height="0.9" fill="#333"/><rect x="36.1" y="558.35" width="0.9" height="0.9" fill="#333"/><rect x="42.92" y="561.72" width="0.9" height="0.9" fill="#333"/><rect x="63.37" y="519.73" width="0.9" height="0.9" fill="#333"/><rect x="34.19" y="562.27" width="0.9" height="0.9" fill="#333"/><rect x="42.99" y="568.65" width="0.9" height="0.9" fill="#333"/><rect x="55.84" y="541.2" width="0.9" height="0.9" fill="#333"/><rect x="48.31" y="539.92" width="0.9" height="0.9" fill="#333"/><rect x="42.9" y="548.91" width="0.9" height="0.9" fill="#333"/><rect x="58.01" y="519.36" width="0.9" height="0.9" fill="#333"/><rect x="36.93" y="566.01" width="0.9" height="0.9" fill="#333"/><rect x="43.3" y="537.85" width="0.9" height="0.9" fill="#333"/><rect x="56.19" y="523.56" width="0.9" height="0.9" fill="#333"/><rect x="56.39" y="538.72" width="0.9" height="0.9" fill="#333"/><rect x="51.31" y="540.81" width="0.9" height="0.9" fill="#333"/><rect x="52.97" y="551.86" width="0.9" height="0.9" fill="#333"/><rect x="59.59" y="524.27" width="0.9" height="0.9" fill="#333"/><rect x="56.71" y="527.86" width="0.9" height="0.9" fill="#333"/><rect x="39.54" y="553.85" width="0.9" height="0.9" fill="#333"/><rect x="44.51" y="564.29" width="0.9" height="0.9" fill="#333"/><rect x="43.95" y="550.47" width="0.9" height="0.9" fill="#333"/><rect x="57" y="539.41" width="0.9" height="0.9" fill="#333"/><rect x="54.21" y="537.35" width="0.9" height="0.9" fill="#333"/><rect x="34.94" y="574.97" width="0.9" height="0.9" fill="#333"/><rect x="50.25" y="538.17" width="0.9" height="0.9" fill="#333"/><rect x="46.38" y="543.56" width="0.9" height="0.9" fill="#333"/><rect x="38.99" y="534.97" width="0.9" height="0.9" fill="#333"/><rect x="49.52" y="542.26" width="0.9" height="0.9" fill="#333"/><rect x="41.43" y="558.35" width="0.9" height="0.9" fill="#333"/><rect x="42.4" y="567.43" width="0.9" height="0.9" fill="#333"/><rect x="51.53" y="524.72" width="0.9" height="0.9" fill="#333"/><rect x="46.23" y="565.26" width="0.9" height="0.9" fill="#333"/><rect x="44.45" y="548.87" width="0.9" height="0.9" fill="#333"/><rect x="41.42" y="561.67" width="0.9" height="0.9" fill="#333"/><rect x="55.86" y="524.05" width="0.9" height="0.9" fill="#333"/><rect x="47.29" y="547.78" width="0.9" height="0.9" fill="#333"/><rect x="49.69" y="521.3" width="0.9" height="0.9" fill="#333"/><rect x="45.79" y="545.15" width="0.9" height="0.9" fill="#333"/><rect x="46.09" y="562.05" width="0.9" height="0.9" fill="#333"/><rect x="51.32" y="548.48" width="0.9" height="0.9" fill="#333"/><rect x="36.32" y="547.18" width="0.9" height="0.9" fill="#333"/><rect x="52.42" y="543.78" width="0.9" height="0.9" fill="#333"/><rect x="46.32" y="546.71" width="0.9" height="0.9" fill="#333"/><rect x="48.39" y="549.92" width="0.9" height="0.9" fill="#333"/><rect x="56.68" y="533.67" width="0.9" height="0.9" fill="#333"/><rect x="42.6" y="553.4" width="0.9" height="0.9" fill="#333"/><rect x="47.15" y="545.81" width="0.9" height="0.9" fill="#333"/><rect x="44.73" y="570.03" width="0.9" height="0.9" fill="#333"/><rect x="46.07" y="554.13" width="0.9" height="0.9" fill="#333"/><rect x="44.45" y="555.62" width="0.9" height="0.9" fill="#333"/><rect x="52.16" y="539.05" width="0.9" height="0.9" fill="#333"/><rect x="57.27" y="536.91" width="0.9" height="0.9" fill="#333"/><rect x="60.75" y="532.41" width="0.9" height="0.9" fill="#333"/><rect x="58.46" y="526.75" width="0.9" height="0.9" fill="#333"/><rect x="45.32" y="547.29" width="0.9" height="0.9" fill="#333"/><rect x="63.24" y="533.42" width="0.9" height="0.9" fill="#333"/><rect x="50.32" y="548.89" width="0.9" height="0.9" fill="#333"/><rect x="39.81" y="558.38" width="0.9" height="0.9" fill="#333"/><rect x="55.71" y="524.06" width="0.9" height="0.9" fill="#333"/><rect x="41.2" y="554.4" width="0.9" height="0.9" fill="#333"/><rect x="62.1" y="530.93" width="0.9" height="0.9" fill="#333"/><rect x="49.65" y="549.75" width="0.9" height="0.9" fill="#333"/><rect x="43.8" y="545.3" width="0.9" height="0.9" fill="#333"/><rect x="43.64" y="554.39" width="0.9" height="0.9" fill="#333"/><rect x="43.99" y="556.43" width="0.9" height="0.9" fill="#333"/><rect x="42.7" y="550.91" width="0.9" height="0.9" fill="#333"/><rect x="38" y="567.31" width="0.9" height="0.9" fill="#333"/><rect x="39.87" y="558.4" width="0.9" height="0.9" fill="#333"/><rect x="53.33" y="545.07" width="0.9" height="0.9" fill="#333"/><rect x="60.18" y="525.23" width="0.9" height="0.9" fill="#333"/><rect x="50.41" y="556" width="0.9" height="0.9" fill="#333"/><rect x="50.9" y="540.51" width="0.9" height="0.9" fill="#333"/><rect x="52.37" y="534.22" width="0.9" height="0.9" fill="#333"/><rect x="54.33" y="533.34" width="0.9" height="0.9" fill="#333"/><rect x="48.86" y="565.34" width="0.9" height="0.9" fill="#333"/><rect x="54.89" y="532.61" width="0.9" height="0.9" fill="#333"/><rect x="39.98" y="568.09" width="0.9" height="0.9" fill="#333"/><rect x="43.95" y="554.42" width="0.9" height="0.9" fill="#333"/><rect x="43.31" y="551.23" width="0.9" height="0.9" fill="#333"/><rect x="51.66" y="526.09" width="0.9" height="0.9" fill="#333"/><rect x="37.81" y="558.37" width="0.9" height="0.9" fill="#333"/><rect x="53.89" y="551.54" width="0.9" height="0.9" fill="#333"/><rect x="55.9" y="533.04" width="0.9" height="0.9" fill="#333"/><rect x="57.03" y="527.44" width="0.9" height="0.9" fill="#333"/><rect x="49.11" y="561.09" width="0.9" height="0.9" fill="#333"/><rect x="48.6" y="554.31" width="0.9" height="0.9" fill="#333"/><rect x="38.19" y="559.64" width="0.9" height="0.9" fill="#333"/><rect x="57.11" y="530.16" width="0.9" height="0.9" fill="#333"/><rect x="43.87" y="561.95" width="0.9" height="0.9" fill="#333"/><rect x="57.41" y="518.34" width="0.9" height="0.9" fill="#333"/><rect x="54.27" y="526.05" width="0.9" height="0.9" fill="#333"/><rect x="37.43" y="560.84" width="0.9" height="0.9" fill="#333"/><rect x="51.81" y="543.05" width="0.9" height="0.9" fill="#333"/><rect x="62.13" y="534.28" width="0.9" height="0.9" fill="#333"/><rect x="56.52" y="535.75" width="0.9" height="0.9" fill="#333"/><rect x="57.4" y="518.95" width="0.9" height="0.9" fill="#333"/><rect x="47.22" y="557.51" width="0.9" height="0.9" fill="#333"/><rect x="48.52" y="552.07" width="0.9" height="0.9" fill="#333"/><rect x="39.16" y="555.24" width="0.9" height="0.9" fill="#333"/><rect x="43.52" y="561.66" width="0.9" height="0.9" fill="#333"/><rect x="51.83" y="545.55" width="0.9" height="0.9" fill="#333"/><rect x="46.47" y="552.24" width="0.9" height="0.9" fill="#333"/><rect x="47.2" y="548.32" width="0.9" height="0.9" fill="#333"/><rect x="50.88" y="539.78" width="0.9" height="0.9" fill="#333"/><rect x="49.75" y="534.18" width="0.9" height="0.9" fill="#333"/><rect x="56.95" y="530.5" width="0.9" height="0.9" fill="#333"/><rect x="42.67" y="556.44" width="0.9" height="0.9" fill="#333"/><rect x="38.46" y="567.51" width="0.9" height="0.9" fill="#333"/><rect x="52.44" y="535.94" width="0.9" height="0.9" fill="#333"/><rect x="41.43" y="553.4" width="0.9" height="0.9" fill="#333"/><rect x="42.14" y="560.09" width="0.9" height="0.9" fill="#333"/><rect x="61.37" y="520.15" width="0.9" height="0.9" fill="#333"/><rect x="60.13" y="533.89" width="0.9" height="0.9" fill="#333"/><rect x="35.69" y="562.86" width="0.9" height="0.9" fill="#333"/><rect x="41.58" y="558.67" width="0.9" height="0.9" fill="#333"/><rect x="55.99" y="520.6" width="0.9" height="0.9" fill="#333"/><rect x="58.16" y="521.91" width="0.9" height="0.9" fill="#333"/><rect x="44.09" y="557" width="0.9" height="0.9" fill="#333"/><rect x="58.02" y="528.95" width="0.9" height="0.9" fill="#333"/><rect x="36.76" y="552.81" width="0.9" height="0.9" fill="#333"/><rect x="63.4" y="531.34" width="0.9" height="0.9" fill="#333"/><rect x="57.3" y="525.62" width="0.9" height="0.9" fill="#333"/><rect x="43.66" y="555.78" width="0.9" height="0.9" fill="#333"/><rect x="42.57" y="549.32" width="0.9" height="0.9" fill="#333"/><rect x="57.58" y="530.52" width="0.9" height="0.9" fill="#333"/><rect x="45.77" y="535.87" width="0.9" height="0.9" fill="#333"/><rect x="62.86" y="529.42" width="0.9" height="0.9" fill="#333"/><rect x="46.96" y="544.82" width="0.9" height="0.9" fill="#333"/><rect x="43.24" y="552.93" width="0.9" height="0.9" fill="#333"/><rect x="56.41" y="539.79" width="0.9" height="0.9" fill="#333"/><rect x="61.84" y="523.58" width="0.9" height="0.9" fill="#333"/><rect x="50.54" y="553.6" width="0.9" height="0.9" fill="#333"/><rect x="42.08" y="560.47" width="0.9" height="0.9" fill="#333"/><rect x="53.38" y="532.9" width="0.9" height="0.9" fill="#333"/><rect x="49.06" y="536.71" width="0.9" height="0.9" fill="#333"/><rect x="39.91" y="554.31" width="0.9" height="0.9" fill="#333"/><rect x="59.45" y="528.12" width="0.9" height="0.9" fill="#333"/><rect x="39.58" y="555.84" width="0.9" height="0.9" fill="#333"/><rect x="46.5" y="553.2" width="0.9" height="0.9" fill="#333"/><rect x="34.47" y="555.41" width="0.9" height="0.9" fill="#333"/><rect x="66.9" y="517.24" width="0.9" height="0.9" fill="#333"/><rect x="55.04" y="518.06" width="0.9" height="0.9" fill="#333"/><rect x="36.42" y="559.64" width="0.9" height="0.9" fill="#333"/><rect x="35.32" y="549.4" width="0.9" height="0.9" fill="#333"/><rect x="46.96" y="542.61" width="0.9" height="0.9" fill="#333"/><rect x="46.54" y="551.09" width="0.9" height="0.9" fill="#333"/><rect x="40.1" y="554.74" width="0.9" height="0.9" fill="#333"/><rect x="37.43" y="560.2" width="0.9" height="0.9" fill="#333"/><rect x="47.02" y="543.42" width="0.9" height="0.9" fill="#333"/><rect x="49.46" y="542.82" width="0.9" height="0.9" fill="#333"/><rect x="45.96" y="555.87" width="0.9" height="0.9" fill="#333"/><rect x="42.33" y="559.94" width="0.9" height="0.9" fill="#333"/><rect x="36.69" y="562.57" width="0.9" height="0.9" fill="#333"/><rect x="46.45" y="544.04" width="0.9" height="0.9" fill="#333"/><rect x="55.12" y="544.49" width="0.9" height="0.9" fill="#333"/><rect x="55.44" y="542.56" width="0.9" height="0.9" fill="#333"/><rect x="31.53" y="567.28" width="0.9" height="0.9" fill="#333"/>
<rect x="82.48" y="515.61" width="0.9" height="0.9" fill="#333"/><rect x="70.18" y="522.76" width="0.9" height="0.9" fill="#333"/><rect x="65.73" y="520.08" width="0.9" height="0.9" fill="#333"/><rect x="71.45" y="521.75" width="0.9" height="0.9" fill="#333"/><rect x="97.6" y="525.04" width="0.9" height="0.9" fill="#333"/><rect x="62.36" y="526.69" width="0.9" height="0.9" fill="#333"/><rect x="58.21" y="522.14" width="0.9" height="0.9" fill="#333"/><rect x="71.77" y="518.79" width="0.9" height="0.9" fill="#333"/><rect x="93.51" y="515.1" width="0.9" height="0.9" fill="#333"/><rect x="90.47" y="517.79" width="0.9" height="0.9" fill="#333"/><rect x="66.85" y="519.68" width="0.9" height="0.9" fill="#333"/><rect x="90.38" y="514.57" width="0.9" height="0.9" fill="#333"/><rect x="60.95" y="527.16" width="0.9" height="0.9" fill="#333"/><rect x="101.08" y="518.73" width="0.9" height="0.9" fill="#333"/><rect x="100.93" y="525.53" width="0.9" height="0.9" fill="#333"/><rect x="89.19" y="523.14" width="0.9" height="0.9" fill="#333"/><rect x="81.64" y="517.83" width="0.9" height="0.9" fill="#333"/><rect x="66.23" y="523.32" width="0.9" height="0.9" fill="#333"/><rect x="96.54" y="524.43" width="0.9" height="0.9" fill="#333"/><rect x="70.99" y="519.23" width="0.9" height="0.9" fill="#333"/><rect x="68.98" y="519.9" width="0.9" height="0.9" fill="#333"/><rect x="92.94" y="512.82" width="0.9" height="0.9" fill="#333"/><rect x="59.06" y="525.17" width="0.9" height="0.9" fill="#333"/><rect x="86.02" y="517.05" width="0.9" height="0.9" fill="#333"/><rect x="63.78" y="529.3" width="0.9" height="0.9" fill="#333"/><rect x="86.34" y="523.32" width="0.9" height="0.9" fill="#333"/><rect x="68.48" y="520.02" width="0.9" height="0.9" fill="#333"/><rect x="96.9" y="519.17" width="0.9" height="0.9" fill="#333"/><rect x="87.53" y="521.77" width="0.9" height="0.9" fill="#333"/><rect x="70.94" y="523.03" width="0.9" height="0.9" fill="#333"/><rect x="76.38" y="522.3" width="0.9" height="0.9" fill="#333"/><rect x="84.68" y="521.85" width="0.9" height="0.9" fill="#333"/><rect x="80.83" y="521.62" width="0.9" height="0.9" fill="#333"/><rect x="64.64" y="520.51" width="0.9" height="0.9" fill="#333"/><rect x="68.85" y="522.46" width="0.9" height="0.9" fill="#333"/><rect x="75.94" y="519.73" width="0.9" height="0.9" fill="#333"/><rect x="107.59" y="520.54" width="0.9" height="0.9" fill="#333"/><rect x="97.67" y="516.13" width="0.9" height="0.9" fill="#333"/><rect x="85.2" y="518.53" width="0.9" height="0.9" fill="#333"/><rect x="73.94" y="515.6" width="0.9" height="0.9" fill="#333"/><rect x="99.6" y="517.09" width="0.9" height="0.9" fill="#333"/><rect x="92.86" y="516.33" width="0.9" height="0.9" fill="#333"/><rect x="80.36" y="523.1" width="0.9" height="0.9" fill="#333"/><rect x="77.77" y="521.97" width="0.9" height="0.9" fill="#333"/><rect x="75.82" y="524.64" width="0.9" height="0.9" fill="#333"/><rect x="75.19" y="522.47" width="0.9" height="0.9" fill="#333"/><rect x="94.24" y="521.17" width="0.9" height="0.9" fill="#333"/><rect x="83.89" y="523.29" width="0.9" height="0.9" fill="#333"/><rect x="61.51" y="526.14" width="0.9" height="0.9" fill="#333"/><rect x="83.71" y="518.03" width="0.9" height="0.9" fill="#333"/><rect x="78.61" y="519.99" width="0.9" height="0.9" fill="#333"/><rect x="65.07" y="527.39" width="0.9" height="0.9" fill="#333"/><rect x="99.24" y="524.33" width="0.9" height="0.9" fill="#333"/><rect x="79.28" y="520.87" width="0.9" height="0.9" fill="#333"/><rect x="83.13" y="519.95" width="0.9" height="0.9" fill="#333"/><rect x="72.96" y="522.82" width="0.9" height="0.9" fill="#333"/><rect x="70.65" y="520.12" width="0.9" height="0.9" fill="#333"/>
<rect x="104.8" y="540.22" width="0.9" height="0.9" fill="#444"/><rect x="102.36" y="549.61" width="0.9" height="0.9" fill="#444"/><rect x="107.51" y="546.1" width="0.9" height="0.9" fill="#444"/><rect x="105.79" y="520.39" width="0.9" height="0.9" fill="#444"/><rect x="104.82" y="535.93" width="0.9" height="0.9" fill="#444"/><rect x="106.59" y="537.71" width="0.9" height="0.9" fill="#444"/><rect x="104.18" y="555.68" width="0.9" height="0.9" fill="#444"/><rect x="101.74" y="545.07" width="0.9" height="0.9" fill="#444"/><rect x="103.01" y="546.16" width="0.9" height="0.9" fill="#444"/><rect x="107.59" y="537.99" width="0.9" height="0.9" fill="#444"/><rect x="103.07" y="531.89" width="0.9" height="0.9" fill="#444"/><rect x="99.92" y="522.18" width="0.9" height="0.9" fill="#444"/><rect x="105.01" y="535.05" width="0.9" height="0.9" fill="#444"/><rect x="103.69" y="526.82" width="0.9" height="0.9" fill="#444"/><rect x="100.24" y="551.33" width="0.9" height="0.9" fill="#444"/><rect x="101.15" y="547.11" width="0.9" height="0.9" fill="#444"/><rect x="102.33" y="526.86" width="0.9" height="0.9" fill="#444"/><rect x="101.67" y="553.19" width="0.9" height="0.9" fill="#444"/><rect x="101.23" y="555.53" width="0.9" height="0.9" fill="#444"/><rect x="105.04" y="539.72" width="0.9" height="0.9" fill="#444"/><rect x="99.22" y="524.5" width="0.9" height="0.9" fill="#444"/><rect x="97.67" y="555.21" width="0.9" height="0.9" fill="#444"/><rect x="103.6" y="529.55" width="0.9" height="0.9" fill="#444"/><rect x="104.25" y="525.23" width="0.9" height="0.9" fill="#444"/><rect x="101.76" y="538.96" width="0.9" height="0.9" fill="#444"/><rect x="102.42" y="554.9" width="0.9" height="0.9" fill="#444"/><rect x="103.03" y="522.48" width="0.9" height="0.9" fill="#444"/><rect x="108.67" y="529.68" width="0.9" height="0.9" fill="#444"/><rect x="107.06" y="530.92" width="0.9" height="0.9" fill="#444"/><rect x="100.54" y="548.38" width="0.9" height="0.9" fill="#444"/><rect x="100.65" y="544.08" width="0.9" height="0.9" fill="#444"/><rect x="103.43" y="525.9" width="0.9" height="0.9" fill="#444"/><rect x="100.72" y="524.26" width="0.9" height="0.9" fill="#444"/><rect x="107.51" y="551.53" width="0.9" height="0.9" fill="#444"/><rect x="103.52" y="533.06" width="0.9" height="0.9" fill="#444"/><rect x="103.79" y="539.44" width="0.9" height="0.9" fill="#444"/>
<rect x="87.33" y="585.09" width="0.84" height="0.84" fill="#555"/><rect x="88.14" y="566.01" width="0.84" height="0.84" fill="#555"/><rect x="82.23" y="566.57" width="0.84" height="0.84" fill="#555"/><rect x="78.99" y="584.11" width="0.84" height="0.84" fill="#555"/><rect x="80.19" y="587.62" width="0.84" height="0.84" fill="#555"/><rect x="85.94" y="568.11" width="0.84" height="0.84" fill="#555"/><rect x="93.46" y="561.09" width="0.84" height="0.84" fill="#555"/><rect x="85.52" y="578.87" width="0.84" height="0.84" fill="#555"/><rect x="107.34" y="594.77" width="0.84" height="0.84" fill="#555"/><rect x="79.91" y="572.34" width="0.84" height="0.84" fill="#555"/><rect x="79.38" y="573.08" width="0.84" height="0.84" fill="#555"/><rect x="91.66" y="574.72" width="0.84" height="0.84" fill="#555"/><rect x="94.11" y="591.67" width="0.84" height="0.84" fill="#555"/><rect x="83.97" y="568.12" width="0.84" height="0.84" fill="#555"/><rect x="73.87" y="572.32" width="0.84" height="0.84" fill="#555"/><rect x="85.85" y="582.22" width="0.84" height="0.84" fill="#555"/><rect x="76.4" y="574.61" width="0.84" height="0.84" fill="#555"/><rect x="88.8" y="589.67" width="0.84" height="0.84" fill="#555"/><rect x="79.57" y="567.93" width="0.84" height="0.84" fill="#555"/><rect x="75.23" y="579.75" width="0.84" height="0.84" fill="#555"/><rect x="90.75" y="596.1" width="0.84" height="0.84" fill="#555"/>
<rect x="41.75" y="551.22" width="0.84" height="0.84" fill="#444"/><rect x="29.02" y="548.24" width="0.84" height="0.84" fill="#444"/><rect x="31.66" y="560.21" width="0.84" height="0.84" fill="#444"/><rect x="31.2" y="555.58" width="0.84" height="0.84" fill="#444"/><rect x="23.44" y="554.13" width="0.84" height="0.84" fill="#444"/><rect x="24.24" y="551.94" width="0.84" height="0.84" fill="#444"/><rect x="38.72" y="555.39" width="0.84" height="0.84" fill="#444"/><rect x="25.28" y="546.36" width="0.84" height="0.84" fill="#444"/><rect x="20.82" y="550.88" width="0.84" height="0.84" fill="#444"/><rect x="41.72" y="552.78" width="0.84" height="0.84" fill="#444"/><rect x="28.36" y="546.67" width="0.84" height="0.84" fill="#444"/><rect x="26.98" y="562.16" width="0.84" height="0.84" fill="#444"/><rect x="35.43" y="553.24" width="0.84" height="0.84" fill="#444"/><rect x="24.95" y="560" width="0.84" height="0.84" fill="#444"/><rect x="42.95" y="577" width="0.84" height="0.84" fill="#444"/><rect x="37.79" y="554.94" width="0.84" height="0.84" fill="#444"/><rect x="33.7" y="551.84" width="0.84" height="0.84" fill="#444"/><rect x="25.1" y="549.59" width="0.84" height="0.84" fill="#444"/><rect x="29.81" y="559.89" width="0.84" height="0.84" fill="#444"/><rect x="38.19" y="564.85" width="0.84" height="0.84" fill="#444"/><rect x="32.36" y="537.48" width="0.84" height="0.84" fill="#444"/><rect x="38.37" y="558.35" width="0.84" height="0.84" fill="#444"/><rect x="25.68" y="564.88" width="0.84" height="0.84" fill="#444"/><rect x="24.6" y="552.47" width="0.84" height="0.84" fill="#444"/><rect x="29.84" y="554.52" width="0.84" height="0.84" fill="#444"/>
<path d="M15,573.6 C17.5,573.57 25.17,573.58 30,573.4 C34.83,573.22 40.58,574.4 44,572.5 C47.42,570.6 48.67,565.33 50.5,562 C52.33,558.67 54.08,555.75 55,552.5 C55.92,549.25 54.75,545.42 56,542.5 C57.25,539.58 59.75,537.3 62.5,535 C65.25,532.7 69.17,530.37 72.5,528.7 C75.83,527.03 79.17,525.83 82.5,525 C85.83,524.17 89.58,523.08 92.5,523.7 C95.42,524.32 98.33,526.4 100,528.7 C101.67,531 102.5,533.95 102.5,537.5 C102.5,541.05 101.67,546.25 100,550 C98.33,553.75 95.42,557.5 92.5,560 C89.58,562.5 85,563.75 82.5,565 C80,566.25 78.97,566.25 77.5,567.5 C76.03,568.75 74.53,570 73.7,572.5 C72.87,575 72.5,579.17 72.5,582.5 C72.5,585.83 73.28,589.58 73.7,592.5 C74.12,595.42 74.62,597.75 75,600 C75.38,602.25 75.83,605 76,606" stroke="#222" stroke-width="0.8" fill="none" />
<path d="M63.7,545 C64.95,542.28 69.37,538.5 72.5,536.2 C75.63,533.9 79.17,532.03 82.5,531.2 C85.83,530.37 89.8,530.15 92.5,531.2 C95.2,532.25 97.67,534.78 98.7,537.5 C99.73,540.22 99.73,544.38 98.7,547.5 C97.67,550.62 95.2,554.33 92.5,556.2 C89.8,558.07 85.83,558.7 82.5,558.7 C79.17,558.7 75.42,557.23 72.5,556.2 C69.58,555.17 66.47,554.37 65,552.5 C63.53,550.63 62.45,547.72 63.7,545 Z" stroke="#222" stroke-width="0.8" fill="none" />
<path d="M75,542.5 C76.25,540.42 79.8,537.25 82.5,536.2 C85.2,535.15 89.12,535.37 91.2,536.2 C93.28,537.03 94.58,539.32 95,541.2 C95.42,543.08 94.95,545.62 93.7,547.5 C92.45,549.38 89.78,551.67 87.5,552.5 C85.22,553.33 82.08,553.13 80,552.5 C77.92,551.87 75.83,550.37 75,548.7 C74.17,547.03 73.75,544.58 75,542.5 Z" stroke="#222" stroke-width="0.8" fill="none" />
<path d="M91.25,540.4 C91.62,541.04 91.89,541.81 91.99,542.54 C92.1,543.26 92.06,544.07 91.88,544.77 C91.7,545.48 91.37,546.19 90.94,546.77 C90.51,547.34 89.92,547.87 89.3,548.22 C88.68,548.58 87.94,548.83 87.22,548.91 C86.51,549 85.72,548.93 85.02,548.73 C84.32,548.53 83.61,548.16 83.03,547.71 C82.45,547.25 81.92,546.64 81.55,546 C81.18,545.36 80.91,544.59 80.81,543.86 C80.7,543.14 80.74,542.33 80.92,541.63 C81.1,540.92 81.43,540.21 81.86,539.63 C82.29,539.06 82.88,538.53 83.5,538.18 C84.12,537.82 84.86,537.57 85.58,537.49 C86.29,537.4 87.08,537.47 87.78,537.67 C88.48,537.87 89.19,538.24 89.77,538.69 C90.35,539.15 90.88,539.76 91.25,540.4 Z" stroke="#222" stroke-width="0.8" fill="none" />
<path d="M24.67,589.5 C24.67,589.74 24.61,589.98 24.5,590.21 C24.39,590.44 24.21,590.67 24,590.87 C23.79,591.07 23.51,591.26 23.22,591.42 C22.92,591.58 22.57,591.71 22.22,591.82 C21.86,591.92 21.47,592 21.08,592.05 C20.7,592.1 20.29,592.11 19.9,592.1 C19.51,592.09 19.12,592.04 18.75,591.97 C18.39,591.9 18.03,591.8 17.72,591.68 C17.4,591.57 17.11,591.42 16.85,591.26 C16.6,591.1 16.38,590.92 16.21,590.73 C16.03,590.54 15.89,590.34 15.81,590.13 C15.72,589.93 15.67,589.71 15.67,589.5 C15.67,589.29 15.72,589.07 15.81,588.87 C15.89,588.66 16.03,588.46 16.21,588.27 C16.38,588.08 16.6,587.9 16.85,587.74 C17.11,587.58 17.4,587.43 17.72,587.32 C18.03,587.2 18.39,587.1 18.75,587.03 C19.12,586.96 19.51,586.91 19.9,586.9 C20.29,586.89 20.7,586.9 21.08,586.95 C21.47,587 21.86,587.08 22.22,587.18 C22.57,587.29 22.92,587.42 23.22,587.58 C23.51,587.74 23.79,587.93 24,588.13 C24.21,588.33 24.39,588.56 24.5,588.79 C24.61,589.02 24.67,589.26 24.67,589.5 Z" stroke="#444" stroke-width="0.6" fill="none" />
<path d="M29.55,589.5 C29.55,589.88 29.43,590.27 29.2,590.64 C28.97,591 28.62,591.36 28.19,591.68 C27.76,592 27.21,592.31 26.61,592.56 C26.01,592.81 25.31,593.03 24.59,593.2 C23.87,593.37 23.07,593.5 22.29,593.57 C21.51,593.65 20.69,593.67 19.9,593.65 C19.11,593.63 18.32,593.56 17.58,593.45 C16.85,593.34 16.13,593.18 15.49,592.99 C14.85,592.8 14.25,592.56 13.74,592.31 C13.23,592.06 12.78,591.77 12.43,591.47 C12.08,591.17 11.8,590.84 11.62,590.51 C11.44,590.18 11.35,589.84 11.35,589.5 C11.35,589.16 11.44,588.82 11.62,588.49 C11.8,588.16 12.08,587.83 12.43,587.53 C12.78,587.23 13.23,586.94 13.74,586.69 C14.25,586.44 14.85,586.2 15.49,586.01 C16.13,585.82 16.85,585.66 17.58,585.55 C18.32,585.44 19.11,585.37 19.9,585.35 C20.69,585.33 21.51,585.35 22.29,585.43 C23.07,585.5 23.87,585.63 24.59,585.8 C25.31,585.97 26.01,586.19 26.61,586.44 C27.21,586.69 27.76,587 28.19,587.32 C28.62,587.64 28.97,588 29.2,588.36 C29.43,588.73 29.55,589.12 29.55,589.5 Z" stroke="#444" stroke-width="0.6" fill="none" />
<path d="M34.42,589.5 C34.42,590.02 34.24,590.56 33.9,591.06 C33.56,591.56 33.03,592.06 32.38,592.5 C31.73,592.94 30.9,593.35 30,593.7 C29.09,594.05 28.04,594.35 26.96,594.58 C25.87,594.82 24.68,594.99 23.5,595.09 C22.32,595.19 21.08,595.23 19.9,595.2 C18.72,595.17 17.52,595.07 16.41,594.92 C15.3,594.77 14.22,594.55 13.26,594.29 C12.29,594.03 11.39,593.71 10.62,593.36 C9.86,593.01 9.18,592.61 8.65,592.2 C8.12,591.79 7.71,591.34 7.43,590.89 C7.16,590.44 7.02,589.96 7.02,589.5 C7.02,589.04 7.16,588.56 7.43,588.11 C7.71,587.66 8.12,587.21 8.65,586.8 C9.18,586.39 9.86,585.99 10.62,585.64 C11.39,585.29 12.29,584.97 13.26,584.71 C14.22,584.45 15.3,584.23 16.41,584.08 C17.52,583.93 18.72,583.83 19.9,583.8 C21.08,583.77 22.32,583.81 23.5,583.91 C24.68,584.01 25.87,584.18 26.96,584.42 C28.04,584.65 29.09,584.95 30,585.3 C30.9,585.65 31.73,586.06 32.38,586.5 C33.03,586.94 33.56,587.44 33.9,587.94 C34.24,588.44 34.42,588.98 34.42,589.5 Z" stroke="#444" stroke-width="0.6" fill="none" />
<path d="M39.3,589.5 C39.3,590.16 39.06,590.85 38.6,591.49 C38.15,592.12 37.44,592.75 36.57,593.31 C35.7,593.87 34.6,594.4 33.39,594.84 C32.18,595.29 30.77,595.67 29.32,595.97 C27.88,596.26 26.28,596.48 24.71,596.61 C23.14,596.74 21.48,596.79 19.9,596.75 C18.32,596.71 16.72,596.59 15.24,596.39 C13.76,596.2 12.31,595.92 11.02,595.59 C9.74,595.26 8.53,594.85 7.51,594.41 C6.48,593.97 5.59,593.46 4.88,592.94 C4.17,592.41 3.61,591.84 3.25,591.27 C2.89,590.69 2.7,590.09 2.7,589.5 C2.7,588.91 2.89,588.31 3.25,587.73 C3.61,587.16 4.17,586.59 4.88,586.06 C5.59,585.54 6.48,585.03 7.51,584.59 C8.53,584.15 9.74,583.74 11.02,583.41 C12.31,583.08 13.76,582.8 15.24,582.61 C16.72,582.41 18.32,582.29 19.9,582.25 C21.48,582.21 23.14,582.26 24.71,582.39 C26.28,582.52 27.88,582.74 29.32,583.03 C30.77,583.33 32.18,583.71 33.39,584.16 C34.6,584.6 35.7,585.13 36.57,585.69 C37.44,586.25 38.15,586.88 38.6,587.51 C39.06,588.15 39.3,588.84 39.3,589.5 Z" stroke="#444" stroke-width="0.6" fill="none" />
<path d="M44.17,589.5 C44.17,590.3 43.87,591.14 43.3,591.91 C42.73,592.68 41.85,593.45 40.76,594.13 C39.68,594.81 38.29,595.45 36.78,595.99 C35.27,596.52 33.5,596.99 31.69,597.35 C29.88,597.71 27.88,597.97 25.92,598.13 C23.95,598.29 21.88,598.34 19.9,598.3 C17.92,598.26 15.92,598.1 14.07,597.87 C12.21,597.63 10.41,597.29 8.79,596.89 C7.18,596.49 5.68,596 4.39,595.46 C3.11,594.92 1.99,594.31 1.1,593.67 C0.21,593.04 -0.48,592.34 -0.94,591.65 C-1.39,590.95 -1.63,590.22 -1.63,589.5 C-1.63,588.78 -1.39,588.05 -0.94,587.35 C-0.48,586.66 0.21,585.96 1.1,585.33 C1.99,584.69 3.11,584.08 4.39,583.54 C5.68,583 7.18,582.51 8.79,582.11 C10.41,581.71 12.21,581.37 14.07,581.13 C15.92,580.9 17.92,580.74 19.9,580.7 C21.88,580.66 23.95,580.71 25.92,580.87 C27.88,581.03 29.88,581.29 31.69,581.65 C33.5,582.01 35.27,582.48 36.78,583.01 C38.29,583.55 39.68,584.19 40.76,584.87 C41.85,585.55 42.73,586.32 43.3,587.09 C43.87,587.86 44.17,588.7 44.17,589.5 Z" stroke="#444" stroke-width="0.6" fill="none" />
<path d="M49.05,589.5 C49.05,590.44 48.69,591.43 48,592.33 C47.32,593.24 46.26,594.14 44.95,594.94 C43.65,595.74 41.99,596.5 40.17,597.13 C38.36,597.76 36.24,598.31 34.06,598.73 C31.89,599.15 29.49,599.47 27.13,599.65 C24.77,599.84 22.27,599.9 19.9,599.85 C17.53,599.8 15.12,599.62 12.89,599.34 C10.67,599.07 8.5,598.67 6.56,598.19 C4.63,597.72 2.82,597.14 1.28,596.51 C-0.26,595.88 -1.61,595.15 -2.68,594.41 C-3.75,593.66 -4.58,592.84 -5.12,592.02 C-5.67,591.21 -5.95,590.34 -5.95,589.5 C-5.95,588.66 -5.67,587.79 -5.12,586.98 C-4.58,586.16 -3.75,585.34 -2.68,584.59 C-1.61,583.85 -0.26,583.12 1.28,582.49 C2.82,581.86 4.63,581.28 6.56,580.81 C8.5,580.33 10.67,579.93 12.89,579.66 C15.12,579.38 17.53,579.2 19.9,579.15 C22.27,579.1 24.77,579.16 27.13,579.35 C29.49,579.53 31.89,579.85 34.06,580.27 C36.24,580.69 38.36,581.24 40.17,581.87 C41.99,582.5 43.65,583.26 44.95,584.06 C46.26,584.86 47.32,585.76 48,586.67 C48.69,587.57 49.05,588.56 49.05,589.5 Z" stroke="#444" stroke-width="0.6" fill="none" />
<path d="M53.93,589.5 C53.93,590.59 53.5,591.72 52.7,592.76 C51.91,593.8 50.67,594.84 49.14,595.76 C47.62,596.68 45.68,597.55 43.56,598.27 C41.44,599 38.97,599.63 36.43,600.11 C33.89,600.6 31.09,600.96 28.34,601.17 C25.58,601.39 22.67,601.46 19.9,601.4 C17.13,601.34 14.32,601.13 11.72,600.82 C9.13,600.5 6.59,600.04 4.33,599.5 C2.07,598.95 -0.04,598.28 -1.84,597.56 C-3.63,596.83 -5.21,596 -6.45,595.14 C-7.7,594.28 -8.67,593.34 -9.31,592.4 C-9.95,591.46 -10.27,590.47 -10.27,589.5 C-10.27,588.53 -9.95,587.54 -9.31,586.6 C-8.67,585.66 -7.7,584.72 -6.45,583.86 C-5.21,583 -3.63,582.17 -1.84,581.44 C-0.04,580.72 2.07,580.05 4.33,579.5 C6.59,578.96 9.13,578.5 11.72,578.18 C14.32,577.87 17.13,577.66 19.9,577.6 C22.67,577.54 25.58,577.61 28.34,577.83 C31.09,578.04 33.89,578.4 36.43,578.89 C38.97,579.37 41.44,580 43.56,580.73 C45.68,581.45 47.62,582.32 49.14,583.24 C50.67,584.16 51.91,585.2 52.7,586.24 C53.5,587.28 53.93,588.41 53.93,589.5 Z" stroke="#444" stroke-width="0.6" fill="none" />
<path d="M58.8,589.5 C58.8,590.73 58.32,592 57.4,593.18 C56.49,594.36 55.08,595.54 53.33,596.57 C51.59,597.61 49.37,598.59 46.95,599.41 C44.53,600.23 41.7,600.95 38.8,601.5 C35.9,602.04 32.7,602.45 29.55,602.69 C26.4,602.94 23.07,603.02 19.9,602.95 C16.73,602.88 13.52,602.65 10.55,602.29 C7.58,601.93 4.68,601.41 2.1,600.8 C-0.48,600.18 -2.89,599.43 -4.95,598.61 C-7.01,597.79 -8.81,596.85 -10.23,595.88 C-11.66,594.9 -12.77,593.84 -13.49,592.78 C-14.22,591.72 -14.6,590.59 -14.6,589.5 C-14.6,588.41 -14.22,587.28 -13.49,586.22 C-12.77,585.16 -11.66,584.1 -10.23,583.12 C-8.81,582.15 -7.01,581.21 -4.95,580.39 C-2.89,579.57 -0.48,578.82 2.1,578.2 C4.68,577.59 7.58,577.07 10.55,576.71 C13.52,576.35 16.73,576.12 19.9,576.05 C23.07,575.98 26.4,576.06 29.55,576.31 C32.7,576.55 35.9,576.96 38.8,577.5 C41.7,578.05 44.53,578.77 46.95,579.59 C49.37,580.41 51.59,581.39 53.33,582.43 C55.08,583.46 56.49,584.64 57.4,585.82 C58.32,587 58.8,588.27 58.8,589.5 Z" stroke="#444" stroke-width="0.6" fill="none" />
<path d="M63.68,589.5 C63.68,590.87 63.13,592.29 62.1,593.61 C61.08,594.92 59.49,596.23 57.53,597.39 C55.56,598.55 53.07,599.64 50.34,600.56 C47.62,601.47 44.43,602.27 41.17,602.88 C37.9,603.49 34.3,603.94 30.76,604.21 C27.21,604.48 23.46,604.58 19.9,604.5 C16.34,604.42 12.72,604.16 9.38,603.76 C6.04,603.36 2.78,602.79 -0.13,602.1 C-3.04,601.42 -5.75,600.57 -8.06,599.66 C-10.38,598.74 -12.41,597.69 -14.01,596.61 C-15.61,595.53 -16.86,594.34 -17.68,593.16 C-18.5,591.97 -18.92,590.72 -18.92,589.5 C-18.92,588.28 -18.5,587.03 -17.68,585.84 C-16.86,584.66 -15.61,583.47 -14.01,582.39 C-12.41,581.31 -10.38,580.26 -8.06,579.34 C-5.75,578.43 -3.04,577.58 -0.13,576.9 C2.78,576.21 6.04,575.64 9.38,575.24 C12.72,574.84 16.34,574.58 19.9,574.5 C23.46,574.42 27.21,574.52 30.76,574.79 C34.3,575.06 37.9,575.51 41.17,576.12 C44.43,576.73 47.62,577.53 50.34,578.44 C53.07,579.36 55.56,580.45 57.53,581.61 C59.49,582.77 61.08,584.08 62.1,585.39 C63.13,586.71 63.68,588.13 63.68,589.5 Z" stroke="#444" stroke-width="0.6" fill="none" />
<path d="M44,573.5 C45.67,573.67 51.5,573.75 54,574.5 C56.5,575.25 57.92,575.75 59,578 C60.08,580.25 60.33,585 60.5,588 C60.67,591 59.92,593.5 60,596 C60.08,598.5 60.83,601.83 61,603" stroke="#222" stroke-width="0.75" fill="none" />
<path d="M50,577.5 C50.92,577.92 54.42,578.25 55.5,580 C56.58,581.75 56.42,585.33 56.5,588 C56.58,590.67 55.98,593.5 56,596 C56.02,598.5 56.5,601.83 56.6,603" stroke="#222" stroke-width="0.7" fill="none" />
<rect x="19.9" y="574" width="2.6" height="27" fill="#222"/>
<path d="M44,600.6 L46,597.8 L62,597.6 L74,598.8 L78,600.6 Z" stroke="#111" stroke-width="0.5" fill="#111" />
</g>
<clipPath id="c4"><rect x="128.5" y="496.6" width="105.1" height="104"/></clipPath><g clip-path="url(#c4)">
<rect x="152.61" y="533.39" width="0.9" height="0.9" fill="#333"/><rect x="149.09" y="542.95" width="0.9" height="0.9" fill="#333"/><rect x="146.86" y="537.73" width="0.9" height="0.9" fill="#333"/><rect x="145.09" y="541.52" width="0.9" height="0.9" fill="#333"/><rect x="145.09" y="539.1" width="0.9" height="0.9" fill="#333"/><rect x="144.27" y="540.89" width="0.9" height="0.9" fill="#333"/><rect x="145.82" y="550.99" width="0.9" height="0.9" fill="#333"/><rect x="142.57" y="542.78" width="0.9" height="0.9" fill="#333"/><rect x="143.91" y="549.62" width="0.9" height="0.9" fill="#333"/><rect x="149.08" y="529.44" width="0.9" height="0.9" fill="#333"/><rect x="145.83" y="542.78" width="0.9" height="0.9" fill="#333"/><rect x="138.45" y="555" width="0.9" height="0.9" fill="#333"/><rect x="151.25" y="533.72" width="0.9" height="0.9" fill="#333"/><rect x="152.54" y="532.06" width="0.9" height="0.9" fill="#333"/><rect x="136.07" y="561.57" width="0.9" height="0.9" fill="#333"/><rect x="142.35" y="547.41" width="0.9" height="0.9" fill="#333"/><rect x="146.38" y="550.45" width="0.9" height="0.9" fill="#333"/><rect x="154" y="523.55" width="0.9" height="0.9" fill="#333"/><rect x="145.57" y="540.94" width="0.9" height="0.9" fill="#333"/><rect x="134.37" y="556.39" width="0.9" height="0.9" fill="#333"/><rect x="144.82" y="549.6" width="0.9" height="0.9" fill="#333"/><rect x="139.82" y="553.14" width="0.9" height="0.9" fill="#333"/><rect x="135.92" y="557.33" width="0.9" height="0.9" fill="#333"/><rect x="136.02" y="555.63" width="0.9" height="0.9" fill="#333"/><rect x="140.39" y="560.81" width="0.9" height="0.9" fill="#333"/><rect x="129.46" y="556.1" width="0.9" height="0.9" fill="#333"/><rect x="130.91" y="561.18" width="0.9" height="0.9" fill="#333"/><rect x="145.93" y="542.94" width="0.9" height="0.9" fill="#333"/><rect x="138.49" y="553.41" width="0.9" height="0.9" fill="#333"/><rect x="134.5" y="557.49" width="0.9" height="0.9" fill="#333"/><rect x="148.83" y="537.9" width="0.9" height="0.9" fill="#333"/><rect x="148.18" y="542.37" width="0.9" height="0.9" fill="#333"/><rect x="153.98" y="524.89" width="0.9" height="0.9" fill="#333"/><rect x="147.13" y="541.6" width="0.9" height="0.9" fill="#333"/><rect x="146.39" y="540.18" width="0.9" height="0.9" fill="#333"/><rect x="149.45" y="542.77" width="0.9" height="0.9" fill="#333"/><rect x="129.42" y="562.12" width="0.9" height="0.9" fill="#333"/><rect x="145.39" y="544.48" width="0.9" height="0.9" fill="#333"/><rect x="146.77" y="544.82" width="0.9" height="0.9" fill="#333"/><rect x="136.41" y="546.33" width="0.9" height="0.9" fill="#333"/><rect x="147.73" y="536.03" width="0.9" height="0.9" fill="#333"/><rect x="131.32" y="559.41" width="0.9" height="0.9" fill="#333"/><rect x="150.49" y="534.33" width="0.9" height="0.9" fill="#333"/><rect x="144.15" y="560.6" width="0.9" height="0.9" fill="#333"/><rect x="140.58" y="565.21" width="0.9" height="0.9" fill="#333"/><rect x="151.22" y="546.15" width="0.9" height="0.9" fill="#333"/><rect x="147.57" y="538.67" width="0.9" height="0.9" fill="#333"/><rect x="143.83" y="541.9" width="0.9" height="0.9" fill="#333"/><rect x="158.81" y="520.22" width="0.9" height="0.9" fill="#333"/><rect x="133.45" y="564.19" width="0.9" height="0.9" fill="#333"/><rect x="135.89" y="565.09" width="0.9" height="0.9" fill="#333"/><rect x="137.4" y="558.41" width="0.9" height="0.9" fill="#333"/><rect x="147.81" y="531.27" width="0.9" height="0.9" fill="#333"/><rect x="145.45" y="550.66" width="0.9" height="0.9" fill="#333"/><rect x="155.01" y="525.15" width="0.9" height="0.9" fill="#333"/><rect x="138.85" y="557.03" width="0.9" height="0.9" fill="#333"/><rect x="141.76" y="548.33" width="0.9" height="0.9" fill="#333"/><rect x="140.5" y="545.05" width="0.9" height="0.9" fill="#333"/><rect x="153.74" y="543.64" width="0.9" height="0.9" fill="#333"/><rect x="148.64" y="545.51" width="0.9" height="0.9" fill="#333"/><rect x="140.47" y="548.09" width="0.9" height="0.9" fill="#333"/><rect x="138.94" y="560.31" width="0.9" height="0.9" fill="#333"/><rect x="137.49" y="547.49" width="0.9" height="0.9" fill="#333"/><rect x="137.2" y="545.68" width="0.9" height="0.9" fill="#333"/><rect x="143.78" y="547.69" width="0.9" height="0.9" fill="#333"/><rect x="141.71" y="548.1" width="0.9" height="0.9" fill="#333"/><rect x="141.23" y="556.3" width="0.9" height="0.9" fill="#333"/><rect x="144.98" y="535.19" width="0.9" height="0.9" fill="#333"/><rect x="147.31" y="542.55" width="0.9" height="0.9" fill="#333"/><rect x="138.75" y="558.75" width="0.9" height="0.9" fill="#333"/><rect x="154.53" y="534.49" width="0.9" height="0.9" fill="#333"/><rect x="147.29" y="549.2" width="0.9" height="0.9" fill="#333"/><rect x="149.1" y="540.61" width="0.9" height="0.9" fill="#333"/><rect x="139.88" y="559.64" width="0.9" height="0.9" fill="#333"/><rect x="137.73" y="552.58" width="0.9" height="0.9" fill="#333"/><rect x="150.07" y="537.75" width="0.9" height="0.9" fill="#333"/><rect x="139.46" y="549.12" width="0.9" height="0.9" fill="#333"/><rect x="145.38" y="551.48" width="0.9" height="0.9" fill="#333"/><rect x="148.13" y="546.15" width="0.9" height="0.9" fill="#333"/><rect x="141.59" y="547.44" width="0.9" height="0.9" fill="#333"/><rect x="160" y="525.88" width="0.9" height="0.9" fill="#333"/><rect x="135.39" y="559.94" width="0.9" height="0.9" fill="#333"/><rect x="145.57" y="545.93" width="0.9" height="0.9" fill="#333"/><rect x="147.24" y="543.06" width="0.9" height="0.9" fill="#333"/>
<rect x="179.3" y="514.62" width="0.9" height="0.9" fill="#333"/><rect x="210.92" y="514.92" width="0.9" height="0.9" fill="#333"/><rect x="159.47" y="517.37" width="0.9" height="0.9" fill="#333"/><rect x="164.17" y="517.62" width="0.9" height="0.9" fill="#333"/><rect x="208.44" y="513.57" width="0.9" height="0.9" fill="#333"/><rect x="162.02" y="519.18" width="0.9" height="0.9" fill="#333"/><rect x="164.14" y="519.46" width="0.9" height="0.9" fill="#333"/><rect x="205.78" y="516.19" width="0.9" height="0.9" fill="#333"/><rect x="158.22" y="521.83" width="0.9" height="0.9" fill="#333"/><rect x="202.39" y="515.3" width="0.9" height="0.9" fill="#333"/><rect x="165.65" y="513.24" width="0.9" height="0.9" fill="#333"/><rect x="158.2" y="516.06" width="0.9" height="0.9" fill="#333"/><rect x="208.48" y="517.51" width="0.9" height="0.9" fill="#333"/><rect x="206.88" y="513.52" width="0.9" height="0.9" fill="#333"/><rect x="206.39" y="514.8" width="0.9" height="0.9" fill="#333"/><rect x="210.2" y="511" width="0.9" height="0.9" fill="#333"/><rect x="170.53" y="512.38" width="0.9" height="0.9" fill="#333"/><rect x="209.12" y="509.89" width="0.9" height="0.9" fill="#333"/><rect x="200.79" y="514.5" width="0.9" height="0.9" fill="#333"/><rect x="206.32" y="509.93" width="0.9" height="0.9" fill="#333"/><rect x="217.86" y="521.36" width="0.9" height="0.9" fill="#333"/><rect x="165.58" y="518.93" width="0.9" height="0.9" fill="#333"/><rect x="196.46" y="513.71" width="0.9" height="0.9" fill="#333"/><rect x="203.97" y="511.75" width="0.9" height="0.9" fill="#333"/><rect x="212.84" y="512.88" width="0.9" height="0.9" fill="#333"/><rect x="160.84" y="514.22" width="0.9" height="0.9" fill="#333"/><rect x="173.19" y="514.77" width="0.9" height="0.9" fill="#333"/><rect x="206.87" y="516.48" width="0.9" height="0.9" fill="#333"/>
<rect x="216.18" y="541.01" width="0.9" height="0.9" fill="#444"/><rect x="212.19" y="552.88" width="0.9" height="0.9" fill="#444"/><rect x="215.83" y="530.62" width="0.9" height="0.9" fill="#444"/><rect x="215.04" y="556.07" width="0.9" height="0.9" fill="#444"/><rect x="212.29" y="559.82" width="0.9" height="0.9" fill="#444"/><rect x="216.97" y="543.63" width="0.9" height="0.9" fill="#444"/><rect x="215.98" y="557.26" width="0.9" height="0.9" fill="#444"/><rect x="219.82" y="534.01" width="0.9" height="0.9" fill="#444"/><rect x="216.02" y="539.97" width="0.9" height="0.9" fill="#444"/><rect x="218.56" y="541.08" width="0.9" height="0.9" fill="#444"/><rect x="211.06" y="554.89" width="0.9" height="0.9" fill="#444"/><rect x="217.26" y="554.51" width="0.9" height="0.9" fill="#444"/><rect x="210.82" y="561.57" width="0.9" height="0.9" fill="#444"/><rect x="217.46" y="547.26" width="0.9" height="0.9" fill="#444"/><rect x="216.47" y="539.04" width="0.9" height="0.9" fill="#444"/><rect x="214.36" y="550.07" width="0.9" height="0.9" fill="#444"/><rect x="220.41" y="543.58" width="0.9" height="0.9" fill="#444"/><rect x="216.33" y="559.22" width="0.9" height="0.9" fill="#444"/><rect x="217.69" y="546.87" width="0.9" height="0.9" fill="#444"/><rect x="213.3" y="555.58" width="0.9" height="0.9" fill="#444"/>
<rect x="210.16" y="582.58" width="0.84" height="0.84" fill="#555"/><rect x="208.5" y="586.49" width="0.84" height="0.84" fill="#555"/><rect x="211.92" y="586.46" width="0.84" height="0.84" fill="#555"/><rect x="203.57" y="586.42" width="0.84" height="0.84" fill="#555"/><rect x="212.35" y="586.83" width="0.84" height="0.84" fill="#555"/><rect x="197.6" y="575.61" width="0.84" height="0.84" fill="#555"/><rect x="204.79" y="582.89" width="0.84" height="0.84" fill="#555"/><rect x="214.76" y="580.22" width="0.84" height="0.84" fill="#555"/><rect x="193.95" y="590.3" width="0.84" height="0.84" fill="#555"/><rect x="196.21" y="584.18" width="0.84" height="0.84" fill="#555"/><rect x="196.43" y="582.63" width="0.84" height="0.84" fill="#555"/><rect x="206.13" y="582.01" width="0.84" height="0.84" fill="#555"/><rect x="203.25" y="576.49" width="0.84" height="0.84" fill="#555"/><rect x="205.67" y="584.9" width="0.84" height="0.84" fill="#555"/><rect x="205.73" y="588.43" width="0.84" height="0.84" fill="#555"/><rect x="197.03" y="581.83" width="0.84" height="0.84" fill="#555"/><rect x="208.88" y="594.57" width="0.84" height="0.84" fill="#555"/><rect x="208.88" y="592.26" width="0.84" height="0.84" fill="#555"/><rect x="206.66" y="596.13" width="0.84" height="0.84" fill="#555"/><rect x="198.4" y="570.64" width="0.84" height="0.84" fill="#555"/><rect x="205.3" y="580.85" width="0.84" height="0.84" fill="#555"/>
<path d="M128,572 C130,571.92 136.33,571.83 140,571.5 C143.67,571.17 147.72,570.87 150,570 C152.28,569.13 152.93,569.63 153.7,566.3 C154.47,562.97 154.22,555.35 154.6,550 C154.98,544.65 154.3,539.03 156,534.2 C157.7,529.37 161.47,524.12 164.8,521 C168.13,517.88 171.95,516.62 176,515.5 C180.05,514.38 184.6,513.88 189.1,514.3 C193.6,514.72 198.57,515.78 203,518 C207.43,520.22 213.45,524.1 215.7,527.6 C217.95,531.1 216.68,535.32 216.5,539 C216.32,542.68 216.02,546.53 214.6,549.7 C213.18,552.87 210.4,555.42 208,558 C205.6,560.58 202.53,563.03 200.2,565.2 C197.87,567.37 195.48,568.78 194,571 C192.52,573.22 192.03,576 191.3,578.5 C190.57,581 189.97,583.42 189.6,586 C189.23,588.58 189.03,591 189.1,594 C189.17,597 189.85,602.33 190,604" stroke="#222" stroke-width="0.75" fill="none" />
<path d="M128,575.5 C131.67,575.42 143.83,575.08 150,575 C156.17,574.92 161.5,574.67 165,575 C168.5,575.33 169.75,575.17 171,577 C172.25,578.83 172.5,583.17 172.5,586 C172.5,588.83 171.17,591 171,594 C170.83,597 171.42,602.33 171.5,604" stroke="#222" stroke-width="0.7" fill="none" />
<path d="M193.1,532.38 C193.14,532.81 193.06,533.26 192.98,533.65 C192.89,534.04 192.73,534.39 192.59,534.72 C192.45,535.06 192.32,535.37 192.15,535.67 C191.98,535.97 191.8,536.29 191.58,536.52 C191.35,536.75 191.07,536.95 190.79,537.06 C190.5,537.18 190.18,537.21 189.87,537.21 C189.56,537.21 189.24,537.17 188.93,537.07 C188.62,536.98 188.29,536.85 188.01,536.64 C187.72,536.43 187.45,536.14 187.23,535.82 C187.01,535.5 186.85,535.11 186.7,534.74 C186.55,534.36 186.44,533.97 186.35,533.57 C186.26,533.17 186.16,532.75 186.15,532.33 C186.14,531.92 186.17,531.46 186.28,531.09 C186.4,530.72 186.63,530.38 186.86,530.12 C187.08,529.86 187.39,529.7 187.66,529.54 C187.93,529.38 188.2,529.27 188.48,529.17 C188.76,529.07 189.04,528.97 189.34,528.95 C189.63,528.93 189.95,528.94 190.25,529.03 C190.55,529.11 190.86,529.26 191.16,529.44 C191.45,529.63 191.75,529.85 192.01,530.13 C192.28,530.41 192.56,530.74 192.74,531.12 C192.92,531.49 193.06,531.96 193.1,532.38 Z" stroke="#333" stroke-width="0.8" fill="none" />
<path d="M196.27,532.85 C196.33,533.57 196.18,534.35 196.01,535.02 C195.84,535.68 195.53,536.27 195.26,536.85 C194.99,537.43 194.73,537.96 194.41,538.48 C194.09,539 193.75,539.54 193.33,539.94 C192.9,540.34 192.37,540.68 191.84,540.89 C191.31,541.09 190.71,541.15 190.14,541.16 C189.56,541.17 188.97,541.11 188.39,540.96 C187.82,540.8 187.21,540.59 186.69,540.24 C186.17,539.9 185.66,539.4 185.26,538.87 C184.87,538.34 184.57,537.68 184.31,537.04 C184.05,536.41 183.85,535.75 183.7,535.07 C183.54,534.39 183.36,533.67 183.35,532.96 C183.35,532.26 183.41,531.47 183.64,530.84 C183.87,530.21 184.3,529.62 184.73,529.18 C185.16,528.73 185.73,528.44 186.24,528.16 C186.75,527.89 187.26,527.69 187.78,527.51 C188.3,527.34 188.83,527.16 189.38,527.11 C189.93,527.06 190.51,527.08 191.07,527.21 C191.64,527.35 192.2,527.6 192.74,527.9 C193.28,528.21 193.83,528.58 194.32,529.05 C194.8,529.51 195.31,530.07 195.64,530.71 C195.97,531.34 196.21,532.13 196.27,532.85 Z" stroke="#333" stroke-width="0.8" fill="none" />
<path d="M199.44,533.32 C199.53,534.33 199.29,535.44 199.04,536.38 C198.79,537.32 198.32,538.16 197.93,538.97 C197.54,539.79 197.15,540.56 196.67,541.29 C196.2,542.02 195.7,542.79 195.08,543.36 C194.45,543.93 193.68,544.42 192.9,544.71 C192.12,545 191.24,545.09 190.4,545.11 C189.56,545.14 188.69,545.05 187.85,544.84 C187.01,544.63 186.13,544.33 185.37,543.85 C184.61,543.36 183.87,542.67 183.29,541.92 C182.72,541.17 182.3,540.24 181.92,539.34 C181.55,538.45 181.27,537.52 181.04,536.56 C180.81,535.6 180.57,534.59 180.56,533.59 C180.55,532.6 180.66,531.49 181,530.59 C181.34,529.7 181.97,528.86 182.61,528.23 C183.24,527.6 184.07,527.18 184.82,526.79 C185.56,526.39 186.31,526.11 187.08,525.86 C187.84,525.6 188.61,525.35 189.42,525.27 C190.22,525.2 191.08,525.22 191.9,525.4 C192.72,525.58 193.54,525.93 194.33,526.36 C195.12,526.78 195.92,527.3 196.62,527.96 C197.32,528.62 198.07,529.4 198.54,530.29 C199.01,531.19 199.36,532.3 199.44,533.32 Z" stroke="#333" stroke-width="0.8" fill="none" />
<path d="M202.62,533.78 C202.72,535.09 202.41,536.52 202.07,537.74 C201.74,538.96 201.12,540.04 200.6,541.1 C200.08,542.16 199.56,543.15 198.94,544.09 C198.31,545.04 197.65,546.04 196.82,546.78 C195.99,547.52 194.98,548.15 193.95,548.53 C192.93,548.91 191.77,549.03 190.67,549.06 C189.56,549.1 188.42,548.99 187.31,548.72 C186.21,548.45 185.04,548.07 184.05,547.45 C183.05,546.82 182.08,545.94 181.33,544.97 C180.58,544 180.02,542.8 179.53,541.65 C179.04,540.5 178.68,539.3 178.38,538.06 C178.09,536.82 177.77,535.51 177.77,534.22 C177.76,532.94 177.9,531.5 178.35,530.35 C178.81,529.19 179.64,528.11 180.48,527.28 C181.32,526.46 182.42,525.93 183.4,525.41 C184.38,524.9 185.36,524.53 186.37,524.2 C187.38,523.87 188.4,523.54 189.46,523.43 C190.51,523.33 191.64,523.36 192.72,523.59 C193.8,523.82 194.88,524.27 195.91,524.82 C196.95,525.36 198,526.03 198.92,526.88 C199.84,527.72 200.82,528.73 201.44,529.88 C202.05,531.03 202.51,532.47 202.62,533.78 Z" stroke="#333" stroke-width="0.8" fill="none" />
<path d="M205.79,534.25 C205.91,535.86 205.52,537.61 205.1,539.1 C204.68,540.6 203.92,541.93 203.27,543.23 C202.62,544.53 201.98,545.74 201.2,546.9 C200.41,548.06 199.6,549.29 198.57,550.2 C197.54,551.11 196.28,551.88 195.01,552.35 C193.73,552.82 192.3,552.97 190.93,553.02 C189.56,553.06 188.14,552.93 186.77,552.6 C185.41,552.27 183.96,551.82 182.73,551.05 C181.49,550.29 180.29,549.2 179.36,548.02 C178.43,546.84 177.75,545.36 177.14,543.95 C176.54,542.54 176.09,541.07 175.73,539.55 C175.37,538.03 174.97,536.43 174.97,534.85 C174.97,533.27 175.15,531.52 175.71,530.1 C176.28,528.68 177.31,527.35 178.36,526.34 C179.4,525.33 180.76,524.67 181.98,524.04 C183.2,523.4 184.42,522.95 185.67,522.54 C186.93,522.13 188.19,521.72 189.5,521.6 C190.81,521.47 192.21,521.5 193.54,521.78 C194.88,522.06 196.22,522.6 197.5,523.27 C198.78,523.94 200.09,524.76 201.23,525.79 C202.36,526.82 203.58,528.06 204.34,529.47 C205.1,530.88 205.66,532.65 205.79,534.25 Z" stroke="#333" stroke-width="0.8" fill="none" />
<path d="M208.96,534.72 C209.11,536.62 208.64,538.69 208.14,540.47 C207.63,542.24 206.72,543.81 205.94,545.35 C205.16,546.89 204.4,548.33 203.46,549.71 C202.52,551.08 201.55,552.54 200.32,553.62 C199.09,554.7 197.58,555.62 196.06,556.17 C194.54,556.73 192.83,556.92 191.2,556.97 C189.56,557.02 187.87,556.87 186.24,556.48 C184.6,556.1 182.88,555.56 181.41,554.65 C179.93,553.75 178.5,552.47 177.39,551.07 C176.29,549.67 175.48,547.93 174.76,546.26 C174.03,544.59 173.5,542.84 173.07,541.05 C172.64,539.25 172.18,537.35 172.18,535.48 C172.18,533.61 172.39,531.53 173.07,529.85 C173.74,528.17 174.98,526.59 176.23,525.39 C177.48,524.2 179.1,523.41 180.56,522.66 C182.02,521.91 183.47,521.37 184.97,520.88 C186.47,520.4 187.97,519.91 189.54,519.76 C191.1,519.6 192.77,519.64 194.36,519.97 C195.96,520.3 197.56,520.94 199.09,521.73 C200.61,522.52 202.17,523.48 203.53,524.71 C204.89,525.93 206.33,527.39 207.24,529.06 C208.14,530.73 208.81,532.82 208.96,534.72 Z" stroke="#333" stroke-width="0.8" fill="none" />
<path d="M212.13,535.19 C212.3,537.38 211.75,539.78 211.17,541.83 C210.58,543.88 209.52,545.7 208.61,547.48 C207.7,549.26 206.81,550.92 205.72,552.51 C204.63,554.11 203.5,555.79 202.07,557.04 C200.64,558.29 198.89,559.35 197.12,560 C195.35,560.64 193.36,560.86 191.46,560.92 C189.56,560.98 187.59,560.81 185.7,560.36 C183.8,559.92 181.8,559.3 180.09,558.26 C178.37,557.22 176.72,555.73 175.43,554.12 C174.14,552.5 173.2,550.49 172.37,548.56 C171.53,546.63 170.91,544.62 170.42,542.54 C169.92,540.47 169.38,538.27 169.38,536.11 C169.39,533.95 169.64,531.54 170.42,529.6 C171.21,527.66 172.66,525.83 174.11,524.45 C175.56,523.06 177.45,522.16 179.14,521.29 C180.83,520.42 182.53,519.79 184.27,519.23 C186.01,518.67 187.76,518.1 189.58,517.92 C191.4,517.74 193.34,517.78 195.19,518.16 C197.04,518.53 198.9,519.28 200.67,520.19 C202.45,521.1 204.25,522.21 205.83,523.62 C207.41,525.03 209.09,526.72 210.14,528.65 C211.19,530.58 211.96,532.99 212.13,535.19 Z" stroke="#333" stroke-width="0.8" fill="none" />
<path d="M133.27,588 C133.27,588.26 133.21,588.52 133.1,588.77 C132.99,589.01 132.81,589.26 132.6,589.47 C132.39,589.69 132.11,589.89 131.82,590.06 C131.52,590.23 131.17,590.38 130.82,590.5 C130.46,590.61 130.07,590.7 129.68,590.75 C129.3,590.8 128.89,590.81 128.5,590.8 C128.11,590.79 127.72,590.74 127.35,590.66 C126.99,590.59 126.63,590.48 126.32,590.35 C126,590.22 125.71,590.07 125.45,589.9 C125.2,589.73 124.98,589.53 124.81,589.33 C124.63,589.13 124.49,588.9 124.41,588.68 C124.32,588.46 124.27,588.23 124.27,588 C124.27,587.77 124.32,587.54 124.41,587.32 C124.49,587.1 124.63,586.87 124.81,586.67 C124.98,586.47 125.2,586.27 125.45,586.1 C125.71,585.93 126,585.78 126.32,585.65 C126.63,585.52 126.99,585.41 127.35,585.34 C127.72,585.26 128.11,585.21 128.5,585.2 C128.89,585.19 129.3,585.2 129.68,585.25 C130.07,585.3 130.46,585.39 130.82,585.5 C131.17,585.62 131.52,585.77 131.82,585.94 C132.11,586.11 132.39,586.31 132.6,586.53 C132.81,586.74 132.99,586.99 133.1,587.23 C133.21,587.48 133.27,587.74 133.27,588 Z" stroke="#444" stroke-width="0.6" fill="none" />
<path d="M138.57,588 C138.57,588.4 138.44,588.81 138.21,589.19 C137.97,589.57 137.61,589.95 137.15,590.29 C136.7,590.62 136.13,590.94 135.5,591.21 C134.88,591.47 134.14,591.7 133.39,591.88 C132.64,592.06 131.81,592.19 131,592.27 C130.18,592.35 129.32,592.37 128.5,592.35 C127.68,592.33 126.85,592.25 126.08,592.14 C125.31,592.02 124.56,591.85 123.89,591.65 C123.22,591.46 122.6,591.21 122.07,590.95 C121.54,590.68 121.07,590.38 120.7,590.06 C120.33,589.75 120.04,589.4 119.86,589.06 C119.67,588.72 119.57,588.35 119.57,588 C119.57,587.65 119.67,587.28 119.86,586.94 C120.04,586.6 120.33,586.25 120.7,585.94 C121.07,585.62 121.54,585.32 122.07,585.05 C122.6,584.79 123.22,584.54 123.89,584.35 C124.56,584.15 125.31,583.98 126.08,583.86 C126.85,583.75 127.68,583.67 128.5,583.65 C129.32,583.63 130.18,583.65 131,583.73 C131.81,583.81 132.64,583.94 133.39,584.12 C134.14,584.3 134.88,584.53 135.5,584.79 C136.13,585.06 136.7,585.38 137.15,585.71 C137.61,586.05 137.97,586.43 138.21,586.81 C138.44,587.19 138.57,587.6 138.57,588 Z" stroke="#444" stroke-width="0.6" fill="none" />
<path d="M143.87,588 C143.87,588.54 143.68,589.1 143.32,589.62 C142.96,590.13 142.4,590.65 141.71,591.1 C141.02,591.56 140.15,591.99 139.19,592.35 C138.23,592.71 137.11,593.02 135.97,593.26 C134.82,593.5 133.56,593.68 132.31,593.79 C131.07,593.89 129.75,593.93 128.5,593.9 C127.25,593.87 125.98,593.77 124.81,593.61 C123.63,593.45 122.49,593.23 121.47,592.96 C120.45,592.69 119.49,592.35 118.68,591.99 C117.87,591.64 117.16,591.22 116.6,590.8 C116.03,590.37 115.59,589.9 115.31,589.44 C115.02,588.97 114.87,588.48 114.87,588 C114.87,587.52 115.02,587.03 115.31,586.56 C115.59,586.1 116.03,585.63 116.6,585.2 C117.16,584.78 117.87,584.36 118.68,584.01 C119.49,583.65 120.45,583.31 121.47,583.04 C122.49,582.77 123.63,582.55 124.81,582.39 C125.98,582.23 127.25,582.13 128.5,582.1 C129.75,582.07 131.07,582.11 132.31,582.21 C133.56,582.32 134.82,582.5 135.97,582.74 C137.11,582.98 138.23,583.29 139.19,583.65 C140.15,584.01 141.02,584.44 141.71,584.9 C142.4,585.35 142.96,585.87 143.32,586.38 C143.68,586.9 143.87,587.46 143.87,588 Z" stroke="#444" stroke-width="0.6" fill="none" />
<path d="M149.17,588 C149.17,588.68 148.91,589.39 148.43,590.04 C147.94,590.69 147.19,591.34 146.26,591.92 C145.34,592.49 144.16,593.04 142.87,593.49 C141.59,593.95 140.08,594.34 138.54,594.65 C137,594.95 135.3,595.17 133.63,595.31 C131.95,595.44 130.18,595.49 128.5,595.45 C126.82,595.41 125.11,595.28 123.53,595.08 C121.96,594.89 120.41,594.6 119.04,594.26 C117.67,593.92 116.39,593.5 115.3,593.04 C114.2,592.59 113.25,592.07 112.49,591.53 C111.73,590.99 111.14,590.41 110.76,589.82 C110.37,589.23 110.17,588.61 110.17,588 C110.17,587.39 110.37,586.77 110.76,586.18 C111.14,585.59 111.73,585.01 112.49,584.47 C113.25,583.93 114.2,583.41 115.3,582.96 C116.39,582.5 117.67,582.08 119.04,581.74 C120.41,581.4 121.96,581.11 123.53,580.92 C125.11,580.72 126.82,580.59 128.5,580.55 C130.18,580.51 131.95,580.56 133.63,580.69 C135.3,580.83 137,581.05 138.54,581.35 C140.08,581.66 141.59,582.05 142.87,582.51 C144.16,582.96 145.34,583.51 146.26,584.08 C147.19,584.66 147.94,585.31 148.43,585.96 C148.91,586.61 149.17,587.32 149.17,588 Z" stroke="#444" stroke-width="0.6" fill="none" />
<path d="M154.47,588 C154.47,588.82 154.15,589.68 153.54,590.46 C152.93,591.25 151.98,592.04 150.82,592.73 C149.66,593.43 148.18,594.08 146.56,594.63 C144.94,595.18 143.05,595.66 141.12,596.03 C139.18,596.39 137.04,596.67 134.94,596.83 C132.84,596.99 130.61,597.04 128.5,597 C126.39,596.96 124.24,596.8 122.26,596.56 C120.28,596.32 118.34,595.97 116.62,595.56 C114.89,595.15 113.28,594.64 111.91,594.09 C110.54,593.54 109.34,592.92 108.38,592.27 C107.43,591.62 106.69,590.91 106.21,590.19 C105.72,589.48 105.47,588.73 105.47,588 C105.47,587.27 105.72,586.52 106.21,585.81 C106.69,585.09 107.43,584.38 108.38,583.73 C109.34,583.08 110.54,582.46 111.91,581.91 C113.28,581.36 114.89,580.85 116.62,580.44 C118.34,580.03 120.28,579.68 122.26,579.44 C124.24,579.2 126.39,579.04 128.5,579 C130.61,578.96 132.84,579.01 134.94,579.17 C137.04,579.33 139.18,579.61 141.12,579.97 C143.05,580.34 144.94,580.82 146.56,581.37 C148.18,581.92 149.66,582.57 150.82,583.27 C151.98,583.96 152.93,584.75 153.54,585.54 C154.15,586.32 154.47,587.18 154.47,588 Z" stroke="#444" stroke-width="0.6" fill="none" />
<path d="M159.77,588 C159.77,588.96 159.38,589.96 158.65,590.89 C157.91,591.81 156.78,592.73 155.38,593.55 C153.97,594.36 152.19,595.13 150.24,595.78 C148.3,596.42 146.02,596.98 143.69,597.41 C141.36,597.84 138.79,598.16 136.25,598.35 C133.72,598.54 131.05,598.6 128.5,598.55 C125.95,598.5 123.37,598.31 120.98,598.03 C118.6,597.75 116.27,597.34 114.19,596.86 C112.12,596.38 110.18,595.79 108.53,595.14 C106.87,594.5 105.42,593.76 104.28,593 C103.13,592.24 102.24,591.41 101.66,590.57 C101.07,589.74 100.77,588.86 100.77,588 C100.77,587.14 101.07,586.26 101.66,585.43 C102.24,584.59 103.13,583.76 104.28,583 C105.42,582.24 106.87,581.5 108.53,580.86 C110.18,580.21 112.12,579.62 114.19,579.14 C116.27,578.66 118.6,578.25 120.98,577.97 C123.37,577.69 125.95,577.5 128.5,577.45 C131.05,577.4 133.72,577.46 136.25,577.65 C138.79,577.84 141.36,578.16 143.69,578.59 C146.02,579.02 148.3,579.58 150.24,580.22 C152.19,580.87 153.97,581.64 155.38,582.45 C156.78,583.27 157.91,584.19 158.65,585.11 C159.38,586.04 159.77,587.04 159.77,588 Z" stroke="#444" stroke-width="0.6" fill="none" />
<path d="M165.07,588 C165.07,589.1 164.61,590.25 163.76,591.31 C162.9,592.37 161.57,593.43 159.93,594.36 C158.29,595.3 156.21,596.18 153.93,596.92 C151.65,597.66 148.99,598.3 146.27,598.79 C143.54,599.28 140.53,599.65 137.57,599.87 C134.61,600.09 131.48,600.16 128.5,600.1 C125.52,600.04 122.5,599.83 119.71,599.51 C116.92,599.18 114.2,598.72 111.77,598.16 C109.34,597.61 107.07,596.93 105.14,596.19 C103.21,595.45 101.51,594.61 100.17,593.74 C98.84,592.86 97.79,591.91 97.11,590.95 C96.42,589.99 96.07,588.98 96.07,588 C96.07,587.02 96.42,586.01 97.11,585.05 C97.79,584.09 98.84,583.14 100.17,582.26 C101.51,581.39 103.21,580.55 105.14,579.81 C107.07,579.07 109.34,578.39 111.77,577.84 C114.2,577.28 116.92,576.82 119.71,576.49 C122.5,576.17 125.52,575.96 128.5,575.9 C131.48,575.84 134.61,575.91 137.57,576.13 C140.53,576.35 143.54,576.72 146.27,577.21 C148.99,577.7 151.65,578.34 153.93,579.08 C156.21,579.82 158.29,580.7 159.93,581.64 C161.57,582.57 162.9,583.63 163.76,584.69 C164.61,585.75 165.07,586.9 165.07,588 Z" stroke="#444" stroke-width="0.6" fill="none" />
<path d="M170.37,588 C170.37,589.25 169.85,590.54 168.87,591.74 C167.88,592.93 166.36,594.13 164.49,595.18 C162.61,596.23 160.22,597.23 157.62,598.06 C155.01,598.89 151.96,599.62 148.84,600.18 C145.72,600.73 142.27,601.14 138.88,601.39 C135.49,601.64 131.91,601.72 128.5,601.65 C125.09,601.58 121.63,601.34 118.44,600.98 C115.24,600.62 112.12,600.09 109.34,599.47 C106.56,598.84 103.97,598.08 101.75,597.24 C99.54,596.41 97.6,595.46 96.07,594.47 C94.54,593.48 93.34,592.41 92.56,591.33 C91.77,590.25 91.37,589.11 91.37,588 C91.37,586.89 91.77,585.75 92.56,584.67 C93.34,583.59 94.54,582.52 96.07,581.53 C97.6,580.54 99.54,579.59 101.75,578.76 C103.97,577.92 106.56,577.16 109.34,576.53 C112.12,575.91 115.24,575.38 118.44,575.02 C121.63,574.66 125.09,574.42 128.5,574.35 C131.91,574.28 135.49,574.36 138.88,574.61 C142.27,574.86 145.72,575.27 148.84,575.82 C151.96,576.38 155.01,577.11 157.62,577.94 C160.22,578.77 162.61,579.77 164.49,580.82 C166.36,581.87 167.88,583.07 168.87,584.26 C169.85,585.46 170.37,586.75 170.37,588 Z" stroke="#444" stroke-width="0.6" fill="none" />
<path d="M175.67,588 C175.67,589.39 175.08,590.83 173.97,592.16 C172.87,593.49 171.15,594.82 169.04,595.99 C166.93,597.17 164.24,598.28 161.3,599.2 C158.36,600.13 154.93,600.94 151.42,601.56 C147.9,602.18 144.02,602.64 140.2,602.91 C136.38,603.18 132.34,603.28 128.5,603.2 C124.66,603.12 120.76,602.86 117.16,602.45 C113.56,602.05 110.05,601.46 106.92,600.77 C103.79,600.08 100.86,599.22 98.37,598.29 C95.88,597.36 93.69,596.3 91.96,595.21 C90.24,594.11 88.89,592.91 88.01,591.71 C87.13,590.51 86.67,589.24 86.67,588 C86.67,586.76 87.13,585.49 88.01,584.29 C88.89,583.09 90.24,581.89 91.96,580.79 C93.69,579.7 95.88,578.64 98.37,577.71 C100.86,576.78 103.79,575.92 106.92,575.23 C110.05,574.54 113.56,573.95 117.16,573.55 C120.76,573.14 124.66,572.88 128.5,572.8 C132.34,572.72 136.38,572.82 140.2,573.09 C144.02,573.36 147.9,573.82 151.42,574.44 C154.93,575.06 158.36,575.87 161.3,576.8 C164.24,577.72 166.93,578.83 169.04,580.01 C171.15,581.18 172.87,582.51 173.97,583.84 C175.08,585.17 175.67,586.61 175.67,588 Z" stroke="#444" stroke-width="0.6" fill="none" />
<path d="M180.97,588 C180.97,589.53 180.31,591.12 179.08,592.59 C177.86,594.05 175.95,595.52 173.6,596.81 C171.25,598.1 168.25,599.32 164.99,600.35 C161.72,601.37 157.91,602.26 153.99,602.94 C150.08,603.62 145.76,604.13 141.51,604.43 C137.26,604.73 132.77,604.83 128.5,604.75 C124.23,604.67 119.89,604.37 115.89,603.93 C111.89,603.48 107.98,602.84 104.49,602.07 C101.01,601.31 97.76,600.36 94.98,599.34 C92.21,598.32 89.78,597.15 87.86,595.94 C85.94,594.73 84.44,593.41 83.46,592.08 C82.48,590.76 81.97,589.36 81.97,588 C81.97,586.64 82.48,585.24 83.46,583.92 C84.44,582.59 85.94,581.27 87.86,580.06 C89.78,578.85 92.21,577.68 94.98,576.66 C97.76,575.64 101.01,574.69 104.49,573.93 C107.98,573.16 111.89,572.52 115.89,572.07 C119.89,571.63 124.23,571.33 128.5,571.25 C132.77,571.17 137.26,571.27 141.51,571.57 C145.76,571.87 150.08,572.38 153.99,573.06 C157.91,573.74 161.72,574.63 164.99,575.65 C168.25,576.68 171.25,577.9 173.6,579.19 C175.95,580.48 177.86,581.95 179.08,583.41 C180.31,584.88 180.97,586.47 180.97,588 Z" stroke="#444" stroke-width="0.6" fill="none" />
<rect x="128.5" y="572" width="2.8" height="29" fill="#222"/>
<path d="M150,600.6 L152,596.6 L170,596.4 L183,598.2 L186,600.6 Z" stroke="#111" stroke-width="0.5" fill="#111" />
</g>
<clipPath id="c5"><rect x="236.4" y="496.6" width="104.5" height="104"/></clipPath><g clip-path="url(#c5)">
<rect x="321.69" y="564.11" width="0.9" height="0.9" fill="#333"/><rect x="323.1" y="554.1" width="0.9" height="0.9" fill="#333"/><rect x="317.02" y="575.72" width="0.9" height="0.9" fill="#333"/><rect x="334.04" y="556.08" width="0.9" height="0.9" fill="#333"/><rect x="304.7" y="577.09" width="0.9" height="0.9" fill="#333"/><rect x="321.16" y="548.59" width="0.9" height="0.9" fill="#333"/><rect x="308.83" y="573.12" width="0.9" height="0.9" fill="#333"/><rect x="318.17" y="565.78" width="0.9" height="0.9" fill="#333"/><rect x="329.22" y="548.88" width="0.9" height="0.9" fill="#333"/><rect x="325.48" y="555.82" width="0.9" height="0.9" fill="#333"/><rect x="319.79" y="563.31" width="0.9" height="0.9" fill="#333"/><rect x="312.46" y="566.9" width="0.9" height="0.9" fill="#333"/><rect x="329.53" y="545.27" width="0.9" height="0.9" fill="#333"/><rect x="315.11" y="555.26" width="0.9" height="0.9" fill="#333"/><rect x="330.45" y="542.04" width="0.9" height="0.9" fill="#333"/><rect x="324.27" y="553.71" width="0.9" height="0.9" fill="#333"/><rect x="333.49" y="547.8" width="0.9" height="0.9" fill="#333"/><rect x="327.17" y="543.89" width="0.9" height="0.9" fill="#333"/><rect x="325" y="555.15" width="0.9" height="0.9" fill="#333"/><rect x="316.06" y="553.31" width="0.9" height="0.9" fill="#333"/><rect x="332.71" y="566.25" width="0.9" height="0.9" fill="#333"/><rect x="324.78" y="550.99" width="0.9" height="0.9" fill="#333"/><rect x="323.02" y="567.86" width="0.9" height="0.9" fill="#333"/><rect x="332.78" y="569.57" width="0.9" height="0.9" fill="#333"/><rect x="337.55" y="556.15" width="0.9" height="0.9" fill="#333"/><rect x="312.67" y="573.91" width="0.9" height="0.9" fill="#333"/><rect x="337" y="569.59" width="0.9" height="0.9" fill="#333"/><rect x="321.21" y="560.44" width="0.9" height="0.9" fill="#333"/><rect x="318.17" y="554.79" width="0.9" height="0.9" fill="#333"/><rect x="321.06" y="563.69" width="0.9" height="0.9" fill="#333"/><rect x="310.76" y="564.66" width="0.9" height="0.9" fill="#333"/><rect x="322.45" y="556.36" width="0.9" height="0.9" fill="#333"/>
<rect x="255.91" y="543.27" width="0.9" height="0.9" fill="#444"/><rect x="255.9" y="561.46" width="0.9" height="0.9" fill="#444"/><rect x="251.66" y="555.12" width="0.9" height="0.9" fill="#444"/><rect x="250.73" y="544.63" width="0.9" height="0.9" fill="#444"/><rect x="255.66" y="540.96" width="0.9" height="0.9" fill="#444"/><rect x="260.36" y="532.16" width="0.9" height="0.9" fill="#444"/><rect x="253.1" y="546.98" width="0.9" height="0.9" fill="#444"/><rect x="254.8" y="545.19" width="0.9" height="0.9" fill="#444"/><rect x="248.25" y="547.24" width="0.9" height="0.9" fill="#444"/><rect x="262.36" y="552.99" width="0.9" height="0.9" fill="#444"/><rect x="253.28" y="534.46" width="0.9" height="0.9" fill="#444"/><rect x="248.73" y="554.58" width="0.9" height="0.9" fill="#444"/><rect x="250.9" y="543.76" width="0.9" height="0.9" fill="#444"/><rect x="267.89" y="523.16" width="0.9" height="0.9" fill="#444"/><rect x="259.66" y="523.51" width="0.9" height="0.9" fill="#444"/><rect x="246.14" y="573.26" width="0.9" height="0.9" fill="#444"/><rect x="260.71" y="552.49" width="0.9" height="0.9" fill="#444"/><rect x="258.95" y="555.74" width="0.9" height="0.9" fill="#444"/><rect x="250.68" y="533.23" width="0.9" height="0.9" fill="#444"/><rect x="249.28" y="550.12" width="0.9" height="0.9" fill="#444"/><rect x="256.8" y="556.99" width="0.9" height="0.9" fill="#444"/><rect x="253.75" y="553.98" width="0.9" height="0.9" fill="#444"/><rect x="253.91" y="535.55" width="0.9" height="0.9" fill="#444"/><rect x="250.86" y="550.05" width="0.9" height="0.9" fill="#444"/><rect x="253.41" y="541.21" width="0.9" height="0.9" fill="#444"/>
<rect x="309.69" y="587.93" width="0.8" height="0.8" fill="#666"/><rect x="326.25" y="597.01" width="0.8" height="0.8" fill="#666"/><rect x="328.01" y="596.46" width="0.8" height="0.8" fill="#666"/><rect x="334.56" y="591.5" width="0.8" height="0.8" fill="#666"/><rect x="326.94" y="576.98" width="0.8" height="0.8" fill="#666"/><rect x="307.41" y="575.89" width="0.8" height="0.8" fill="#666"/><rect x="332.42" y="591.48" width="0.8" height="0.8" fill="#666"/><rect x="323.55" y="581.4" width="0.8" height="0.8" fill="#666"/><rect x="313.1" y="579.2" width="0.8" height="0.8" fill="#666"/><rect x="323.62" y="597.41" width="0.8" height="0.8" fill="#666"/><rect x="311.22" y="576.57" width="0.8" height="0.8" fill="#666"/><rect x="306.26" y="583.42" width="0.8" height="0.8" fill="#666"/><rect x="333.76" y="593.3" width="0.8" height="0.8" fill="#666"/><rect x="316.89" y="577.85" width="0.8" height="0.8" fill="#666"/><rect x="303.65" y="578.99" width="0.8" height="0.8" fill="#666"/><rect x="329.14" y="585.97" width="0.8" height="0.8" fill="#666"/><rect x="337.24" y="595.66" width="0.8" height="0.8" fill="#666"/><rect x="329.8" y="586.08" width="0.8" height="0.8" fill="#666"/><rect x="330.83" y="578.42" width="0.8" height="0.8" fill="#666"/><rect x="303.74" y="588" width="0.8" height="0.8" fill="#666"/><rect x="318.9" y="580.2" width="0.8" height="0.8" fill="#666"/><rect x="309.17" y="576.07" width="0.8" height="0.8" fill="#666"/><rect x="334.14" y="591.22" width="0.8" height="0.8" fill="#666"/><rect x="335.52" y="597.17" width="0.8" height="0.8" fill="#666"/><rect x="316.2" y="591.71" width="0.8" height="0.8" fill="#666"/>
<path d="M232,569 C233.33,568.83 236.67,569 240,568 C243.33,567 248.83,564.83 252,563 C255.17,561.17 257.63,559.83 259,557 C260.37,554.17 260.1,549.8 260.2,546 C260.3,542.2 258.63,536.95 259.6,534.2 C260.57,531.45 262.6,531.2 266,529.5 C269.4,527.8 275.17,525.83 280,524 C284.83,522.17 290.83,519.75 295,518.5 C299.17,517.25 300.75,516.65 305,516.5 C309.25,516.35 317.42,516.18 320.5,517.6 C323.58,519.02 323.13,522.23 323.5,525 C323.87,527.77 323.28,530.87 322.7,534.2 C322.12,537.53 321.12,541.7 320,545 C318.88,548.3 317.67,551.17 316,554 C314.33,556.83 312.2,559.4 310,562 C307.8,564.6 304.55,567.27 302.8,569.6 C301.05,571.93 300.25,573.78 299.5,576 C298.75,578.22 298.75,580.57 298.3,582.9 C297.85,585.23 297.18,587.42 296.8,590 C296.42,592.58 296.13,596.07 296,598.4 C295.87,600.73 296,603.07 296,604" stroke="#222" stroke-width="0.75" fill="none" />
<path d="M305.39,538.95 C305.51,539.19 305.62,539.44 305.7,539.69 C305.77,539.93 305.82,540.19 305.85,540.43 C305.87,540.66 305.87,540.9 305.83,541.12 C305.8,541.33 305.74,541.53 305.66,541.7 C305.57,541.87 305.46,542.02 305.33,542.13 C305.2,542.24 305.04,542.32 304.87,542.37 C304.71,542.41 304.52,542.42 304.34,542.4 C304.15,542.38 303.95,542.31 303.75,542.22 C303.56,542.13 303.36,542 303.17,541.85 C302.99,541.7 302.81,541.51 302.65,541.31 C302.48,541.11 302.33,540.88 302.21,540.65 C302.09,540.41 301.98,540.16 301.9,539.91 C301.83,539.67 301.78,539.41 301.75,539.17 C301.73,538.94 301.73,538.7 301.77,538.48 C301.8,538.27 301.86,538.07 301.94,537.9 C302.03,537.73 302.14,537.58 302.27,537.47 C302.4,537.36 302.56,537.28 302.73,537.23 C302.89,537.19 303.08,537.18 303.26,537.2 C303.45,537.22 303.65,537.29 303.85,537.38 C304.04,537.47 304.24,537.6 304.43,537.75 C304.61,537.9 304.79,538.09 304.95,538.29 C305.12,538.49 305.27,538.72 305.39,538.95 Z" stroke="#444" stroke-width="0.75" fill="none" />
<path d="M306.94,538.31 C307.18,538.78 307.36,539.29 307.48,539.8 C307.6,540.3 307.66,540.82 307.66,541.31 C307.66,541.8 307.6,542.29 307.49,542.73 C307.37,543.17 307.19,543.6 306.97,543.96 C306.74,544.32 306.46,544.65 306.14,544.9 C305.83,545.15 305.45,545.35 305.06,545.47 C304.68,545.59 304.24,545.64 303.82,545.61 C303.39,545.58 302.93,545.47 302.51,545.3 C302.08,545.13 301.64,544.88 301.25,544.58 C300.85,544.28 300.47,543.91 300.14,543.51 C299.81,543.11 299.51,542.65 299.26,542.18 C299.02,541.71 298.82,541.19 298.69,540.69 C298.56,540.18 298.48,539.65 298.47,539.15 C298.46,538.65 298.52,538.14 298.64,537.69 C298.76,537.24 298.95,536.81 299.18,536.45 C299.42,536.09 299.72,535.77 300.05,535.53 C300.38,535.28 300.76,535.1 301.16,534.99 C301.55,534.89 301.98,534.85 302.41,534.88 C302.84,534.91 303.29,535.02 303.72,535.19 C304.14,535.36 304.58,535.61 304.98,535.9 C305.37,536.2 305.76,536.57 306.08,536.97 C306.41,537.37 306.71,537.84 306.94,538.31 Z" stroke="#444" stroke-width="0.75" fill="none" />
<path d="M308.54,537.76 C308.86,538.48 309.11,539.26 309.25,540.02 C309.4,540.77 309.45,541.56 309.41,542.29 C309.38,543.03 309.24,543.76 309.03,544.42 C308.83,545.08 308.53,545.72 308.16,546.27 C307.8,546.81 307.34,547.32 306.84,547.71 C306.33,548.1 305.75,548.41 305.14,548.6 C304.52,548.79 303.84,548.87 303.18,548.83 C302.51,548.79 301.8,548.63 301.14,548.36 C300.48,548.1 299.82,547.71 299.22,547.26 C298.62,546.8 298.05,546.24 297.55,545.63 C297.06,545.02 296.61,544.33 296.26,543.62 C295.91,542.9 295.61,542.12 295.43,541.35 C295.25,540.58 295.15,539.76 295.16,538.99 C295.18,538.23 295.3,537.45 295.51,536.76 C295.73,536.07 296.06,535.41 296.46,534.87 C296.86,534.32 297.37,533.84 297.91,533.49 C298.45,533.13 299.07,532.87 299.7,532.71 C300.33,532.56 301.01,532.51 301.68,532.56 C302.34,532.62 303.04,532.78 303.7,533.04 C304.36,533.29 305.03,533.66 305.62,534.11 C306.22,534.56 306.8,535.12 307.29,535.73 C307.77,536.34 308.21,537.05 308.54,537.76 Z" stroke="#444" stroke-width="0.75" fill="none" />
<path d="M310.16,537.32 C310.57,538.28 310.85,539.34 311.01,540.35 C311.16,541.36 311.18,542.4 311.09,543.37 C311,544.34 310.78,545.3 310.47,546.18 C310.17,547.05 309.75,547.9 309.24,548.62 C308.73,549.35 308.11,550.03 307.42,550.55 C306.73,551.07 305.92,551.51 305.09,551.76 C304.25,552.01 303.32,552.12 302.42,552.06 C301.51,552 300.55,551.77 299.66,551.41 C298.78,551.04 297.89,550.5 297.09,549.88 C296.3,549.26 295.54,548.49 294.89,547.67 C294.25,546.85 293.66,545.92 293.2,544.96 C292.74,544 292.36,542.94 292.13,541.9 C291.9,540.86 291.79,539.75 291.83,538.72 C291.87,537.68 292.07,536.62 292.39,535.69 C292.72,534.77 293.22,533.88 293.8,533.16 C294.37,532.43 295.11,531.82 295.87,531.36 C296.63,530.89 297.5,530.57 298.36,530.39 C299.23,530.2 300.16,530.16 301.06,530.25 C301.97,530.34 302.91,530.56 303.79,530.92 C304.68,531.27 305.57,531.77 306.37,532.38 C307.16,532.98 307.93,533.74 308.57,534.57 C309.2,535.39 309.75,536.36 310.16,537.32 Z" stroke="#444" stroke-width="0.75" fill="none" />
<path d="M311.81,536.98 C312.28,538.2 312.59,539.53 312.73,540.79 C312.88,542.05 312.84,543.34 312.69,544.54 C312.53,545.75 312.22,546.92 311.81,548 C311.39,549.08 310.85,550.12 310.19,551.02 C309.54,551.93 308.75,552.77 307.88,553.43 C307,554.08 305.98,554.63 304.92,554.94 C303.86,555.25 302.68,555.39 301.53,555.3 C300.39,555.22 299.18,554.9 298.07,554.42 C296.96,553.95 295.85,553.25 294.87,552.45 C293.88,551.65 292.96,550.67 292.16,549.63 C291.37,548.59 290.65,547.42 290.09,546.2 C289.53,544.99 289.07,543.66 288.8,542.35 C288.53,541.03 288.4,539.63 288.48,538.32 C288.56,537.01 288.83,535.66 289.28,534.49 C289.73,533.33 290.41,532.22 291.18,531.32 C291.95,530.43 292.92,529.69 293.92,529.14 C294.91,528.59 296.03,528.23 297.14,528.03 C298.25,527.83 299.43,527.81 300.57,527.94 C301.71,528.08 302.89,528.38 304,528.84 C305.1,529.3 306.22,529.93 307.2,530.71 C308.19,531.48 309.14,532.45 309.91,533.49 C310.68,534.54 311.34,535.76 311.81,536.98 Z" stroke="#444" stroke-width="0.75" fill="none" />
<path d="M313.5,536.75 C314.01,538.22 314.32,539.83 314.44,541.34 C314.56,542.84 314.45,544.38 314.21,545.8 C313.98,547.23 313.56,548.61 313.03,549.89 C312.5,551.16 311.83,552.38 311.03,553.46 C310.23,554.53 309.28,555.55 308.21,556.33 C307.15,557.11 305.91,557.77 304.63,558.14 C303.35,558.51 301.91,558.67 300.53,558.55 C299.15,558.43 297.69,558.02 296.36,557.42 C295.02,556.82 293.71,555.94 292.54,554.95 C291.38,553.97 290.29,552.77 289.36,551.5 C288.42,550.23 287.59,548.82 286.93,547.35 C286.28,545.88 285.73,544.27 285.43,542.68 C285.12,541.09 284.98,539.37 285.11,537.78 C285.24,536.2 285.61,534.56 286.19,533.15 C286.78,531.75 287.65,530.42 288.63,529.37 C289.6,528.31 290.83,527.45 292.06,526.83 C293.3,526.21 294.69,525.83 296.04,525.63 C297.4,525.43 298.82,525.46 300.2,525.65 C301.57,525.85 302.98,526.23 304.31,526.8 C305.63,527.38 306.96,528.15 308.13,529.1 C309.3,530.05 310.43,531.23 311.33,532.51 C312.22,533.78 312.98,535.28 313.5,536.75 Z" stroke="#444" stroke-width="0.75" fill="none" />
<path d="M315.2,536.62 C315.75,538.35 316.03,540.23 316.11,541.99 C316.18,543.74 315.98,545.51 315.66,547.15 C315.33,548.79 314.8,550.36 314.15,551.82 C313.49,553.29 312.7,554.69 311.75,555.92 C310.79,557.16 309.69,558.34 308.43,559.25 C307.18,560.16 305.73,560.94 304.22,561.36 C302.72,561.79 301.02,561.95 299.4,561.79 C297.79,561.62 296.07,561.11 294.53,560.38 C292.98,559.64 291.47,558.57 290.13,557.39 C288.79,556.21 287.56,554.79 286.49,553.29 C285.42,551.79 284.47,550.12 283.73,548.39 C282.98,546.66 282.36,544.77 282.03,542.89 C281.7,541.02 281.55,538.99 281.73,537.12 C281.91,535.25 282.39,533.31 283.12,531.67 C283.86,530.03 284.94,528.49 286.14,527.28 C287.34,526.08 288.83,525.12 290.31,524.44 C291.8,523.76 293.46,523.38 295.06,523.21 C296.67,523.03 298.33,523.11 299.94,523.37 C301.55,523.64 303.19,524.12 304.72,524.81 C306.26,525.51 307.81,526.43 309.15,527.57 C310.5,528.7 311.8,530.1 312.8,531.61 C313.81,533.12 314.65,534.89 315.2,536.62 Z" stroke="#444" stroke-width="0.75" fill="none" />
<path d="M316.92,536.6 C317.49,538.59 317.73,540.75 317.75,542.74 C317.76,544.74 317.45,546.73 317.02,548.57 C316.59,550.42 315.93,552.17 315.15,553.81 C314.37,555.45 313.45,557.02 312.34,558.42 C311.24,559.81 309.98,561.16 308.53,562.19 C307.09,563.22 305.42,564.12 303.69,564.59 C301.96,565.07 300.01,565.24 298.15,565.03 C296.3,564.81 294.34,564.18 292.59,563.3 C290.83,562.42 289.13,561.15 287.62,559.76 C286.11,558.38 284.74,556.72 283.55,554.98 C282.36,553.24 281.31,551.32 280.48,549.33 C279.66,547.33 278.96,545.16 278.6,542.99 C278.25,540.82 278.1,538.48 278.35,536.32 C278.59,534.17 279.18,531.93 280.08,530.05 C280.97,528.18 282.28,526.43 283.72,525.08 C285.15,523.73 286.92,522.7 288.67,521.98 C290.42,521.25 292.35,520.9 294.2,520.75 C296.06,520.61 297.96,520.76 299.8,521.12 C301.65,521.47 303.5,522.04 305.25,522.88 C306.99,523.71 308.74,524.78 310.26,526.1 C311.78,527.42 313.23,529.06 314.34,530.81 C315.45,532.56 316.36,534.61 316.92,536.6 Z" stroke="#444" stroke-width="0.75" fill="none" />
<path d="M318.66,536.68 C319.23,538.93 319.41,541.37 319.35,543.6 C319.29,545.83 318.85,548.04 318.3,550.08 C317.75,552.12 316.95,554.03 316.04,555.84 C315.13,557.65 314.08,559.38 312.82,560.93 C311.57,562.48 310.15,564 308.52,565.15 C306.89,566.3 305,567.31 303.04,567.83 C301.09,568.35 298.87,568.53 296.78,568.25 C294.7,567.98 292.49,567.21 290.53,566.18 C288.57,565.15 286.68,563.67 285.02,562.07 C283.36,560.47 281.86,558.57 280.56,556.58 C279.25,554.6 278.1,552.43 277.2,550.16 C276.3,547.89 275.53,545.43 275.15,542.97 C274.78,540.51 274.64,537.84 274.96,535.39 C275.28,532.95 276,530.4 277.07,528.29 C278.14,526.19 279.7,524.23 281.37,522.75 C283.05,521.27 285.12,520.18 287.14,519.43 C289.15,518.69 291.36,518.37 293.47,518.28 C295.57,518.19 297.72,518.43 299.78,518.88 C301.85,519.33 303.93,520.02 305.87,520.99 C307.82,521.96 309.77,523.2 311.45,524.71 C313.13,526.23 314.74,528.1 315.94,530.1 C317.14,532.09 318.09,534.43 318.66,536.68 Z" stroke="#444" stroke-width="0.75" fill="none" />
<path d="M278.8,568.5 C278.8,568.77 278.67,569.07 278.45,569.3 C278.23,569.53 277.88,569.75 277.5,569.89 C277.12,570.02 276.63,570.1 276.2,570.1 C275.77,570.1 275.28,570.02 274.9,569.89 C274.52,569.75 274.17,569.53 273.95,569.3 C273.73,569.07 273.6,568.77 273.6,568.5 C273.6,568.23 273.73,567.93 273.95,567.7 C274.17,567.47 274.52,567.25 274.9,567.11 C275.28,566.98 275.77,566.9 276.2,566.9 C276.63,566.9 277.12,566.98 277.5,567.11 C277.88,567.25 278.23,567.47 278.45,567.7 C278.67,567.93 278.8,568.23 278.8,568.5 Z" stroke="#222" stroke-width="0.7" fill="none" />
<path d="M236,575 C240.33,574.92 256.33,574.33 262,574.5 C267.67,574.67 266.83,575.33 270,576 C273.17,576.67 278.58,576.83 281,578.5 C283.42,580.17 284,583.42 284.5,586 C285,588.58 283.92,591 284,594 C284.08,597 284.83,602.33 285,604" stroke="#222" stroke-width="0.7" fill="none" />
<path d="M241.17,588 C241.17,588.26 241.11,588.52 241,588.77 C240.89,589.01 240.71,589.26 240.5,589.47 C240.29,589.69 240.01,589.89 239.72,590.06 C239.42,590.23 239.07,590.38 238.72,590.5 C238.36,590.61 237.97,590.7 237.58,590.75 C237.2,590.8 236.79,590.81 236.4,590.8 C236.01,590.79 235.62,590.74 235.25,590.66 C234.89,590.59 234.53,590.48 234.22,590.35 C233.9,590.22 233.61,590.07 233.35,589.9 C233.1,589.73 232.88,589.53 232.71,589.33 C232.53,589.13 232.39,588.9 232.31,588.68 C232.22,588.46 232.17,588.23 232.17,588 C232.17,587.77 232.22,587.54 232.31,587.32 C232.39,587.1 232.53,586.87 232.71,586.67 C232.88,586.47 233.1,586.27 233.35,586.1 C233.61,585.93 233.9,585.78 234.22,585.65 C234.53,585.52 234.89,585.41 235.25,585.34 C235.62,585.26 236.01,585.21 236.4,585.2 C236.79,585.19 237.2,585.2 237.58,585.25 C237.97,585.3 238.36,585.39 238.72,585.5 C239.07,585.62 239.42,585.77 239.72,585.94 C240.01,586.11 240.29,586.31 240.5,586.53 C240.71,586.74 240.89,586.99 241,587.23 C241.11,587.48 241.17,587.74 241.17,588 Z" stroke="#444" stroke-width="0.6" fill="none" />
<path d="M246.15,588 C246.15,588.4 246.03,588.81 245.8,589.19 C245.57,589.57 245.22,589.95 244.78,590.29 C244.34,590.62 243.79,590.94 243.18,591.21 C242.57,591.47 241.87,591.7 241.14,591.88 C240.41,592.06 239.61,592.19 238.82,592.27 C238.03,592.35 237.19,592.37 236.4,592.35 C235.61,592.33 234.8,592.25 234.06,592.14 C233.31,592.02 232.59,591.85 231.94,591.65 C231.29,591.46 230.69,591.21 230.17,590.95 C229.66,590.68 229.2,590.38 228.85,590.06 C228.49,589.75 228.21,589.4 228.03,589.06 C227.85,588.72 227.75,588.35 227.75,588 C227.75,587.65 227.85,587.28 228.03,586.94 C228.21,586.6 228.49,586.25 228.85,585.94 C229.2,585.62 229.66,585.32 230.17,585.05 C230.69,584.79 231.29,584.54 231.94,584.35 C232.59,584.15 233.31,583.98 234.06,583.86 C234.8,583.75 235.61,583.67 236.4,583.65 C237.19,583.63 238.03,583.65 238.82,583.73 C239.61,583.81 240.41,583.94 241.14,584.12 C241.87,584.3 242.57,584.53 243.18,584.79 C243.79,585.06 244.34,585.38 244.78,585.71 C245.22,586.05 245.57,586.43 245.8,586.81 C246.03,587.19 246.15,587.6 246.15,588 Z" stroke="#444" stroke-width="0.6" fill="none" />
<path d="M251.13,588 C251.13,588.54 250.95,589.1 250.6,589.62 C250.26,590.13 249.72,590.65 249.06,591.1 C248.4,591.56 247.56,591.99 246.65,592.35 C245.73,592.71 244.66,593.02 243.56,593.26 C242.46,593.5 241.25,593.68 240.05,593.79 C238.86,593.89 237.6,593.93 236.4,593.9 C235.2,593.87 233.98,593.77 232.86,593.61 C231.73,593.45 230.64,593.23 229.66,592.96 C228.68,592.69 227.77,592.35 226.99,591.99 C226.21,591.64 225.53,591.22 224.99,590.8 C224.45,590.37 224.03,589.9 223.75,589.44 C223.48,588.97 223.33,588.48 223.33,588 C223.33,587.52 223.48,587.03 223.75,586.56 C224.03,586.1 224.45,585.63 224.99,585.2 C225.53,584.78 226.21,584.36 226.99,584.01 C227.77,583.65 228.68,583.31 229.66,583.04 C230.64,582.77 231.73,582.55 232.86,582.39 C233.98,582.23 235.2,582.13 236.4,582.1 C237.6,582.07 238.86,582.11 240.05,582.21 C241.25,582.32 242.46,582.5 243.56,582.74 C244.66,582.98 245.73,583.29 246.65,583.65 C247.56,584.01 248.4,584.44 249.06,584.9 C249.72,585.35 250.26,585.87 250.6,586.38 C250.95,586.9 251.13,587.46 251.13,588 Z" stroke="#444" stroke-width="0.6" fill="none" />
<path d="M256.12,588 C256.12,588.68 255.87,589.39 255.41,590.04 C254.95,590.69 254.23,591.34 253.35,591.92 C252.46,592.49 251.34,593.04 250.11,593.49 C248.88,593.95 247.45,594.34 245.98,594.65 C244.51,594.95 242.89,595.17 241.29,595.31 C239.69,595.44 238,595.49 236.4,595.45 C234.8,595.41 233.16,595.28 231.66,595.08 C230.16,594.89 228.69,594.6 227.38,594.26 C226.07,593.92 224.85,593.5 223.81,593.04 C222.76,592.59 221.85,592.07 221.13,591.53 C220.41,590.99 219.84,590.41 219.48,589.82 C219.11,589.23 218.92,588.61 218.92,588 C218.92,587.39 219.11,586.77 219.48,586.18 C219.84,585.59 220.41,585.01 221.13,584.47 C221.85,583.93 222.76,583.41 223.81,582.96 C224.85,582.5 226.07,582.08 227.38,581.74 C228.69,581.4 230.16,581.11 231.66,580.92 C233.16,580.72 234.8,580.59 236.4,580.55 C238,580.51 239.69,580.56 241.29,580.69 C242.89,580.83 244.51,581.05 245.98,581.35 C247.45,581.66 248.88,582.05 250.11,582.51 C251.34,582.96 252.46,583.51 253.35,584.08 C254.23,584.66 254.95,585.31 255.41,585.96 C255.87,586.61 256.12,587.32 256.12,588 Z" stroke="#444" stroke-width="0.6" fill="none" />
<path d="M261.1,588 C261.1,588.82 260.79,589.68 260.21,590.46 C259.63,591.25 258.73,592.04 257.63,592.73 C256.52,593.43 255.11,594.08 253.57,594.63 C252.04,595.18 250.24,595.66 248.4,596.03 C246.56,596.39 244.52,596.67 242.52,596.83 C240.52,596.99 238.41,597.04 236.4,597 C234.39,596.96 232.35,596.8 230.46,596.56 C228.58,596.32 226.74,595.97 225.1,595.56 C223.46,595.15 221.93,594.64 220.62,594.09 C219.32,593.54 218.17,592.92 217.27,592.27 C216.37,591.62 215.66,590.91 215.2,590.19 C214.74,589.48 214.5,588.73 214.5,588 C214.5,587.27 214.74,586.52 215.2,585.81 C215.66,585.09 216.37,584.38 217.27,583.73 C218.17,583.08 219.32,582.46 220.62,581.91 C221.93,581.36 223.46,580.85 225.1,580.44 C226.74,580.03 228.58,579.68 230.46,579.44 C232.35,579.2 234.39,579.04 236.4,579 C238.41,578.96 240.52,579.01 242.52,579.17 C244.52,579.33 246.56,579.61 248.4,579.97 C250.24,580.34 252.04,580.82 253.57,581.37 C255.11,581.92 256.52,582.57 257.63,583.27 C258.73,583.96 259.63,584.75 260.21,585.54 C260.79,586.32 261.1,587.18 261.1,588 Z" stroke="#444" stroke-width="0.6" fill="none" />
<path d="M266.08,588 C266.08,588.96 265.71,589.96 265.01,590.89 C264.32,591.81 263.24,592.73 261.91,593.55 C260.58,594.36 258.89,595.13 257.04,595.78 C255.19,596.42 253.03,596.98 250.82,597.41 C248.61,597.84 246.16,598.16 243.76,598.35 C241.36,598.54 238.82,598.6 236.4,598.55 C233.98,598.5 231.53,598.31 229.27,598.03 C227,597.75 224.79,597.34 222.82,596.86 C220.85,596.38 219.01,595.79 217.44,595.14 C215.87,594.5 214.5,593.76 213.41,593 C212.32,592.24 211.48,591.41 210.92,590.57 C210.37,589.74 210.08,588.86 210.08,588 C210.08,587.14 210.37,586.26 210.92,585.43 C211.48,584.59 212.32,583.76 213.41,583 C214.5,582.24 215.87,581.5 217.44,580.86 C219.01,580.21 220.85,579.62 222.82,579.14 C224.79,578.66 227,578.25 229.27,577.97 C231.53,577.69 233.98,577.5 236.4,577.45 C238.82,577.4 241.36,577.46 243.76,577.65 C246.16,577.84 248.61,578.16 250.82,578.59 C253.03,579.02 255.19,579.58 257.04,580.22 C258.89,580.87 260.58,581.64 261.91,582.45 C263.24,583.27 264.32,584.19 265.01,585.11 C265.71,586.04 266.08,587.04 266.08,588 Z" stroke="#444" stroke-width="0.6" fill="none" />
<path d="M271.06,588 C271.06,589.1 270.63,590.25 269.82,591.31 C269,592.37 267.74,593.43 266.19,594.36 C264.64,595.3 262.66,596.18 260.5,596.92 C258.35,597.66 255.83,598.3 253.24,598.79 C250.66,599.28 247.8,599.65 244.99,599.87 C242.19,600.09 239.22,600.16 236.4,600.1 C233.58,600.04 230.71,599.83 228.07,599.51 C225.42,599.18 222.84,598.72 220.54,598.16 C218.24,597.61 216.09,596.93 214.26,596.19 C212.43,595.45 210.82,594.61 209.55,593.74 C208.28,592.86 207.29,591.91 206.64,590.95 C206,589.99 205.66,588.98 205.66,588 C205.66,587.02 206,586.01 206.64,585.05 C207.29,584.09 208.28,583.14 209.55,582.26 C210.82,581.39 212.43,580.55 214.26,579.81 C216.09,579.07 218.24,578.39 220.54,577.84 C222.84,577.28 225.42,576.82 228.07,576.49 C230.71,576.17 233.58,575.96 236.4,575.9 C239.22,575.84 242.19,575.91 244.99,576.13 C247.8,576.35 250.66,576.72 253.24,577.21 C255.83,577.7 258.35,578.34 260.5,579.08 C262.66,579.82 264.64,580.7 266.19,581.64 C267.74,582.57 269,583.63 269.82,584.69 C270.63,585.75 271.06,586.9 271.06,588 Z" stroke="#444" stroke-width="0.6" fill="none" />
<path d="M276.04,588 C276.04,589.25 275.55,590.54 274.62,591.74 C273.69,592.93 272.25,594.13 270.47,595.18 C268.7,596.23 266.44,597.23 263.97,598.06 C261.5,598.89 258.62,599.62 255.66,600.18 C252.7,600.73 249.44,601.14 246.23,601.39 C243.02,601.64 239.63,601.72 236.4,601.65 C233.17,601.58 229.89,601.34 226.87,600.98 C223.85,600.62 220.89,600.09 218.26,599.47 C215.63,598.84 213.17,598.08 211.08,597.24 C208.98,596.41 207.15,595.46 205.69,594.47 C204.24,593.48 203.11,592.41 202.37,591.33 C201.63,590.25 201.24,589.11 201.24,588 C201.24,586.89 201.63,585.75 202.37,584.67 C203.11,583.59 204.24,582.52 205.69,581.53 C207.15,580.54 208.98,579.59 211.08,578.76 C213.17,577.92 215.63,577.16 218.26,576.53 C220.89,575.91 223.85,575.38 226.87,575.02 C229.89,574.66 233.17,574.42 236.4,574.35 C239.63,574.28 243.02,574.36 246.23,574.61 C249.44,574.86 252.7,575.27 255.66,575.82 C258.62,576.38 261.5,577.11 263.97,577.94 C266.44,578.77 268.7,579.77 270.47,580.82 C272.25,581.87 273.69,583.07 274.62,584.26 C275.55,585.46 276.04,586.75 276.04,588 Z" stroke="#444" stroke-width="0.6" fill="none" />
<path d="M281.03,588 C281.03,589.39 280.47,590.83 279.42,592.16 C278.38,593.49 276.75,594.82 274.75,595.99 C272.76,597.17 270.21,598.28 267.43,599.2 C264.65,600.13 261.41,600.94 258.08,601.56 C254.75,602.18 251.08,602.64 247.47,602.91 C243.85,603.18 240.03,603.28 236.4,603.2 C232.77,603.12 229.08,602.86 225.67,602.45 C222.27,602.05 218.94,601.46 215.98,600.77 C213.02,600.08 210.25,599.22 207.89,598.29 C205.54,597.36 203.47,596.3 201.83,595.21 C200.2,594.11 198.93,592.91 198.09,591.71 C197.26,590.51 196.83,589.24 196.83,588 C196.83,586.76 197.26,585.49 198.09,584.29 C198.93,583.09 200.2,581.89 201.83,580.79 C203.47,579.7 205.54,578.64 207.89,577.71 C210.25,576.78 213.02,575.92 215.98,575.23 C218.94,574.54 222.27,573.95 225.67,573.55 C229.08,573.14 232.77,572.88 236.4,572.8 C240.03,572.72 243.85,572.82 247.47,573.09 C251.08,573.36 254.75,573.82 258.08,574.44 C261.41,575.06 264.65,575.87 267.43,576.8 C270.21,577.72 272.76,578.83 274.75,580.01 C276.75,581.18 278.38,582.51 279.42,583.84 C280.47,585.17 281.03,586.61 281.03,588 Z" stroke="#444" stroke-width="0.6" fill="none" />
<path d="M286.01,588 C286.01,589.53 285.39,591.12 284.23,592.59 C283.06,594.05 281.26,595.52 279.04,596.81 C276.81,598.1 273.99,599.32 270.9,600.35 C267.81,601.37 264.2,602.26 260.5,602.94 C256.8,603.62 252.72,604.13 248.7,604.43 C244.68,604.73 240.44,604.83 236.4,604.75 C232.36,604.67 228.26,604.37 224.48,603.93 C220.69,603.48 217,602.84 213.7,602.07 C210.41,601.31 207.33,600.36 204.71,599.34 C202.09,598.32 199.79,597.15 197.98,595.94 C196.16,594.73 194.74,593.41 193.81,592.08 C192.89,590.76 192.41,589.36 192.41,588 C192.41,586.64 192.89,585.24 193.81,583.92 C194.74,582.59 196.16,581.27 197.98,580.06 C199.79,578.85 202.09,577.68 204.71,576.66 C207.33,575.64 210.41,574.69 213.7,573.93 C217,573.16 220.69,572.52 224.48,572.07 C228.26,571.63 232.36,571.33 236.4,571.25 C240.44,571.17 244.68,571.27 248.7,571.57 C252.72,571.87 256.8,572.38 260.5,573.06 C264.2,573.74 267.81,574.63 270.9,575.65 C273.99,576.68 276.81,577.9 279.04,579.19 C281.26,580.48 283.06,581.95 284.23,583.41 C285.39,584.88 286.01,586.47 286.01,588 Z" stroke="#444" stroke-width="0.6" fill="none" />
<rect x="236.4" y="570" width="3" height="31" fill="#222"/>
<path d="M258,600.6 L260,596.6 L278,596.6 L292,598.4 L296,600.6 Z" stroke="#111" stroke-width="0.5" fill="#111" />
</g>
<rect x="19.9" y="496.6" width="105.5" height="104" fill="none" stroke="#666" stroke-width="0.8"/>
<line x1="45.3" y1="496.6" x2="45.3" y2="600.6" stroke="#777" stroke-width="0.6"/>
<line x1="19.9" y1="574.2" x2="125.4" y2="574.2" stroke="#777" stroke-width="0.6"/>
<line x1="18.3" y1="507" x2="19.9" y2="507" stroke="#444" stroke-width="0.6"/>
<line x1="18.3" y1="517.4" x2="19.9" y2="517.4" stroke="#444" stroke-width="0.6"/>
<line x1="18.3" y1="527.8" x2="19.9" y2="527.8" stroke="#444" stroke-width="0.6"/>
<line x1="18.3" y1="538.2" x2="19.9" y2="538.2" stroke="#444" stroke-width="0.6"/>
<line x1="18.3" y1="548.6" x2="19.9" y2="548.6" stroke="#444" stroke-width="0.6"/>
<line x1="18.3" y1="559" x2="19.9" y2="559" stroke="#444" stroke-width="0.6"/>
<line x1="18.3" y1="569.4" x2="19.9" y2="569.4" stroke="#444" stroke-width="0.6"/>
<line x1="18.3" y1="579.8" x2="19.9" y2="579.8" stroke="#444" stroke-width="0.6"/>
<line x1="18.3" y1="590.2" x2="19.9" y2="590.2" stroke="#444" stroke-width="0.6"/>
<line x1="30.45" y1="600.6" x2="30.45" y2="602.2" stroke="#444" stroke-width="0.6"/>
<line x1="41" y1="600.6" x2="41" y2="602.2" stroke="#444" stroke-width="0.6"/>
<line x1="51.55" y1="600.6" x2="51.55" y2="602.2" stroke="#444" stroke-width="0.6"/>
<line x1="62.1" y1="600.6" x2="62.1" y2="602.2" stroke="#444" stroke-width="0.6"/>
<line x1="72.65" y1="600.6" x2="72.65" y2="602.2" stroke="#444" stroke-width="0.6"/>
<line x1="83.2" y1="600.6" x2="83.2" y2="602.2" stroke="#444" stroke-width="0.6"/>
<line x1="93.75" y1="600.6" x2="93.75" y2="602.2" stroke="#444" stroke-width="0.6"/>
<line x1="104.3" y1="600.6" x2="104.3" y2="602.2" stroke="#444" stroke-width="0.6"/>
<line x1="114.85" y1="600.6" x2="114.85" y2="602.2" stroke="#444" stroke-width="0.6"/>
<text x="22.5" y="507.8" font-size="9.4" text-anchor="start" fill="#000">0.92</text>
<text x="123.8" y="507.8" font-size="9.4" text-anchor="end" fill="#000">13.5</text>
<rect x="21.6" y="591.32" width="20.4" height="9.21" fill="#fff" stroke="#999" stroke-width="0.4"/>
<text x="22.5" y="599.4" font-size="9.4" text-anchor="start" fill="#000">78.2</text>
<text x="123.8" y="599.4" font-size="9.4" text-anchor="end" fill="#000">7.37</text>
<rect x="128.5" y="496.6" width="105.1" height="104" fill="none" stroke="#666" stroke-width="0.8"/>
<line x1="153.3" y1="496.6" x2="153.3" y2="600.6" stroke="#777" stroke-width="0.6"/>
<line x1="128.5" y1="574.2" x2="233.6" y2="574.2" stroke="#777" stroke-width="0.6"/>
<line x1="126.9" y1="507" x2="128.5" y2="507" stroke="#444" stroke-width="0.6"/>
<line x1="126.9" y1="517.4" x2="128.5" y2="517.4" stroke="#444" stroke-width="0.6"/>
<line x1="126.9" y1="527.8" x2="128.5" y2="527.8" stroke="#444" stroke-width="0.6"/>
<line x1="126.9" y1="538.2" x2="128.5" y2="538.2" stroke="#444" stroke-width="0.6"/>
<line x1="126.9" y1="548.6" x2="128.5" y2="548.6" stroke="#444" stroke-width="0.6"/>
<line x1="126.9" y1="559" x2="128.5" y2="559" stroke="#444" stroke-width="0.6"/>
<line x1="126.9" y1="569.4" x2="128.5" y2="569.4" stroke="#444" stroke-width="0.6"/>
<line x1="126.9" y1="579.8" x2="128.5" y2="579.8" stroke="#444" stroke-width="0.6"/>
<line x1="126.9" y1="590.2" x2="128.5" y2="590.2" stroke="#444" stroke-width="0.6"/>
<line x1="139.01" y1="600.6" x2="139.01" y2="602.2" stroke="#444" stroke-width="0.6"/>
<line x1="149.52" y1="600.6" x2="149.52" y2="602.2" stroke="#444" stroke-width="0.6"/>
<line x1="160.03" y1="600.6" x2="160.03" y2="602.2" stroke="#444" stroke-width="0.6"/>
<line x1="170.54" y1="600.6" x2="170.54" y2="602.2" stroke="#444" stroke-width="0.6"/>
<line x1="181.05" y1="600.6" x2="181.05" y2="602.2" stroke="#444" stroke-width="0.6"/>
<line x1="191.56" y1="600.6" x2="191.56" y2="602.2" stroke="#444" stroke-width="0.6"/>
<line x1="202.07" y1="600.6" x2="202.07" y2="602.2" stroke="#444" stroke-width="0.6"/>
<line x1="212.58" y1="600.6" x2="212.58" y2="602.2" stroke="#444" stroke-width="0.6"/>
<line x1="223.09" y1="600.6" x2="223.09" y2="602.2" stroke="#444" stroke-width="0.6"/>
<text x="131.1" y="507.8" font-size="9.4" text-anchor="start" fill="#000">1.52</text>
<text x="232" y="507.8" font-size="9.4" text-anchor="end" fill="#000">22.9</text>
<rect x="130.2" y="591.32" width="20.4" height="9.21" fill="#fff" stroke="#999" stroke-width="0.4"/>
<text x="131.1" y="599.4" font-size="9.4" text-anchor="start" fill="#000">66.2</text>
<text x="232" y="599.4" font-size="9.4" text-anchor="end" fill="#000">9.32</text>
<rect x="236.4" y="496.6" width="104.5" height="104" fill="none" stroke="#666" stroke-width="0.8"/>
<line x1="261.6" y1="496.6" x2="261.6" y2="600.6" stroke="#777" stroke-width="0.6"/>
<line x1="236.4" y1="573.6" x2="340.9" y2="573.6" stroke="#777" stroke-width="0.6"/>
<line x1="234.8" y1="507" x2="236.4" y2="507" stroke="#444" stroke-width="0.6"/>
<line x1="234.8" y1="517.4" x2="236.4" y2="517.4" stroke="#444" stroke-width="0.6"/>
<line x1="234.8" y1="527.8" x2="236.4" y2="527.8" stroke="#444" stroke-width="0.6"/>
<line x1="234.8" y1="538.2" x2="236.4" y2="538.2" stroke="#444" stroke-width="0.6"/>
<line x1="234.8" y1="548.6" x2="236.4" y2="548.6" stroke="#444" stroke-width="0.6"/>
<line x1="234.8" y1="559" x2="236.4" y2="559" stroke="#444" stroke-width="0.6"/>
<line x1="234.8" y1="569.4" x2="236.4" y2="569.4" stroke="#444" stroke-width="0.6"/>
<line x1="234.8" y1="579.8" x2="236.4" y2="579.8" stroke="#444" stroke-width="0.6"/>
<line x1="234.8" y1="590.2" x2="236.4" y2="590.2" stroke="#444" stroke-width="0.6"/>
<line x1="246.85" y1="600.6" x2="246.85" y2="602.2" stroke="#444" stroke-width="0.6"/>
<line x1="257.3" y1="600.6" x2="257.3" y2="602.2" stroke="#444" stroke-width="0.6"/>
<line x1="267.75" y1="600.6" x2="267.75" y2="602.2" stroke="#444" stroke-width="0.6"/>
<line x1="278.2" y1="600.6" x2="278.2" y2="602.2" stroke="#444" stroke-width="0.6"/>
<line x1="288.65" y1="600.6" x2="288.65" y2="602.2" stroke="#444" stroke-width="0.6"/>
<line x1="299.1" y1="600.6" x2="299.1" y2="602.2" stroke="#444" stroke-width="0.6"/>
<line x1="309.55" y1="600.6" x2="309.55" y2="602.2" stroke="#444" stroke-width="0.6"/>
<line x1="320" y1="600.6" x2="320" y2="602.2" stroke="#444" stroke-width="0.6"/>
<line x1="330.45" y1="600.6" x2="330.45" y2="602.2" stroke="#444" stroke-width="0.6"/>
<text x="239" y="507.8" font-size="9.4" text-anchor="start" fill="#000">0.96</text>
<text x="339.3" y="507.8" font-size="9.4" text-anchor="end" fill="#000">27.3</text>
<rect x="238.1" y="591.32" width="20.4" height="9.21" fill="#fff" stroke="#999" stroke-width="0.4"/>
<text x="239" y="599.4" font-size="9.4" text-anchor="start" fill="#000">64.8</text>
<text x="339.3" y="599.4" font-size="9.4" text-anchor="end" fill="#000">6.95</text>
<line x1="387.5" y1="508.5" x2="387.5" y2="593.7" stroke="#000" stroke-width="1.6"/>
<line x1="386.7" y1="592.9" x2="513" y2="592.9" stroke="#000" stroke-width="1.6"/>
<line x1="384.7" y1="592.9" x2="387.5" y2="592.9" stroke="#000" stroke-width="1.5"/>
<text x="382.9" y="595.5" font-size="7.2" text-anchor="end" fill="#000">0</text>
<line x1="384.7" y1="583.67" x2="387.5" y2="583.67" stroke="#000" stroke-width="1.5"/>
<text x="382.9" y="586.27" font-size="7.2" text-anchor="end" fill="#000">5</text>
<line x1="384.7" y1="574.45" x2="387.5" y2="574.45" stroke="#000" stroke-width="1.5"/>
<text x="382.9" y="577.05" font-size="7.2" text-anchor="end" fill="#000">10</text>
<line x1="384.7" y1="565.23" x2="387.5" y2="565.23" stroke="#000" stroke-width="1.5"/>
<text x="382.9" y="567.83" font-size="7.2" text-anchor="end" fill="#000">15</text>
<line x1="384.7" y1="556" x2="387.5" y2="556" stroke="#000" stroke-width="1.5"/>
<text x="382.9" y="558.6" font-size="7.2" text-anchor="end" fill="#000">20</text>
<line x1="384.7" y1="546.77" x2="387.5" y2="546.77" stroke="#000" stroke-width="1.5"/>
<text x="382.9" y="549.38" font-size="7.2" text-anchor="end" fill="#000">25</text>
<line x1="384.7" y1="537.55" x2="387.5" y2="537.55" stroke="#000" stroke-width="1.5"/>
<text x="382.9" y="540.15" font-size="7.2" text-anchor="end" fill="#000">30</text>
<line x1="384.7" y1="528.32" x2="387.5" y2="528.32" stroke="#000" stroke-width="1.5"/>
<text x="382.9" y="530.92" font-size="7.2" text-anchor="end" fill="#000">35</text>
<line x1="384.7" y1="519.1" x2="387.5" y2="519.1" stroke="#000" stroke-width="1.5"/>
<text x="382.9" y="521.7" font-size="7.2" text-anchor="end" fill="#000">40</text>
<line x1="384.7" y1="509.88" x2="387.5" y2="509.88" stroke="#000" stroke-width="1.5"/>
<text x="382.9" y="512.48" font-size="7.2" text-anchor="end" fill="#000">45</text>
<text font-size="7.9" font-weight="bold" text-anchor="middle" transform="translate(368,550.5) rotate(-90)">% of Annexin V+ CD4 T cells</text>
<line x1="408.7" y1="551.57" x2="408.7" y2="550.28" stroke="#000" stroke-width="1.3"/>
<line x1="401.2" y1="550.28" x2="416.2" y2="550.28" stroke="#000" stroke-width="1.4"/>
<rect x="394.9" y="551.57" width="27.6" height="41.33" fill="#fff" stroke="#000" stroke-width="1.3"/>
<line x1="408.7" y1="592.9" x2="408.7" y2="595.3" stroke="#000" stroke-width="1"/>
<line x1="450.8" y1="529.99" x2="450.8" y2="528.14" stroke="#000" stroke-width="1.3"/>
<line x1="443.3" y1="528.14" x2="458.3" y2="528.14" stroke="#000" stroke-width="1.4"/>
<rect x="437" y="529.99" width="27.6" height="62.91" fill="#707070" stroke="#000" stroke-width="1.3"/>
<line x1="450.8" y1="592.9" x2="450.8" y2="595.3" stroke="#000" stroke-width="1"/>
<line x1="492.6" y1="522.05" x2="492.6" y2="516.7" stroke="#000" stroke-width="1.3"/>
<line x1="485.1" y1="516.7" x2="500.1" y2="516.7" stroke="#000" stroke-width="1.4"/>
<rect x="478.2" y="522.05" width="28.8" height="70.85" fill="#000"/>
<line x1="492.6" y1="592.9" x2="492.6" y2="595.3" stroke="#000" stroke-width="1"/>
<path d="M405.4,523.6 L405.4,514.9 L450.5,514.9 L450.5,523.3" stroke="#000" stroke-width="0.9" fill="none" />
<text x="428.3" y="513.8" font-size="9.5" font-weight="bold" text-anchor="middle" fill="#000">*</text>
<path d="M399.6,504.2 L399.6,496.3 L493.8,496.3 L493.8,504.2" stroke="#000" stroke-width="0.9" fill="none" />
<text x="443.1" y="494.8" font-size="9.5" font-weight="bold" text-anchor="middle" fill="#000">*</text>
<text x="409.2" y="605" font-size="7.6" text-anchor="middle" fill="#000">WT</text>
<text x="450.8" y="605" font-size="7.6" text-anchor="middle" fill="#000">f/+</text>
<text x="492.3" y="605" font-size="7.6" text-anchor="middle" fill="#000">KO</text>
</svg></body></html>
